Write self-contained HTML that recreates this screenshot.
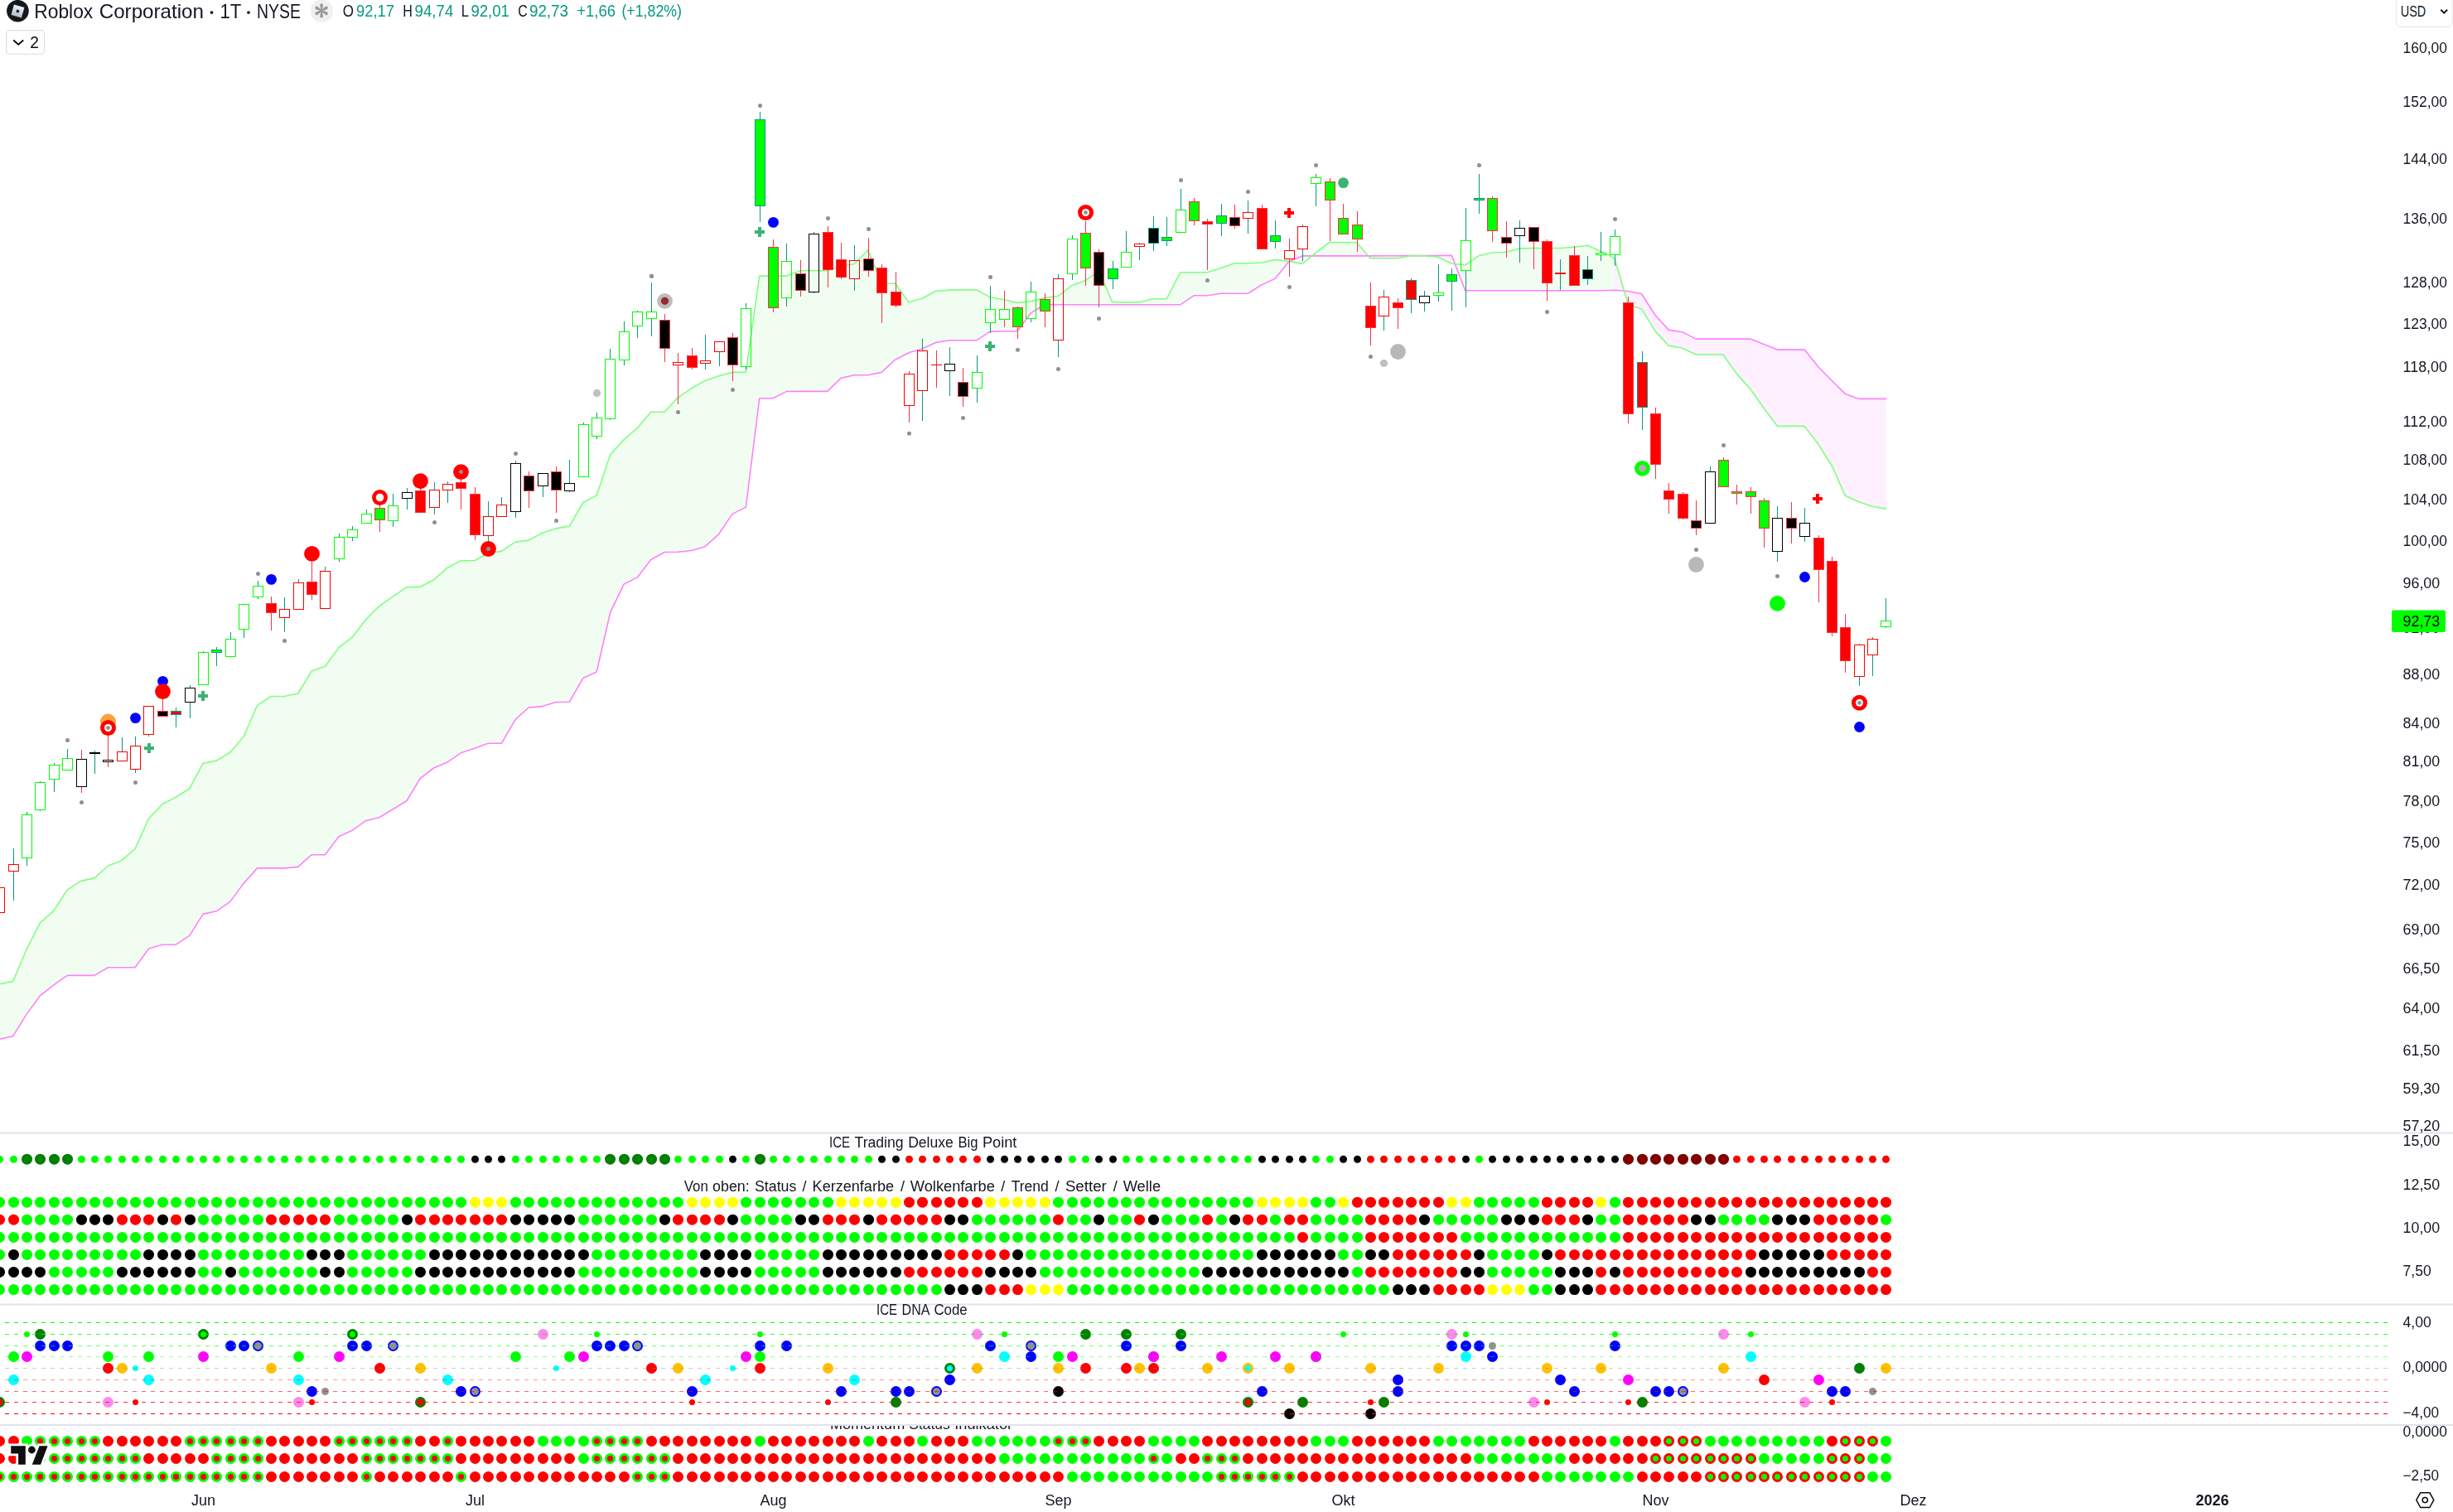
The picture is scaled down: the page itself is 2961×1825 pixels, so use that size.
<!DOCTYPE html>
<html><head><meta charset="utf-8"><title>Roblox Corporation</title>
<style>html,body{margin:0;padding:0;background:#fff;overflow:hidden}svg{display:block}text{font-family:"Liberation Sans",sans-serif}</style></head>
<body>
<svg width="2961" height="1825" viewBox="0 0 2961 1825" font-family="Liberation Sans, sans-serif">
<path d="M-17.1 1188.4 L-0.7 1187.8 L-0.7 1254.3 L-17.1 1255.0Z M-0.7 1187.8 L15.7 1184.4 L15.7 1250.7 L-0.7 1254.3Z M15.7 1184.4 L32.1 1145.8 L32.1 1224.1 L15.7 1250.7Z M32.1 1145.8 L48.4 1113.8 L48.4 1201.8 L32.1 1224.1Z M48.4 1113.8 L64.8 1099.3 L64.8 1188.8 L48.4 1201.8Z M64.8 1099.3 L81.2 1074.1 L81.2 1177.4 L64.8 1188.8Z M81.2 1074.1 L97.6 1063.4 L97.6 1177.4 L81.2 1177.4Z M97.6 1063.4 L114.0 1059.9 L114.0 1177.4 L97.6 1177.4Z M114.0 1059.9 L130.4 1045.0 L130.4 1167.8 L114.0 1177.4Z M130.4 1045.0 L146.7 1038.7 L146.7 1167.8 L130.4 1167.8Z M146.7 1038.7 L163.1 1024.5 L163.1 1167.8 L146.7 1167.8Z M163.1 1024.5 L179.5 988.2 L179.5 1145.0 L163.1 1167.8Z M179.5 988.2 L195.9 970.7 L195.9 1140.2 L179.5 1145.0Z M195.9 970.7 L212.3 962.1 L212.3 1140.2 L195.9 1140.2Z M212.3 962.1 L228.7 952.0 L228.7 1129.4 L212.3 1140.2Z M228.7 952.0 L245.0 921.4 L245.0 1103.4 L228.7 1129.4Z M245.0 921.4 L261.4 918.1 L261.4 1099.7 L245.0 1103.4Z M261.4 918.1 L277.8 908.2 L277.8 1088.4 L261.4 1099.7Z M277.8 908.2 L294.2 888.8 L294.2 1066.1 L277.8 1088.4Z M294.2 888.8 L310.6 851.3 L310.6 1047.9 L294.2 1066.1Z M310.6 851.3 L327.0 840.5 L327.0 1047.9 L310.6 1047.9Z M327.0 840.5 L343.3 840.5 L343.3 1047.9 L327.0 1047.9Z M343.3 840.5 L359.7 837.0 L359.7 1046.4 L343.3 1047.9Z M359.7 837.0 L376.1 810.1 L376.1 1031.7 L359.7 1046.4Z M376.1 810.1 L392.5 804.3 L392.5 1031.7 L376.1 1031.7Z M392.5 804.3 L408.9 781.7 L408.9 1009.7 L392.5 1031.7Z M408.9 781.7 L425.3 769.1 L425.3 1002.2 L408.9 1009.7Z M425.3 769.1 L441.6 747.7 L441.6 990.7 L425.3 1002.2Z M441.6 747.7 L458.0 731.4 L458.0 986.5 L441.6 990.7Z M458.0 731.4 L474.4 719.8 L474.4 976.7 L458.0 986.5Z M474.4 719.8 L490.8 708.8 L490.8 966.8 L474.4 976.7Z M490.8 708.8 L507.2 708.4 L507.2 939.5 L490.8 966.8Z M507.2 708.4 L523.6 699.8 L523.6 927.0 L507.2 939.5Z M523.6 699.8 L539.9 685.4 L539.9 920.1 L523.6 927.0Z M539.9 685.4 L556.3 676.8 L556.3 908.8 L539.9 920.1Z M556.3 676.8 L572.7 676.8 L572.7 903.2 L556.3 908.8Z M572.7 676.8 L589.1 667.8 L589.1 897.2 L572.7 903.2Z M589.1 667.8 L605.5 665.4 L605.5 897.2 L589.1 897.2Z M605.5 665.4 L621.9 654.1 L621.9 868.6 L605.5 897.2Z M621.9 654.1 L638.2 652.1 L638.2 854.0 L621.9 868.6Z M638.2 652.1 L654.6 643.3 L654.6 852.6 L638.2 854.0Z M654.6 643.3 L671.0 637.9 L671.0 847.5 L654.6 852.6Z M671.0 637.9 L687.4 635.1 L687.4 847.2 L671.0 847.5Z M687.4 635.1 L703.8 606.5 L703.8 818.5 L687.4 847.2Z M703.8 606.5 L720.2 597.9 L720.2 811.0 L703.8 818.5Z M720.2 597.9 L736.5 549.0 L736.5 739.7 L720.2 811.0Z M736.5 549.0 L752.9 530.9 L752.9 705.3 L736.5 739.7Z M752.9 530.9 L769.3 516.7 L769.3 696.9 L752.9 705.3Z M769.3 516.7 L785.7 497.3 L785.7 675.5 L769.3 696.9Z M785.7 497.3 L802.1 497.3 L802.1 666.5 L785.7 675.5Z M802.1 497.3 L818.4 479.8 L818.4 666.2 L802.1 666.5Z M818.4 479.8 L834.8 468.8 L834.8 664.5 L818.4 666.2Z M834.8 468.8 L851.2 459.4 L851.2 659.7 L834.8 664.5Z M851.2 459.4 L867.6 453.8 L867.6 644.8 L851.2 659.7Z M867.6 453.8 L884.0 449.4 L884.0 620.4 L867.6 644.8Z M884.0 449.4 L900.4 449.4 L900.4 612.1 L884.0 620.4Z M900.4 449.4 L916.7 333.1 L916.7 480.8 L900.4 612.1Z M916.7 333.1 L933.1 333.1 L933.1 480.8 L916.7 480.8Z M933.1 333.1 L949.5 333.1 L949.5 472.4 L933.1 480.8Z M949.5 333.1 L965.9 326.7 L965.9 472.4 L949.5 472.4Z M965.9 326.7 L982.3 326.7 L982.3 472.4 L965.9 472.4Z M982.3 326.7 L998.7 326.7 L998.7 472.4 L982.3 472.4Z M998.7 326.7 L1015.0 321.3 L1015.0 456.4 L998.7 472.4Z M1015.0 321.3 L1031.4 318.5 L1031.4 452.8 L1015.0 456.4Z M1031.4 318.5 L1047.8 301.8 L1047.8 452.8 L1031.4 452.8Z M1047.8 301.8 L1064.2 342.3 L1064.2 449.4 L1047.8 452.8Z M1064.2 342.3 L1080.6 342.3 L1080.6 434.2 L1064.2 449.4Z M1080.6 342.3 L1097.0 364.7 L1097.0 425.8 L1080.6 434.2Z M1097.0 364.7 L1113.3 360.3 L1113.3 420.8 L1097.0 425.8Z M1113.3 360.3 L1129.7 351.3 L1129.7 413.4 L1113.3 420.8Z M1129.7 351.3 L1146.1 350.1 L1146.1 410.7 L1129.7 413.4Z M1146.1 350.1 L1162.5 349.9 L1162.5 410.7 L1146.1 410.7Z M1162.5 349.9 L1178.9 349.9 L1178.9 410.7 L1162.5 410.7Z M1178.9 349.9 L1195.3 358.8 L1195.3 400.1 L1178.9 410.7Z M1195.3 358.8 L1211.6 361.8 L1211.6 399.7 L1195.3 400.1Z M1211.6 361.8 L1228.0 365.4 L1228.0 399.7 L1211.6 399.7Z M1228.0 365.4 L1244.4 363.8 L1244.4 377.8 L1228.0 399.7Z M1244.4 363.8 L1260.8 359.4 L1260.8 367.8 L1244.4 377.8Z M1260.8 359.4 L1277.2 357.4 L1277.2 367.8 L1260.8 367.8Z M1277.2 357.4 L1293.6 344.8 L1293.6 367.8 L1277.2 367.8Z M1293.6 344.8 L1309.9 338.8 L1309.9 367.8 L1293.6 367.8Z M1309.9 338.8 L1326.3 326.8 L1326.3 367.8 L1309.9 367.8Z M1326.3 326.8 L1342.7 364.8 L1342.7 367.8 L1326.3 367.8Z M1342.7 364.8 L1359.1 364.8 L1359.1 367.8 L1342.7 367.8Z M1359.1 364.8 L1375.5 364.8 L1375.5 367.8 L1359.1 367.8Z M1375.5 364.8 L1391.9 360.8 L1391.9 367.8 L1375.5 367.8Z M1391.9 360.8 L1408.2 360.8 L1408.2 367.8 L1391.9 367.8Z M1408.2 360.8 L1424.6 328.8 L1424.6 367.8 L1408.2 367.8Z M1424.6 328.8 L1441.0 328.8 L1441.0 356.8 L1424.6 367.8Z M1441.0 328.8 L1457.4 328.8 L1457.4 356.8 L1441.0 356.8Z M1457.4 328.8 L1473.8 323.4 L1473.8 354.2 L1457.4 356.8Z M1473.8 323.4 L1490.2 317.8 L1490.2 354.2 L1473.8 354.2Z M1490.2 317.8 L1506.5 317.8 L1506.5 354.2 L1490.2 354.2Z M1506.5 317.8 L1522.9 317.0 L1522.9 343.8 L1506.5 354.2Z M1522.9 317.0 L1539.3 313.4 L1539.3 336.2 L1522.9 343.8Z M1539.3 313.4 L1555.7 315.4 L1555.7 315.8 L1539.3 336.2Z M1572.1 318.4 L1583.6 308.9 L1572.1 308.9Z M1583.6 308.9 L1588.5 304.9 L1588.5 308.9Z M1588.5 304.9 L1604.8 292.5 L1604.8 308.9 L1588.5 308.9Z M1604.8 292.5 L1621.2 292.5 L1621.2 308.9 L1604.8 308.9Z M1621.2 292.5 L1637.6 292.7 L1637.6 308.9 L1621.2 308.9Z M1752.3 318.2 L1756.2 318.6 L1752.3 308.4Z M1756.2 318.6 L1768.7 319.8 L1768.7 350.8Z M1768.7 319.8 L1785.0 308.8 L1785.0 350.8 L1768.7 350.8Z M1785.0 308.8 L1801.4 304.8 L1801.4 350.8 L1785.0 350.8Z M1801.4 304.8 L1817.8 304.2 L1817.8 350.8 L1801.4 350.8Z M1817.8 304.2 L1834.2 299.9 L1834.2 350.8 L1817.8 350.8Z M1834.2 299.9 L1850.6 299.5 L1850.6 350.8 L1834.2 350.8Z M1850.6 299.5 L1867.0 299.5 L1867.0 350.8 L1850.6 350.8Z M1867.0 299.5 L1883.3 299.5 L1883.3 350.8 L1867.0 350.8Z M1883.3 299.5 L1899.7 298.3 L1899.7 350.8 L1883.3 350.8Z M1899.7 298.3 L1916.1 296.3 L1916.1 350.8 L1899.7 350.8Z M1916.1 296.3 L1932.5 303.2 L1932.5 350.8 L1916.1 350.8Z M1932.5 303.2 L1948.9 311.8 L1948.9 350.2 L1932.5 350.8Z" fill="#f2fdf2" stroke="#f2fdf2" stroke-width="0.6"/>
<path d="M1555.7 315.4 L1556.3 315.6 L1555.7 315.8Z M1556.3 315.6 L1572.1 318.4 L1572.1 308.9Z M1637.6 292.7 L1651.4 308.9 L1637.6 308.9Z M1651.4 308.9 L1654.0 311.8 L1654.0 308.9Z M1654.0 311.8 L1670.4 311.8 L1670.4 308.8 L1654.0 308.9Z M1670.4 311.8 L1686.7 311.8 L1686.7 308.7 L1670.4 308.8Z M1686.7 311.8 L1703.1 308.8 L1703.1 308.6 L1686.7 308.7Z M1703.1 308.8 L1719.5 308.8 L1719.5 308.6 L1703.1 308.6Z M1719.5 308.8 L1735.9 310.2 L1735.9 308.5 L1719.5 308.6Z M1735.9 310.2 L1752.3 318.2 L1752.3 308.4 L1735.9 308.5Z M1948.9 311.8 L1960.5 351.1 L1948.9 350.2Z M1960.5 351.1 L1965.3 367.4 L1965.3 351.5Z M1965.3 367.4 L1981.6 372.9 L1981.6 354.7 L1965.3 351.5Z M1981.6 372.9 L1998.0 399.6 L1998.0 380.5 L1981.6 354.7Z M1998.0 399.6 L2014.4 417.4 L2014.4 398.4 L1998.0 380.5Z M2014.4 417.4 L2030.8 420.3 L2030.8 400.8 L2014.4 398.4Z M2030.8 420.3 L2047.2 428.0 L2047.2 409.1 L2030.8 400.8Z M2047.2 428.0 L2063.6 428.0 L2063.6 409.1 L2047.2 409.1Z M2063.6 428.0 L2079.9 428.0 L2079.9 409.1 L2063.6 409.1Z M2079.9 428.0 L2096.3 451.1 L2096.3 409.1 L2079.9 409.1Z M2096.3 451.1 L2112.7 469.4 L2112.7 409.1 L2096.3 409.1Z M2112.7 469.4 L2129.1 492.8 L2129.1 415.5 L2112.7 409.1Z M2129.1 492.8 L2145.5 514.4 L2145.5 422.1 L2129.1 415.5Z M2145.5 514.4 L2161.9 514.4 L2161.9 422.1 L2145.5 422.1Z M2161.9 514.4 L2178.2 514.4 L2178.2 422.1 L2161.9 422.1Z M2178.2 514.4 L2194.6 535.8 L2194.6 442.5 L2178.2 422.1Z M2194.6 535.8 L2211.0 561.7 L2211.0 459.3 L2194.6 442.5Z M2211.0 561.7 L2227.4 598.3 L2227.4 475.4 L2211.0 459.3Z M2227.4 598.3 L2243.8 605.7 L2243.8 481.4 L2227.4 475.4Z M2243.8 605.7 L2260.2 611.3 L2260.2 481.4 L2243.8 481.4Z M2260.2 611.3 L2276.5 614.1 L2276.5 481.4 L2260.2 481.4Z" fill="#fef0fe" stroke="#fef0fe" stroke-width="0.6"/>
<polyline points="-17.1,1255.0 -0.7,1254.3 15.7,1250.7 32.1,1224.1 48.4,1201.8 64.8,1188.8 81.2,1177.4 97.6,1177.4 114.0,1177.4 130.4,1167.8 146.7,1167.8 163.1,1167.8 179.5,1145.0 195.9,1140.2 212.3,1140.2 228.7,1129.4 245.0,1103.4 261.4,1099.7 277.8,1088.4 294.2,1066.1 310.6,1047.9 327.0,1047.9 343.3,1047.9 359.7,1046.4 376.1,1031.7 392.5,1031.7 408.9,1009.7 425.3,1002.2 441.6,990.7 458.0,986.5 474.4,976.7 490.8,966.8 507.2,939.5 523.6,927.0 539.9,920.1 556.3,908.8 572.7,903.2 589.1,897.2 605.5,897.2 621.9,868.6 638.2,854.0 654.6,852.6 671.0,847.5 687.4,847.2 703.8,818.5 720.2,811.0 736.5,739.7 752.9,705.3 769.3,696.9 785.7,675.5 802.1,666.5 818.4,666.2 834.8,664.5 851.2,659.7 867.6,644.8 884.0,620.4 900.4,612.1 916.7,480.8 933.1,480.8 949.5,472.4 965.9,472.4 982.3,472.4 998.7,472.4 1015.0,456.4 1031.4,452.8 1047.8,452.8 1064.2,449.4 1080.6,434.2 1097.0,425.8 1113.3,420.8 1129.7,413.4 1146.1,410.7 1162.5,410.7 1178.9,410.7 1195.3,400.1 1211.6,399.7 1228.0,399.7 1244.4,377.8 1260.8,367.8 1277.2,367.8 1293.6,367.8 1309.9,367.8 1326.3,367.8 1342.7,367.8 1359.1,367.8 1375.5,367.8 1391.9,367.8 1408.2,367.8 1424.6,367.8 1441.0,356.8 1457.4,356.8 1473.8,354.2 1490.2,354.2 1506.5,354.2 1522.9,343.8 1539.3,336.2 1555.7,315.8 1572.1,308.9 1588.5,308.9 1604.8,308.9 1621.2,308.9 1637.6,308.9 1654.0,308.9 1670.4,308.8 1686.7,308.7 1703.1,308.6 1719.5,308.6 1735.9,308.5 1752.3,308.4 1768.7,350.8 1785.0,350.8 1801.4,350.8 1817.8,350.8 1834.2,350.8 1850.6,350.8 1867.0,350.8 1883.3,350.8 1899.7,350.8 1916.1,350.8 1932.5,350.8 1948.9,350.2 1965.3,351.5 1981.6,354.7 1998.0,380.5 2014.4,398.4 2030.8,400.8 2047.2,409.1 2063.6,409.1 2079.9,409.1 2096.3,409.1 2112.7,409.1 2129.1,415.5 2145.5,422.1 2161.9,422.1 2178.2,422.1 2194.6,442.5 2211.0,459.3 2227.4,475.4 2243.8,481.4 2260.2,481.4 2276.5,481.4" fill="none" stroke="#ff80ff" stroke-width="1.6" stroke-linejoin="round" stroke-linecap="round"/>
<polyline points="-17.1,1188.4 -0.7,1187.8 15.7,1184.4 32.1,1145.8 48.4,1113.8 64.8,1099.3 81.2,1074.1 97.6,1063.4 114.0,1059.9 130.4,1045.0 146.7,1038.7 163.1,1024.5 179.5,988.2 195.9,970.7 212.3,962.1 228.7,952.0 245.0,921.4 261.4,918.1 277.8,908.2 294.2,888.8 310.6,851.3 327.0,840.5 343.3,840.5 359.7,837.0 376.1,810.1 392.5,804.3 408.9,781.7 425.3,769.1 441.6,747.7 458.0,731.4 474.4,719.8 490.8,708.8 507.2,708.4 523.6,699.8 539.9,685.4 556.3,676.8 572.7,676.8 589.1,667.8 605.5,665.4 621.9,654.1 638.2,652.1 654.6,643.3 671.0,637.9 687.4,635.1 703.8,606.5 720.2,597.9 736.5,549.0 752.9,530.9 769.3,516.7 785.7,497.3 802.1,497.3 818.4,479.8 834.8,468.8 851.2,459.4 867.6,453.8 884.0,449.4 900.4,449.4 916.7,333.1 933.1,333.1 949.5,333.1 965.9,326.7 982.3,326.7 998.7,326.7 1015.0,321.3 1031.4,318.5 1047.8,301.8 1064.2,342.3 1080.6,342.3 1097.0,364.7 1113.3,360.3 1129.7,351.3 1146.1,350.1 1162.5,349.9 1178.9,349.9 1195.3,358.8 1211.6,361.8 1228.0,365.4 1244.4,363.8 1260.8,359.4 1277.2,357.4 1293.6,344.8 1309.9,338.8 1326.3,326.8 1342.7,364.8 1359.1,364.8 1375.5,364.8 1391.9,360.8 1408.2,360.8 1424.6,328.8 1441.0,328.8 1457.4,328.8 1473.8,323.4 1490.2,317.8 1506.5,317.8 1522.9,317.0 1539.3,313.4 1555.7,315.4 1572.1,318.4 1588.5,304.9 1604.8,292.5 1621.2,292.5 1637.6,292.7 1654.0,311.8 1670.4,311.8 1686.7,311.8 1703.1,308.8 1719.5,308.8 1735.9,310.2 1752.3,318.2 1768.7,319.8 1785.0,308.8 1801.4,304.8 1817.8,304.2 1834.2,299.9 1850.6,299.5 1867.0,299.5 1883.3,299.5 1899.7,298.3 1916.1,296.3 1932.5,303.2 1948.9,311.8 1965.3,367.4 1981.6,372.9 1998.0,399.6 2014.4,417.4 2030.8,420.3 2047.2,428.0 2063.6,428.0 2079.9,428.0 2096.3,451.1 2112.7,469.4 2129.1,492.8 2145.5,514.4 2161.9,514.4 2178.2,514.4 2194.6,535.8 2211.0,561.7 2227.4,598.3 2243.8,605.7 2260.2,611.3 2276.5,614.1" fill="none" stroke="#80ff80" stroke-width="1.6" stroke-linejoin="round" stroke-linecap="round"/>
<g shape-rendering="crispEdges">
<path d="M-7 1071h13v31h-13z M-6 1072v29h11v-29z" fill="#ff0000" fill-rule="evenodd"/>
<rect x="16" y="1024" width="1" height="19" fill="#089981"/>
<rect x="16" y="1052" width="1" height="35" fill="#089981"/>
<path d="M10 1043h13v9h-13z M11 1044v7h11v-7z" fill="#ff0000" fill-rule="evenodd"/>
<rect x="32" y="980" width="1" height="3" fill="#089981"/>
<rect x="32" y="1036" width="1" height="9" fill="#089981"/>
<path d="M26 983h13v53h-13z M27 984v51h11v-51z" fill="#00ff00" fill-rule="evenodd"/>
<rect x="48" y="943" width="1" height="1" fill="#089981"/>
<rect x="48" y="978" width="1" height="1" fill="#089981"/>
<path d="M42 944h13v34h-13z M43 945v32h11v-32z" fill="#00ff00" fill-rule="evenodd"/>
<rect x="65" y="921" width="1" height="2" fill="#089981"/>
<rect x="65" y="941" width="1" height="15" fill="#089981"/>
<path d="M59 923h13v18h-13z M60 924v16h11v-16z" fill="#00ff00" fill-rule="evenodd"/>
<rect x="81" y="904" width="1" height="11" fill="#089981"/>
<path d="M75 915h13v15h-13z M76 916v13h11v-13z" fill="#00ff00" fill-rule="evenodd"/>
<rect x="98" y="905" width="1" height="11" fill="#f23645"/>
<rect x="98" y="950" width="1" height="7" fill="#f23645"/>
<path d="M92 916h13v34h-13z M93 917v32h11v-32z" fill="#000000" fill-rule="evenodd"/>
<rect x="114" y="906" width="1" height="2" fill="#089981"/>
<rect x="114" y="910" width="1" height="24" fill="#089981"/>
<rect x="108" y="908" width="13" height="2" fill="#000000"/>
<rect x="130" y="888" width="1" height="29" fill="#f23645"/>
<rect x="130" y="920" width="1" height="6" fill="#f23645"/>
<rect x="124" y="917" width="13" height="3" fill="#000000"/>
<rect x="125" y="918" width="11" height="1" fill="#fff"/>
<rect x="147" y="890" width="1" height="17" fill="#089981"/>
<path d="M141 907h13v12h-13z M142 908v10h11v-10z" fill="#ff0000" fill-rule="evenodd"/>
<rect x="163" y="889" width="1" height="11" fill="#089981"/>
<rect x="163" y="929" width="1" height="4" fill="#089981"/>
<path d="M157 900h13v29h-13z M158 901v27h11v-27z" fill="#ff0000" fill-rule="evenodd"/>
<rect x="179" y="887" width="1" height="2" fill="#089981"/>
<path d="M173 852h13v35h-13z M174 853v33h11v-33z" fill="#ff0000" fill-rule="evenodd"/>
<rect x="196" y="843" width="1" height="15" fill="#f23645"/>
<rect x="190" y="858" width="13" height="7" fill="#f23645"/>
<rect x="191" y="859" width="11" height="5" fill="#000000"/>
<rect x="212" y="854" width="1" height="4" fill="#089981"/>
<rect x="212" y="863" width="1" height="15" fill="#089981"/>
<rect x="206" y="858" width="13" height="5" fill="#089981"/>
<rect x="207" y="859" width="11" height="3" fill="#ff0000"/>
<rect x="229" y="827" width="1" height="3" fill="#089981"/>
<rect x="229" y="848" width="1" height="19" fill="#089981"/>
<path d="M223 830h13v18h-13z M224 831v16h11v-16z" fill="#000000" fill-rule="evenodd"/>
<rect x="245" y="786" width="1" height="1" fill="#089981"/>
<path d="M239 787h13v40h-13z M240 788v38h11v-38z" fill="#00ff00" fill-rule="evenodd"/>
<rect x="261" y="781" width="1" height="3" fill="#089981"/>
<rect x="261" y="788" width="1" height="16" fill="#089981"/>
<rect x="255" y="784" width="13" height="4" fill="#089981"/>
<rect x="256" y="785" width="11" height="2" fill="#00ff00"/>
<rect x="278" y="763" width="1" height="8" fill="#089981"/>
<path d="M272 771h13v22h-13z M273 772v20h11v-20z" fill="#00ff00" fill-rule="evenodd"/>
<rect x="294" y="760" width="1" height="10" fill="#089981"/>
<path d="M288 729h13v31h-13z M289 730v29h11v-29z" fill="#00ff00" fill-rule="evenodd"/>
<rect x="311" y="701" width="1" height="6" fill="#089981"/>
<rect x="311" y="721" width="1" height="2" fill="#089981"/>
<path d="M305 707h13v14h-13z M306 708v12h11v-12z" fill="#00ff00" fill-rule="evenodd"/>
<rect x="327" y="720" width="1" height="8" fill="#f23645"/>
<rect x="327" y="740" width="1" height="21" fill="#f23645"/>
<rect x="321" y="728" width="13" height="12" fill="#f23645"/>
<rect x="322" y="729" width="11" height="10" fill="#ff0000"/>
<rect x="343" y="721" width="1" height="14" fill="#089981"/>
<rect x="343" y="746" width="1" height="17" fill="#089981"/>
<path d="M337 735h13v11h-13z M338 736v9h11v-9z" fill="#ff0000" fill-rule="evenodd"/>
<rect x="360" y="699" width="1" height="4" fill="#089981"/>
<path d="M354 703h13v33h-13z M355 704v31h11v-31z" fill="#ff0000" fill-rule="evenodd"/>
<rect x="376" y="678" width="1" height="24" fill="#f23645"/>
<rect x="376" y="718" width="1" height="6" fill="#f23645"/>
<rect x="370" y="702" width="13" height="16" fill="#f23645"/>
<rect x="371" y="703" width="11" height="14" fill="#ff0000"/>
<rect x="392" y="684" width="1" height="5" fill="#089981"/>
<path d="M386 689h13v46h-13z M387 690v44h11v-44z" fill="#ff0000" fill-rule="evenodd"/>
<rect x="409" y="644" width="1" height="4" fill="#089981"/>
<rect x="409" y="675" width="1" height="3" fill="#089981"/>
<path d="M403 648h13v27h-13z M404 649v25h11v-25z" fill="#00ff00" fill-rule="evenodd"/>
<rect x="425" y="635" width="1" height="4" fill="#089981"/>
<rect x="425" y="649" width="1" height="4" fill="#089981"/>
<path d="M419 639h13v10h-13z M420 640v8h11v-8z" fill="#00ff00" fill-rule="evenodd"/>
<rect x="442" y="615" width="1" height="5" fill="#089981"/>
<path d="M436 620h13v12h-13z M437 621v10h11v-10z" fill="#00ff00" fill-rule="evenodd"/>
<rect x="458" y="610" width="1" height="3" fill="#f23645"/>
<rect x="458" y="628" width="1" height="14" fill="#f23645"/>
<rect x="452" y="613" width="13" height="15" fill="#f23645"/>
<rect x="453" y="614" width="11" height="13" fill="#00ff00"/>
<rect x="474" y="596" width="1" height="14" fill="#089981"/>
<rect x="474" y="629" width="1" height="7" fill="#089981"/>
<path d="M468 610h13v19h-13z M469 611v17h11v-17z" fill="#00ff00" fill-rule="evenodd"/>
<rect x="491" y="589" width="1" height="5" fill="#089981"/>
<rect x="491" y="602" width="1" height="13" fill="#089981"/>
<path d="M485 594h13v8h-13z M486 595v6h11v-6z" fill="#000000" fill-rule="evenodd"/>
<rect x="507" y="589" width="1" height="3" fill="#f23645"/>
<rect x="501" y="592" width="13" height="27" fill="#f23645"/>
<rect x="502" y="593" width="11" height="25" fill="#ff0000"/>
<rect x="524" y="582" width="1" height="9" fill="#089981"/>
<rect x="524" y="613" width="1" height="8" fill="#089981"/>
<path d="M518 591h13v22h-13z M519 592v20h11v-20z" fill="#ff0000" fill-rule="evenodd"/>
<rect x="540" y="581" width="1" height="3" fill="#089981"/>
<rect x="540" y="592" width="1" height="15" fill="#089981"/>
<path d="M534 584h13v8h-13z M535 585v6h11v-6z" fill="#ff0000" fill-rule="evenodd"/>
<rect x="556" y="578" width="1" height="4" fill="#f23645"/>
<rect x="556" y="590" width="1" height="25" fill="#f23645"/>
<rect x="550" y="582" width="13" height="8" fill="#f23645"/>
<rect x="551" y="583" width="11" height="6" fill="#ff0000"/>
<rect x="573" y="588" width="1" height="8" fill="#f23645"/>
<rect x="573" y="646" width="1" height="6" fill="#f23645"/>
<rect x="567" y="596" width="13" height="50" fill="#f23645"/>
<rect x="568" y="597" width="11" height="48" fill="#ff0000"/>
<rect x="589" y="605" width="1" height="18" fill="#089981"/>
<rect x="589" y="647" width="1" height="6" fill="#089981"/>
<path d="M583 623h13v24h-13z M584 624v22h11v-22z" fill="#ff0000" fill-rule="evenodd"/>
<rect x="605" y="600" width="1" height="9" fill="#089981"/>
<path d="M599 609h13v15h-13z M600 610v13h11v-13z" fill="#ff0000" fill-rule="evenodd"/>
<rect x="622" y="556" width="1" height="3" fill="#089981"/>
<rect x="622" y="618" width="1" height="7" fill="#089981"/>
<path d="M616 559h13v59h-13z M617 560v57h11v-57z" fill="#000000" fill-rule="evenodd"/>
<rect x="638" y="569" width="1" height="5" fill="#f23645"/>
<rect x="638" y="593" width="1" height="20" fill="#f23645"/>
<rect x="632" y="574" width="13" height="19" fill="#f23645"/>
<rect x="633" y="575" width="11" height="17" fill="#000000"/>
<rect x="655" y="587" width="1" height="13" fill="#089981"/>
<path d="M649 571h13v16h-13z M650 572v14h11v-14z" fill="#000000" fill-rule="evenodd"/>
<rect x="671" y="563" width="1" height="6" fill="#f23645"/>
<rect x="671" y="592" width="1" height="27" fill="#f23645"/>
<rect x="665" y="569" width="13" height="23" fill="#f23645"/>
<rect x="666" y="570" width="11" height="21" fill="#000000"/>
<rect x="687" y="555" width="1" height="28" fill="#089981"/>
<rect x="687" y="593" width="1" height="1" fill="#089981"/>
<path d="M681 583h13v10h-13z M682 584v8h11v-8z" fill="#000000" fill-rule="evenodd"/>
<rect x="704" y="510" width="1" height="2" fill="#089981"/>
<path d="M698 512h13v64h-13z M699 513v62h11v-62z" fill="#00ff00" fill-rule="evenodd"/>
<rect x="720" y="498" width="1" height="6" fill="#089981"/>
<rect x="720" y="527" width="1" height="3" fill="#089981"/>
<path d="M714 504h13v23h-13z M715 505v21h11v-21z" fill="#00ff00" fill-rule="evenodd"/>
<rect x="736" y="421" width="1" height="12" fill="#089981"/>
<rect x="736" y="506" width="1" height="1" fill="#089981"/>
<path d="M730 433h13v73h-13z M731 434v71h11v-71z" fill="#00ff00" fill-rule="evenodd"/>
<rect x="753" y="388" width="1" height="12" fill="#089981"/>
<rect x="753" y="435" width="1" height="6" fill="#089981"/>
<path d="M747 400h13v35h-13z M748 401v33h11v-33z" fill="#00ff00" fill-rule="evenodd"/>
<rect x="769" y="375" width="1" height="1" fill="#089981"/>
<rect x="769" y="394" width="1" height="14" fill="#089981"/>
<path d="M763 376h13v18h-13z M764 377v16h11v-16z" fill="#00ff00" fill-rule="evenodd"/>
<rect x="786" y="341" width="1" height="35" fill="#089981"/>
<rect x="786" y="385" width="1" height="21" fill="#089981"/>
<path d="M780 376h13v9h-13z M781 377v7h11v-7z" fill="#00ff00" fill-rule="evenodd"/>
<rect x="802" y="379" width="1" height="7" fill="#f23645"/>
<rect x="802" y="421" width="1" height="16" fill="#f23645"/>
<rect x="796" y="386" width="13" height="35" fill="#f23645"/>
<rect x="797" y="387" width="11" height="33" fill="#000000"/>
<rect x="818" y="426" width="1" height="11" fill="#f23645"/>
<rect x="818" y="441" width="1" height="47" fill="#f23645"/>
<path d="M812 437h13v4h-13z M813 438v2h11v-2z" fill="#ff0000" fill-rule="evenodd"/>
<rect x="835" y="420" width="1" height="9" fill="#f23645"/>
<rect x="835" y="444" width="1" height="2" fill="#f23645"/>
<rect x="829" y="429" width="13" height="15" fill="#f23645"/>
<rect x="830" y="430" width="11" height="13" fill="#ff0000"/>
<rect x="851" y="404" width="1" height="31" fill="#089981"/>
<rect x="851" y="439" width="1" height="7" fill="#089981"/>
<path d="M845 435h13v4h-13z M846 436v2h11v-2z" fill="#ff0000" fill-rule="evenodd"/>
<rect x="868" y="425" width="1" height="17" fill="#089981"/>
<path d="M862 412h13v13h-13z M863 413v11h11v-11z" fill="#ff0000" fill-rule="evenodd"/>
<rect x="884" y="402" width="1" height="5" fill="#f23645"/>
<rect x="884" y="441" width="1" height="19" fill="#f23645"/>
<rect x="878" y="407" width="13" height="34" fill="#f23645"/>
<rect x="879" y="408" width="11" height="32" fill="#000000"/>
<rect x="900" y="366" width="1" height="6" fill="#089981"/>
<rect x="900" y="443" width="1" height="3" fill="#089981"/>
<path d="M894 372h13v71h-13z M895 373v69h11v-69z" fill="#00ff00" fill-rule="evenodd"/>
<rect x="917" y="135" width="1" height="9" fill="#089981"/>
<rect x="917" y="249" width="1" height="19" fill="#089981"/>
<rect x="911" y="144" width="13" height="105" fill="#089981"/>
<rect x="912" y="145" width="11" height="103" fill="#00ff00"/>
<rect x="933" y="289" width="1" height="9" fill="#f23645"/>
<rect x="933" y="372" width="1" height="5" fill="#f23645"/>
<rect x="927" y="298" width="13" height="74" fill="#f23645"/>
<rect x="928" y="299" width="11" height="72" fill="#00ff00"/>
<rect x="949" y="294" width="1" height="21" fill="#089981"/>
<rect x="949" y="360" width="1" height="10" fill="#089981"/>
<path d="M943 315h13v45h-13z M944 316v43h11v-43z" fill="#00ff00" fill-rule="evenodd"/>
<rect x="966" y="314" width="1" height="16" fill="#f23645"/>
<rect x="966" y="351" width="1" height="7" fill="#f23645"/>
<rect x="960" y="330" width="13" height="21" fill="#f23645"/>
<rect x="961" y="331" width="11" height="19" fill="#000000"/>
<rect x="982" y="280" width="1" height="2" fill="#089981"/>
<rect x="982" y="353" width="1" height="1" fill="#089981"/>
<path d="M976 282h13v71h-13z M977 283v69h11v-69z" fill="#000000" fill-rule="evenodd"/>
<rect x="999" y="273" width="1" height="7" fill="#f23645"/>
<rect x="999" y="326" width="1" height="21" fill="#f23645"/>
<rect x="993" y="280" width="13" height="46" fill="#f23645"/>
<rect x="994" y="281" width="11" height="44" fill="#ff0000"/>
<rect x="1015" y="293" width="1" height="20" fill="#f23645"/>
<rect x="1015" y="335" width="1" height="2" fill="#f23645"/>
<rect x="1009" y="313" width="13" height="22" fill="#f23645"/>
<rect x="1010" y="314" width="11" height="20" fill="#ff0000"/>
<rect x="1031" y="296" width="1" height="18" fill="#089981"/>
<rect x="1031" y="337" width="1" height="14" fill="#089981"/>
<path d="M1025 314h13v23h-13z M1026 315v21h11v-21z" fill="#ff0000" fill-rule="evenodd"/>
<rect x="1048" y="287" width="1" height="25" fill="#f23645"/>
<rect x="1048" y="327" width="1" height="7" fill="#f23645"/>
<rect x="1042" y="312" width="13" height="15" fill="#f23645"/>
<rect x="1043" y="313" width="11" height="13" fill="#000000"/>
<rect x="1064" y="319" width="1" height="4" fill="#f23645"/>
<rect x="1064" y="354" width="1" height="36" fill="#f23645"/>
<rect x="1058" y="323" width="13" height="31" fill="#f23645"/>
<rect x="1059" y="324" width="11" height="29" fill="#ff0000"/>
<rect x="1081" y="328" width="1" height="24" fill="#f23645"/>
<rect x="1081" y="369" width="1" height="2" fill="#f23645"/>
<rect x="1075" y="352" width="13" height="17" fill="#f23645"/>
<rect x="1076" y="353" width="11" height="15" fill="#ff0000"/>
<rect x="1097" y="448" width="1" height="3" fill="#f23645"/>
<rect x="1097" y="490" width="1" height="20" fill="#f23645"/>
<path d="M1091 451h13v39h-13z M1092 452v37h11v-37z" fill="#ff0000" fill-rule="evenodd"/>
<rect x="1113" y="409" width="1" height="14" fill="#089981"/>
<rect x="1113" y="472" width="1" height="36" fill="#089981"/>
<path d="M1107 423h13v49h-13z M1108 424v47h11v-47z" fill="#ff0000" fill-rule="evenodd"/>
<rect x="1130" y="423" width="1" height="17" fill="#f23645"/>
<rect x="1130" y="441" width="1" height="27" fill="#f23645"/>
<rect x="1124" y="440" width="13" height="1" fill="#ff0000"/>
<rect x="1146" y="419" width="1" height="20" fill="#089981"/>
<rect x="1146" y="448" width="1" height="30" fill="#089981"/>
<path d="M1140 439h13v9h-13z M1141 440v7h11v-7z" fill="#000000" fill-rule="evenodd"/>
<rect x="1162" y="444" width="1" height="17" fill="#f23645"/>
<rect x="1162" y="479" width="1" height="12" fill="#f23645"/>
<rect x="1156" y="461" width="13" height="18" fill="#f23645"/>
<rect x="1157" y="462" width="11" height="16" fill="#000000"/>
<rect x="1179" y="429" width="1" height="20" fill="#089981"/>
<rect x="1179" y="469" width="1" height="17" fill="#089981"/>
<path d="M1173 449h13v20h-13z M1174 450v18h11v-18z" fill="#00ff00" fill-rule="evenodd"/>
<rect x="1195" y="345" width="1" height="28" fill="#089981"/>
<rect x="1195" y="390" width="1" height="12" fill="#089981"/>
<path d="M1189 373h13v17h-13z M1190 374v15h11v-15z" fill="#00ff00" fill-rule="evenodd"/>
<rect x="1212" y="351" width="1" height="22" fill="#f23645"/>
<rect x="1212" y="386" width="1" height="9" fill="#f23645"/>
<path d="M1206 373h13v13h-13z M1207 374v11h11v-11z" fill="#00ff00" fill-rule="evenodd"/>
<rect x="1228" y="370" width="1" height="1" fill="#f23645"/>
<rect x="1228" y="395" width="1" height="14" fill="#f23645"/>
<rect x="1222" y="371" width="13" height="24" fill="#f23645"/>
<rect x="1223" y="372" width="11" height="22" fill="#00ff00"/>
<rect x="1244" y="340" width="1" height="12" fill="#089981"/>
<rect x="1244" y="385" width="1" height="4" fill="#089981"/>
<path d="M1238 352h13v33h-13z M1239 353v31h11v-31z" fill="#00ff00" fill-rule="evenodd"/>
<rect x="1261" y="354" width="1" height="7" fill="#f23645"/>
<rect x="1261" y="376" width="1" height="19" fill="#f23645"/>
<rect x="1255" y="361" width="13" height="15" fill="#f23645"/>
<rect x="1256" y="362" width="11" height="13" fill="#00ff00"/>
<rect x="1277" y="331" width="1" height="5" fill="#089981"/>
<rect x="1277" y="411" width="1" height="20" fill="#089981"/>
<path d="M1271 336h13v75h-13z M1272 337v73h11v-73z" fill="#ff0000" fill-rule="evenodd"/>
<rect x="1294" y="284" width="1" height="4" fill="#089981"/>
<rect x="1294" y="331" width="1" height="7" fill="#089981"/>
<path d="M1288 288h13v43h-13z M1289 289v41h11v-41z" fill="#00ff00" fill-rule="evenodd"/>
<rect x="1310" y="267" width="1" height="14" fill="#f23645"/>
<rect x="1310" y="324" width="1" height="21" fill="#f23645"/>
<rect x="1304" y="281" width="13" height="43" fill="#f23645"/>
<rect x="1305" y="282" width="11" height="41" fill="#00ff00"/>
<rect x="1326" y="301" width="1" height="3" fill="#f23645"/>
<rect x="1326" y="345" width="1" height="26" fill="#f23645"/>
<rect x="1320" y="304" width="13" height="41" fill="#f23645"/>
<rect x="1321" y="305" width="11" height="39" fill="#000000"/>
<rect x="1343" y="315" width="1" height="9" fill="#089981"/>
<rect x="1343" y="337" width="1" height="12" fill="#089981"/>
<rect x="1337" y="324" width="13" height="13" fill="#089981"/>
<rect x="1338" y="325" width="11" height="11" fill="#00ff00"/>
<rect x="1359" y="279" width="1" height="25" fill="#089981"/>
<path d="M1353 304h13v19h-13z M1354 305v17h11v-17z" fill="#00ff00" fill-rule="evenodd"/>
<rect x="1375" y="293" width="1" height="1" fill="#089981"/>
<rect x="1375" y="298" width="1" height="16" fill="#089981"/>
<path d="M1369 294h13v4h-13z M1370 295v2h11v-2z" fill="#ff0000" fill-rule="evenodd"/>
<rect x="1392" y="261" width="1" height="14" fill="#089981"/>
<rect x="1392" y="294" width="1" height="9" fill="#089981"/>
<rect x="1386" y="275" width="13" height="19" fill="#089981"/>
<rect x="1387" y="276" width="11" height="17" fill="#000000"/>
<rect x="1408" y="262" width="1" height="24" fill="#089981"/>
<rect x="1408" y="291" width="1" height="6" fill="#089981"/>
<rect x="1402" y="286" width="13" height="5" fill="#089981"/>
<rect x="1403" y="287" width="11" height="3" fill="#00ff00"/>
<rect x="1425" y="228" width="1" height="25" fill="#089981"/>
<path d="M1419 253h13v28h-13z M1420 254v26h11v-26z" fill="#00ff00" fill-rule="evenodd"/>
<rect x="1441" y="239" width="1" height="4" fill="#f23645"/>
<rect x="1441" y="267" width="1" height="5" fill="#f23645"/>
<rect x="1435" y="243" width="13" height="24" fill="#f23645"/>
<rect x="1436" y="244" width="11" height="22" fill="#00ff00"/>
<rect x="1457" y="264" width="1" height="3" fill="#f23645"/>
<rect x="1457" y="271" width="1" height="55" fill="#f23645"/>
<rect x="1451" y="267" width="13" height="4" fill="#f23645"/>
<rect x="1452" y="268" width="11" height="2" fill="#ff0000"/>
<rect x="1474" y="246" width="1" height="14" fill="#089981"/>
<rect x="1474" y="270" width="1" height="15" fill="#089981"/>
<rect x="1468" y="260" width="13" height="10" fill="#089981"/>
<rect x="1469" y="261" width="11" height="8" fill="#00ff00"/>
<rect x="1490" y="247" width="1" height="15" fill="#f23645"/>
<rect x="1490" y="273" width="1" height="3" fill="#f23645"/>
<rect x="1484" y="262" width="13" height="11" fill="#f23645"/>
<rect x="1485" y="263" width="11" height="9" fill="#000000"/>
<rect x="1506" y="242" width="1" height="14" fill="#089981"/>
<rect x="1506" y="264" width="1" height="18" fill="#089981"/>
<path d="M1500 256h13v8h-13z M1501 257v6h11v-6z" fill="#ff0000" fill-rule="evenodd"/>
<rect x="1523" y="247" width="1" height="4" fill="#f23645"/>
<rect x="1517" y="251" width="13" height="50" fill="#f23645"/>
<rect x="1518" y="252" width="11" height="48" fill="#ff0000"/>
<rect x="1539" y="266" width="1" height="18" fill="#089981"/>
<rect x="1539" y="292" width="1" height="8" fill="#089981"/>
<rect x="1533" y="284" width="13" height="8" fill="#089981"/>
<rect x="1534" y="285" width="11" height="6" fill="#00ff00"/>
<rect x="1556" y="288" width="1" height="14" fill="#f23645"/>
<rect x="1556" y="313" width="1" height="21" fill="#f23645"/>
<path d="M1550 302h13v11h-13z M1551 303v9h11v-9z" fill="#ff0000" fill-rule="evenodd"/>
<rect x="1572" y="271" width="1" height="2" fill="#089981"/>
<rect x="1572" y="301" width="1" height="14" fill="#089981"/>
<path d="M1566 273h13v28h-13z M1567 274v26h11v-26z" fill="#ff0000" fill-rule="evenodd"/>
<rect x="1588" y="210" width="1" height="4" fill="#089981"/>
<rect x="1588" y="222" width="1" height="27" fill="#089981"/>
<path d="M1582 214h13v8h-13z M1583 215v6h11v-6z" fill="#00ff00" fill-rule="evenodd"/>
<rect x="1605" y="215" width="1" height="4" fill="#f23645"/>
<rect x="1605" y="242" width="1" height="49" fill="#f23645"/>
<rect x="1599" y="219" width="13" height="23" fill="#f23645"/>
<rect x="1600" y="220" width="11" height="21" fill="#00ff00"/>
<rect x="1621" y="246" width="1" height="17" fill="#f23645"/>
<rect x="1615" y="263" width="13" height="20" fill="#f23645"/>
<rect x="1616" y="264" width="11" height="18" fill="#00ff00"/>
<rect x="1638" y="255" width="1" height="16" fill="#f23645"/>
<rect x="1638" y="289" width="1" height="15" fill="#f23645"/>
<rect x="1632" y="271" width="13" height="18" fill="#f23645"/>
<rect x="1633" y="272" width="11" height="16" fill="#00ff00"/>
<rect x="1654" y="341" width="1" height="28" fill="#f23645"/>
<rect x="1654" y="396" width="1" height="21" fill="#f23645"/>
<rect x="1648" y="369" width="13" height="27" fill="#f23645"/>
<rect x="1649" y="370" width="11" height="25" fill="#ff0000"/>
<rect x="1670" y="350" width="1" height="8" fill="#089981"/>
<rect x="1670" y="382" width="1" height="17" fill="#089981"/>
<path d="M1664 358h13v24h-13z M1665 359v22h11v-22z" fill="#ff0000" fill-rule="evenodd"/>
<rect x="1687" y="360" width="1" height="5" fill="#f23645"/>
<rect x="1687" y="372" width="1" height="25" fill="#f23645"/>
<rect x="1681" y="365" width="13" height="7" fill="#f23645"/>
<rect x="1682" y="366" width="11" height="5" fill="#ff0000"/>
<rect x="1703" y="336" width="1" height="2" fill="#089981"/>
<rect x="1703" y="362" width="1" height="16" fill="#089981"/>
<rect x="1697" y="338" width="13" height="24" fill="#089981"/>
<rect x="1698" y="339" width="11" height="22" fill="#ff0000"/>
<rect x="1719" y="351" width="1" height="6" fill="#089981"/>
<rect x="1719" y="366" width="1" height="10" fill="#089981"/>
<path d="M1713 357h13v9h-13z M1714 358v7h11v-7z" fill="#000000" fill-rule="evenodd"/>
<rect x="1736" y="319" width="1" height="34" fill="#089981"/>
<rect x="1736" y="357" width="1" height="7" fill="#089981"/>
<path d="M1730 353h13v4h-13z M1731 354v2h11v-2z" fill="#00ff00" fill-rule="evenodd"/>
<rect x="1752" y="324" width="1" height="7" fill="#089981"/>
<rect x="1752" y="340" width="1" height="35" fill="#089981"/>
<rect x="1746" y="331" width="13" height="9" fill="#089981"/>
<rect x="1747" y="332" width="11" height="7" fill="#00ff00"/>
<rect x="1769" y="251" width="1" height="39" fill="#089981"/>
<rect x="1769" y="327" width="1" height="44" fill="#089981"/>
<path d="M1763 290h13v37h-13z M1764 291v35h11v-35z" fill="#00ff00" fill-rule="evenodd"/>
<rect x="1785" y="210" width="1" height="29" fill="#089981"/>
<rect x="1785" y="242" width="1" height="16" fill="#089981"/>
<rect x="1779" y="239" width="13" height="3" fill="#089981"/>
<rect x="1780" y="240" width="11" height="1" fill="#00ff00"/>
<rect x="1801" y="237" width="1" height="2" fill="#f23645"/>
<rect x="1801" y="279" width="1" height="13" fill="#f23645"/>
<rect x="1795" y="239" width="13" height="40" fill="#f23645"/>
<rect x="1796" y="240" width="11" height="38" fill="#00ff00"/>
<rect x="1818" y="267" width="1" height="19" fill="#f23645"/>
<rect x="1818" y="294" width="1" height="17" fill="#f23645"/>
<rect x="1812" y="286" width="13" height="8" fill="#f23645"/>
<rect x="1813" y="287" width="11" height="6" fill="#000000"/>
<rect x="1834" y="266" width="1" height="9" fill="#089981"/>
<rect x="1834" y="285" width="1" height="32" fill="#089981"/>
<path d="M1828 275h13v10h-13z M1829 276v8h11v-8z" fill="#000000" fill-rule="evenodd"/>
<rect x="1851" y="292" width="1" height="33" fill="#f23645"/>
<rect x="1845" y="274" width="13" height="18" fill="#f23645"/>
<rect x="1846" y="275" width="11" height="16" fill="#000000"/>
<rect x="1867" y="289" width="1" height="2" fill="#f23645"/>
<rect x="1867" y="342" width="1" height="21" fill="#f23645"/>
<rect x="1861" y="291" width="13" height="51" fill="#f23645"/>
<rect x="1862" y="292" width="11" height="49" fill="#ff0000"/>
<rect x="1883" y="313" width="1" height="16" fill="#089981"/>
<rect x="1883" y="331" width="1" height="19" fill="#089981"/>
<rect x="1877" y="329" width="13" height="2" fill="#ff0000"/>
<rect x="1900" y="297" width="1" height="11" fill="#f23645"/>
<rect x="1894" y="308" width="13" height="37" fill="#f23645"/>
<rect x="1895" y="309" width="11" height="35" fill="#ff0000"/>
<rect x="1916" y="309" width="1" height="16" fill="#089981"/>
<rect x="1916" y="337" width="1" height="7" fill="#089981"/>
<rect x="1910" y="325" width="13" height="12" fill="#089981"/>
<rect x="1911" y="326" width="11" height="10" fill="#000000"/>
<rect x="1932" y="280" width="1" height="25" fill="#089981"/>
<rect x="1932" y="308" width="1" height="7" fill="#089981"/>
<rect x="1926" y="305" width="13" height="3" fill="#00ff00"/>
<rect x="1927" y="306" width="11" height="1" fill="#fff"/>
<rect x="1949" y="277" width="1" height="8" fill="#089981"/>
<rect x="1949" y="308" width="1" height="13" fill="#089981"/>
<path d="M1943 285h13v23h-13z M1944 286v21h11v-21z" fill="#00ff00" fill-rule="evenodd"/>
<rect x="1965" y="358" width="1" height="7" fill="#f23645"/>
<rect x="1965" y="500" width="1" height="11" fill="#f23645"/>
<rect x="1959" y="365" width="13" height="135" fill="#f23645"/>
<rect x="1960" y="366" width="11" height="133" fill="#ff0000"/>
<rect x="1982" y="424" width="1" height="13" fill="#089981"/>
<rect x="1982" y="492" width="1" height="27" fill="#089981"/>
<rect x="1976" y="437" width="13" height="55" fill="#089981"/>
<rect x="1977" y="438" width="11" height="53" fill="#ff0000"/>
<rect x="1998" y="492" width="1" height="7" fill="#f23645"/>
<rect x="1998" y="561" width="1" height="17" fill="#f23645"/>
<rect x="1992" y="499" width="13" height="62" fill="#f23645"/>
<rect x="1993" y="500" width="11" height="60" fill="#ff0000"/>
<rect x="2014" y="583" width="1" height="9" fill="#f23645"/>
<rect x="2014" y="603" width="1" height="17" fill="#f23645"/>
<rect x="2008" y="592" width="13" height="11" fill="#f23645"/>
<rect x="2009" y="593" width="11" height="9" fill="#ff0000"/>
<rect x="2031" y="594" width="1" height="2" fill="#f23645"/>
<rect x="2031" y="626" width="1" height="1" fill="#f23645"/>
<rect x="2025" y="596" width="13" height="30" fill="#f23645"/>
<rect x="2026" y="597" width="11" height="28" fill="#ff0000"/>
<rect x="2047" y="604" width="1" height="24" fill="#f23645"/>
<rect x="2047" y="638" width="1" height="8" fill="#f23645"/>
<rect x="2041" y="628" width="13" height="10" fill="#f23645"/>
<rect x="2042" y="629" width="11" height="8" fill="#000000"/>
<rect x="2064" y="563" width="1" height="6" fill="#089981"/>
<path d="M2058 569h13v63h-13z M2059 570v61h11v-61z" fill="#000000" fill-rule="evenodd"/>
<rect x="2080" y="552" width="1" height="3" fill="#f23645"/>
<rect x="2074" y="555" width="13" height="33" fill="#f23645"/>
<rect x="2075" y="556" width="11" height="31" fill="#00ff00"/>
<rect x="2096" y="585" width="1" height="8" fill="#f23645"/>
<rect x="2096" y="596" width="1" height="13" fill="#f23645"/>
<rect x="2090" y="593" width="13" height="3" fill="#f23645"/>
<rect x="2091" y="594" width="11" height="1" fill="#00ff00"/>
<rect x="2113" y="588" width="1" height="5" fill="#f23645"/>
<rect x="2113" y="600" width="1" height="20" fill="#f23645"/>
<rect x="2107" y="593" width="13" height="7" fill="#f23645"/>
<rect x="2108" y="594" width="11" height="5" fill="#00ff00"/>
<rect x="2129" y="601" width="1" height="3" fill="#f23645"/>
<rect x="2129" y="638" width="1" height="23" fill="#f23645"/>
<rect x="2123" y="604" width="13" height="34" fill="#f23645"/>
<rect x="2124" y="605" width="11" height="32" fill="#00ff00"/>
<rect x="2145" y="611" width="1" height="14" fill="#089981"/>
<rect x="2145" y="666" width="1" height="12" fill="#089981"/>
<path d="M2139 625h13v41h-13z M2140 626v39h11v-39z" fill="#000000" fill-rule="evenodd"/>
<rect x="2162" y="606" width="1" height="19" fill="#f23645"/>
<rect x="2162" y="638" width="1" height="18" fill="#f23645"/>
<rect x="2156" y="625" width="13" height="13" fill="#f23645"/>
<rect x="2157" y="626" width="11" height="11" fill="#000000"/>
<rect x="2178" y="613" width="1" height="18" fill="#089981"/>
<rect x="2178" y="648" width="1" height="6" fill="#089981"/>
<path d="M2172 631h13v17h-13z M2173 632v15h11v-15z" fill="#000000" fill-rule="evenodd"/>
<rect x="2195" y="646" width="1" height="3" fill="#f23645"/>
<rect x="2195" y="688" width="1" height="39" fill="#f23645"/>
<rect x="2189" y="649" width="13" height="39" fill="#f23645"/>
<rect x="2190" y="650" width="11" height="37" fill="#ff0000"/>
<rect x="2211" y="672" width="1" height="5" fill="#f23645"/>
<rect x="2211" y="764" width="1" height="4" fill="#f23645"/>
<rect x="2205" y="677" width="13" height="87" fill="#f23645"/>
<rect x="2206" y="678" width="11" height="85" fill="#ff0000"/>
<rect x="2227" y="741" width="1" height="16" fill="#f23645"/>
<rect x="2227" y="798" width="1" height="14" fill="#f23645"/>
<rect x="2221" y="757" width="13" height="41" fill="#f23645"/>
<rect x="2222" y="758" width="11" height="39" fill="#ff0000"/>
<rect x="2244" y="777" width="1" height="1" fill="#089981"/>
<rect x="2244" y="817" width="1" height="11" fill="#089981"/>
<path d="M2238 778h13v39h-13z M2239 779v37h11v-37z" fill="#ff0000" fill-rule="evenodd"/>
<rect x="2260" y="769" width="1" height="2" fill="#089981"/>
<rect x="2260" y="791" width="1" height="25" fill="#089981"/>
<path d="M2254 771h13v20h-13z M2255 772v18h11v-18z" fill="#ff0000" fill-rule="evenodd"/>
<rect x="2276" y="722" width="1" height="27" fill="#089981"/>
<rect x="2276" y="757" width="1" height="1" fill="#089981"/>
<path d="M2270 749h13v8h-13z M2271 750v6h11v-6z" fill="#00ff00" fill-rule="evenodd"/>
</g>
<circle cx="130.5" cy="871.1" r="9.5" fill="#ffa040"/>
<circle cx="81.5" cy="893.5" r="2.5" fill="#909090"/>
<circle cx="98.5" cy="968.4" r="2.5" fill="#909090"/>
<circle cx="163.5" cy="944.6" r="2.5" fill="#909090"/>
<circle cx="130.5" cy="878.5" r="9.5" fill="#ff0000"/>
<circle cx="130.5" cy="878.5" r="4.5" fill="#fff"/>
<circle cx="130.5" cy="878.5" r="2.4" fill="#909090"/>
<circle cx="163.5" cy="866.6" r="6.4" fill="#0000ff"/>
<circle cx="196.5" cy="822.3" r="6.4" fill="#0000ff"/>
<circle cx="196.5" cy="834.6" r="9.4" fill="#ff0000"/>
<path shape-rendering="crispEdges" d="M174 901h12v4h-12z M178 897h4v12h-4z" fill="#3cb371"/>
<path shape-rendering="crispEdges" d="M239 838h12v4h-12z M243 834h4v12h-4z" fill="#3cb371"/>
<circle cx="311.5" cy="692.6" r="2.5" fill="#909090"/>
<circle cx="343.5" cy="773.5" r="2.5" fill="#909090"/>
<circle cx="524.5" cy="630.5" r="2.5" fill="#909090"/>
<circle cx="622.5" cy="547.4" r="2.5" fill="#909090"/>
<circle cx="671.5" cy="628.5" r="2.5" fill="#909090"/>
<circle cx="327.5" cy="699.4" r="6.4" fill="#0000ff"/>
<circle cx="376.5" cy="668.4" r="9.4" fill="#ff0000"/>
<circle cx="458.5" cy="600.5" r="9.4" fill="#ff0000"/>
<circle cx="458.5" cy="600.5" r="4.8" fill="#fff"/>
<circle cx="507.5" cy="580.6" r="9.4" fill="#ff0000"/>
<circle cx="556.5" cy="569.6" r="9.4" fill="#ff0000"/>
<circle cx="556.5" cy="569.6" r="2.5" fill="#909090"/>
<circle cx="589.5" cy="662.5" r="9.4" fill="#ff0000"/>
<circle cx="589.5" cy="662.5" r="2.5" fill="#909090"/>
<circle cx="786.5" cy="333.3" r="2.5" fill="#909090"/>
<circle cx="802.5" cy="363.3" r="9.4" fill="#bcbcbc"/>
<circle cx="802.5" cy="363.3" r="4.6" fill="#922b2b"/>
<circle cx="917.5" cy="127.4" r="2.5" fill="#909090"/>
<path shape-rendering="crispEdges" d="M911 278h12v4h-12z M915 274h4v12h-4z" fill="#3cb371"/>
<circle cx="933.5" cy="268.4" r="6.4" fill="#0000ff"/>
<circle cx="999.5" cy="263.6" r="2.5" fill="#909090"/>
<circle cx="1048.5" cy="276.6" r="2.5" fill="#909090"/>
<circle cx="786.5" cy="333.3" r="2.5" fill="#909090"/>
<circle cx="818.5" cy="497.5" r="2.5" fill="#909090"/>
<circle cx="884.5" cy="470.6" r="2.5" fill="#909090"/>
<circle cx="1097.5" cy="523.3" r="2.5" fill="#909090"/>
<circle cx="1162.5" cy="504.5" r="2.5" fill="#909090"/>
<circle cx="720.5" cy="474.4" r="4.6" fill="#c0c0c0"/>
<circle cx="1195.5" cy="334.4" r="2.5" fill="#909090"/>
<path shape-rendering="crispEdges" d="M1189 416h12v4h-12z M1193 412h4v12h-4z" fill="#3cb371"/>
<circle cx="1228.5" cy="422.3" r="2.5" fill="#909090"/>
<circle cx="1277.5" cy="445.5" r="2.5" fill="#909090"/>
<circle cx="1310.5" cy="256.5" r="9.5" fill="#ff0000"/>
<circle cx="1310.5" cy="256.5" r="4.5" fill="#fff"/>
<circle cx="1310.5" cy="256.5" r="2.4" fill="#909090"/>
<circle cx="1326.5" cy="384.4" r="2.5" fill="#909090"/>
<circle cx="1425.5" cy="217.4" r="2.5" fill="#909090"/>
<circle cx="1457.5" cy="338.4" r="2.5" fill="#909090"/>
<circle cx="1506.5" cy="231.5" r="2.5" fill="#909090"/>
<circle cx="1556.5" cy="346.6" r="2.5" fill="#909090"/>
<path shape-rendering="crispEdges" d="M1550 255h12v4h-12z M1554 251h4v12h-4z" fill="#ff0000"/>
<circle cx="1588.5" cy="199.4" r="2.5" fill="#909090"/>
<circle cx="1621.5" cy="220.6" r="6.4" fill="#3cb371"/>
<circle cx="1654.5" cy="430.5" r="2.5" fill="#909090"/>
<circle cx="1670.5" cy="438.5" r="4.6" fill="#c0c0c0"/>
<circle cx="1687.5" cy="424.5" r="9.4" fill="#b8b8b8"/>
<circle cx="1785.5" cy="199.4" r="2.5" fill="#909090"/>
<circle cx="1867.5" cy="376.6" r="2.5" fill="#909090"/>
<circle cx="1949.5" cy="264.5" r="2.5" fill="#909090"/>
<circle cx="2080.5" cy="537.4" r="2.5" fill="#909090"/>
<path shape-rendering="crispEdges" d="M2188 600h12v4h-12z M2192 596h4v12h-4z" fill="#ff0000"/>
<circle cx="1982.5" cy="565.3" r="9.4" fill="#00ff00"/>
<circle cx="1982.5" cy="565.3" r="4.5" fill="#b0b0b0"/>
<circle cx="2047.5" cy="663.5" r="2.5" fill="#909090"/>
<circle cx="2047.5" cy="681.5" r="9.4" fill="#b8b8b8"/>
<circle cx="2145.5" cy="695.5" r="2.5" fill="#909090"/>
<circle cx="2145.5" cy="728.4" r="9.4" fill="#00ff00"/>
<circle cx="2178.5" cy="696.5" r="6.4" fill="#0000ff"/>
<circle cx="2244.5" cy="848.3" r="9.5" fill="#ff0000"/>
<circle cx="2244.5" cy="848.3" r="4.5" fill="#fff"/>
<circle cx="2244.5" cy="848.3" r="2.4" fill="#909090"/>
<circle cx="2244.5" cy="877.5" r="6.4" fill="#0000ff"/>
<rect x="0" y="1366.5" width="2961" height="2" fill="#e0e3eb"/>
<rect x="0" y="1573.5" width="2961" height="2" fill="#e0e3eb"/>
<rect x="0" y="1719.0" width="2961" height="2" fill="#e0e3eb"/>
<circle cx="-0.5" cy="1399.2" r="4.5" fill="#00ff00"/>
<circle cx="16.5" cy="1399.2" r="4.5" fill="#00ff00"/>
<circle cx="32.5" cy="1399.2" r="6.5" fill="#008000"/>
<circle cx="48.5" cy="1399.2" r="6.5" fill="#008000"/>
<circle cx="65.5" cy="1399.2" r="6.5" fill="#008000"/>
<circle cx="81.5" cy="1399.2" r="6.5" fill="#008000"/>
<circle cx="98.5" cy="1399.2" r="4.5" fill="#00ff00"/>
<circle cx="114.5" cy="1399.2" r="4.5" fill="#00ff00"/>
<circle cx="130.5" cy="1399.2" r="4.5" fill="#00ff00"/>
<circle cx="147.5" cy="1399.2" r="4.5" fill="#00ff00"/>
<circle cx="163.5" cy="1399.2" r="4.5" fill="#00ff00"/>
<circle cx="179.5" cy="1399.2" r="4.5" fill="#00ff00"/>
<circle cx="196.5" cy="1399.2" r="4.5" fill="#00ff00"/>
<circle cx="212.5" cy="1399.2" r="4.5" fill="#00ff00"/>
<circle cx="229.5" cy="1399.2" r="4.5" fill="#00ff00"/>
<circle cx="245.5" cy="1399.2" r="4.5" fill="#00ff00"/>
<circle cx="261.5" cy="1399.2" r="4.5" fill="#00ff00"/>
<circle cx="278.5" cy="1399.2" r="4.5" fill="#00ff00"/>
<circle cx="294.5" cy="1399.2" r="4.5" fill="#00ff00"/>
<circle cx="311.5" cy="1399.2" r="4.5" fill="#00ff00"/>
<circle cx="327.5" cy="1399.2" r="4.5" fill="#00ff00"/>
<circle cx="343.5" cy="1399.2" r="4.5" fill="#00ff00"/>
<circle cx="360.5" cy="1399.2" r="4.5" fill="#00ff00"/>
<circle cx="376.5" cy="1399.2" r="4.5" fill="#00ff00"/>
<circle cx="392.5" cy="1399.2" r="4.5" fill="#00ff00"/>
<circle cx="409.5" cy="1399.2" r="4.5" fill="#00ff00"/>
<circle cx="425.5" cy="1399.2" r="4.5" fill="#00ff00"/>
<circle cx="442.5" cy="1399.2" r="4.5" fill="#00ff00"/>
<circle cx="458.5" cy="1399.2" r="4.5" fill="#00ff00"/>
<circle cx="474.5" cy="1399.2" r="4.5" fill="#00ff00"/>
<circle cx="491.5" cy="1399.2" r="4.5" fill="#00ff00"/>
<circle cx="507.5" cy="1399.2" r="4.5" fill="#00ff00"/>
<circle cx="524.5" cy="1399.2" r="4.5" fill="#00ff00"/>
<circle cx="540.5" cy="1399.2" r="4.5" fill="#00ff00"/>
<circle cx="556.5" cy="1399.2" r="4.5" fill="#00ff00"/>
<circle cx="573.5" cy="1399.2" r="4.5" fill="#000000"/>
<circle cx="589.5" cy="1399.2" r="4.5" fill="#000000"/>
<circle cx="605.5" cy="1399.2" r="4.5" fill="#000000"/>
<circle cx="622.5" cy="1399.2" r="4.5" fill="#00ff00"/>
<circle cx="638.5" cy="1399.2" r="4.5" fill="#00ff00"/>
<circle cx="655.5" cy="1399.2" r="4.5" fill="#00ff00"/>
<circle cx="671.5" cy="1399.2" r="4.5" fill="#00ff00"/>
<circle cx="687.5" cy="1399.2" r="4.5" fill="#00ff00"/>
<circle cx="704.5" cy="1399.2" r="4.5" fill="#00ff00"/>
<circle cx="720.5" cy="1399.2" r="4.5" fill="#00ff00"/>
<circle cx="736.5" cy="1399.2" r="6.5" fill="#008000"/>
<circle cx="753.5" cy="1399.2" r="6.5" fill="#008000"/>
<circle cx="769.5" cy="1399.2" r="6.5" fill="#008000"/>
<circle cx="786.5" cy="1399.2" r="6.5" fill="#008000"/>
<circle cx="802.5" cy="1399.2" r="6.5" fill="#008000"/>
<circle cx="818.5" cy="1399.2" r="4.5" fill="#00ff00"/>
<circle cx="835.5" cy="1399.2" r="4.5" fill="#00ff00"/>
<circle cx="851.5" cy="1399.2" r="4.5" fill="#00ff00"/>
<circle cx="868.5" cy="1399.2" r="4.5" fill="#00ff00"/>
<circle cx="884.5" cy="1399.2" r="4.5" fill="#000000"/>
<circle cx="900.5" cy="1399.2" r="4.5" fill="#00ff00"/>
<circle cx="917.5" cy="1399.2" r="6.5" fill="#008000"/>
<circle cx="933.5" cy="1399.2" r="4.5" fill="#00ff00"/>
<circle cx="949.5" cy="1399.2" r="4.5" fill="#00ff00"/>
<circle cx="966.5" cy="1399.2" r="4.5" fill="#00ff00"/>
<circle cx="982.5" cy="1399.2" r="4.5" fill="#00ff00"/>
<circle cx="999.5" cy="1399.2" r="4.5" fill="#00ff00"/>
<circle cx="1015.5" cy="1399.2" r="4.5" fill="#00ff00"/>
<circle cx="1031.5" cy="1399.2" r="4.5" fill="#00ff00"/>
<circle cx="1048.5" cy="1399.2" r="4.5" fill="#00ff00"/>
<circle cx="1064.5" cy="1399.2" r="4.5" fill="#000000"/>
<circle cx="1081.5" cy="1399.2" r="4.5" fill="#000000"/>
<circle cx="1097.5" cy="1399.2" r="4.5" fill="#ff0000"/>
<circle cx="1113.5" cy="1399.2" r="4.5" fill="#ff0000"/>
<circle cx="1130.5" cy="1399.2" r="4.5" fill="#ff0000"/>
<circle cx="1146.5" cy="1399.2" r="4.5" fill="#ff0000"/>
<circle cx="1162.5" cy="1399.2" r="4.5" fill="#ff0000"/>
<circle cx="1179.5" cy="1399.2" r="4.5" fill="#ff0000"/>
<circle cx="1195.5" cy="1399.2" r="4.5" fill="#000000"/>
<circle cx="1212.5" cy="1399.2" r="4.5" fill="#000000"/>
<circle cx="1228.5" cy="1399.2" r="4.5" fill="#000000"/>
<circle cx="1244.5" cy="1399.2" r="4.5" fill="#000000"/>
<circle cx="1261.5" cy="1399.2" r="4.5" fill="#000000"/>
<circle cx="1277.5" cy="1399.2" r="4.5" fill="#000000"/>
<circle cx="1294.5" cy="1399.2" r="4.5" fill="#00ff00"/>
<circle cx="1310.5" cy="1399.2" r="4.5" fill="#00ff00"/>
<circle cx="1326.5" cy="1399.2" r="4.5" fill="#000000"/>
<circle cx="1343.5" cy="1399.2" r="4.5" fill="#000000"/>
<circle cx="1359.5" cy="1399.2" r="4.5" fill="#00ff00"/>
<circle cx="1375.5" cy="1399.2" r="4.5" fill="#00ff00"/>
<circle cx="1392.5" cy="1399.2" r="4.5" fill="#00ff00"/>
<circle cx="1408.5" cy="1399.2" r="4.5" fill="#00ff00"/>
<circle cx="1425.5" cy="1399.2" r="4.5" fill="#00ff00"/>
<circle cx="1441.5" cy="1399.2" r="4.5" fill="#00ff00"/>
<circle cx="1457.5" cy="1399.2" r="4.5" fill="#00ff00"/>
<circle cx="1474.5" cy="1399.2" r="4.5" fill="#00ff00"/>
<circle cx="1490.5" cy="1399.2" r="4.5" fill="#00ff00"/>
<circle cx="1506.5" cy="1399.2" r="4.5" fill="#00ff00"/>
<circle cx="1523.5" cy="1399.2" r="4.5" fill="#000000"/>
<circle cx="1539.5" cy="1399.2" r="4.5" fill="#000000"/>
<circle cx="1556.5" cy="1399.2" r="4.5" fill="#000000"/>
<circle cx="1572.5" cy="1399.2" r="4.5" fill="#000000"/>
<circle cx="1588.5" cy="1399.2" r="4.5" fill="#00ff00"/>
<circle cx="1605.5" cy="1399.2" r="4.5" fill="#00ff00"/>
<circle cx="1621.5" cy="1399.2" r="4.5" fill="#000000"/>
<circle cx="1638.5" cy="1399.2" r="4.5" fill="#000000"/>
<circle cx="1654.5" cy="1399.2" r="4.5" fill="#ff0000"/>
<circle cx="1670.5" cy="1399.2" r="4.5" fill="#ff0000"/>
<circle cx="1687.5" cy="1399.2" r="4.5" fill="#ff0000"/>
<circle cx="1703.5" cy="1399.2" r="4.5" fill="#ff0000"/>
<circle cx="1719.5" cy="1399.2" r="4.5" fill="#ff0000"/>
<circle cx="1736.5" cy="1399.2" r="4.5" fill="#ff0000"/>
<circle cx="1752.5" cy="1399.2" r="4.5" fill="#ff0000"/>
<circle cx="1769.5" cy="1399.2" r="4.5" fill="#000000"/>
<circle cx="1785.5" cy="1399.2" r="4.5" fill="#00ff00"/>
<circle cx="1801.5" cy="1399.2" r="4.5" fill="#000000"/>
<circle cx="1818.5" cy="1399.2" r="4.5" fill="#000000"/>
<circle cx="1834.5" cy="1399.2" r="4.5" fill="#000000"/>
<circle cx="1851.5" cy="1399.2" r="4.5" fill="#000000"/>
<circle cx="1867.5" cy="1399.2" r="4.5" fill="#000000"/>
<circle cx="1883.5" cy="1399.2" r="4.5" fill="#000000"/>
<circle cx="1900.5" cy="1399.2" r="4.5" fill="#000000"/>
<circle cx="1916.5" cy="1399.2" r="4.5" fill="#000000"/>
<circle cx="1932.5" cy="1399.2" r="4.5" fill="#000000"/>
<circle cx="1949.5" cy="1399.2" r="4.5" fill="#000000"/>
<circle cx="1965.5" cy="1399.2" r="6.5" fill="#800000"/>
<circle cx="1982.5" cy="1399.2" r="6.5" fill="#800000"/>
<circle cx="1998.5" cy="1399.2" r="6.5" fill="#800000"/>
<circle cx="2014.5" cy="1399.2" r="6.5" fill="#800000"/>
<circle cx="2031.5" cy="1399.2" r="6.5" fill="#800000"/>
<circle cx="2047.5" cy="1399.2" r="6.5" fill="#800000"/>
<circle cx="2064.5" cy="1399.2" r="6.5" fill="#800000"/>
<circle cx="2080.5" cy="1399.2" r="6.5" fill="#800000"/>
<circle cx="2096.5" cy="1399.2" r="4.5" fill="#ff0000"/>
<circle cx="2113.5" cy="1399.2" r="4.5" fill="#ff0000"/>
<circle cx="2129.5" cy="1399.2" r="4.5" fill="#ff0000"/>
<circle cx="2145.5" cy="1399.2" r="4.5" fill="#ff0000"/>
<circle cx="2162.5" cy="1399.2" r="4.5" fill="#ff0000"/>
<circle cx="2178.5" cy="1399.2" r="4.5" fill="#ff0000"/>
<circle cx="2195.5" cy="1399.2" r="4.5" fill="#ff0000"/>
<circle cx="2211.5" cy="1399.2" r="4.5" fill="#ff0000"/>
<circle cx="2227.5" cy="1399.2" r="4.5" fill="#ff0000"/>
<circle cx="2244.5" cy="1399.2" r="4.5" fill="#ff0000"/>
<circle cx="2260.5" cy="1399.2" r="4.5" fill="#ff0000"/>
<circle cx="2276.5" cy="1399.2" r="4.5" fill="#ff0000"/>
<circle cx="-0.5" cy="1451.2" r="6.5" fill="#00ff00"/>
<circle cx="16.5" cy="1451.2" r="6.5" fill="#00ff00"/>
<circle cx="32.5" cy="1451.2" r="6.5" fill="#00ff00"/>
<circle cx="48.5" cy="1451.2" r="6.5" fill="#00ff00"/>
<circle cx="65.5" cy="1451.2" r="6.5" fill="#00ff00"/>
<circle cx="81.5" cy="1451.2" r="6.5" fill="#00ff00"/>
<circle cx="98.5" cy="1451.2" r="6.5" fill="#00ff00"/>
<circle cx="114.5" cy="1451.2" r="6.5" fill="#00ff00"/>
<circle cx="130.5" cy="1451.2" r="6.5" fill="#00ff00"/>
<circle cx="147.5" cy="1451.2" r="6.5" fill="#00ff00"/>
<circle cx="163.5" cy="1451.2" r="6.5" fill="#00ff00"/>
<circle cx="179.5" cy="1451.2" r="6.5" fill="#00ff00"/>
<circle cx="196.5" cy="1451.2" r="6.5" fill="#00ff00"/>
<circle cx="212.5" cy="1451.2" r="6.5" fill="#00ff00"/>
<circle cx="229.5" cy="1451.2" r="6.5" fill="#00ff00"/>
<circle cx="245.5" cy="1451.2" r="6.5" fill="#00ff00"/>
<circle cx="261.5" cy="1451.2" r="6.5" fill="#00ff00"/>
<circle cx="278.5" cy="1451.2" r="6.5" fill="#00ff00"/>
<circle cx="294.5" cy="1451.2" r="6.5" fill="#00ff00"/>
<circle cx="311.5" cy="1451.2" r="6.5" fill="#00ff00"/>
<circle cx="327.5" cy="1451.2" r="6.5" fill="#00ff00"/>
<circle cx="343.5" cy="1451.2" r="6.5" fill="#00ff00"/>
<circle cx="360.5" cy="1451.2" r="6.5" fill="#00ff00"/>
<circle cx="376.5" cy="1451.2" r="6.5" fill="#00ff00"/>
<circle cx="392.5" cy="1451.2" r="6.5" fill="#00ff00"/>
<circle cx="409.5" cy="1451.2" r="6.5" fill="#00ff00"/>
<circle cx="425.5" cy="1451.2" r="6.5" fill="#00ff00"/>
<circle cx="442.5" cy="1451.2" r="6.5" fill="#00ff00"/>
<circle cx="458.5" cy="1451.2" r="6.5" fill="#00ff00"/>
<circle cx="474.5" cy="1451.2" r="6.5" fill="#00ff00"/>
<circle cx="491.5" cy="1451.2" r="6.5" fill="#00ff00"/>
<circle cx="507.5" cy="1451.2" r="6.5" fill="#00ff00"/>
<circle cx="524.5" cy="1451.2" r="6.5" fill="#00ff00"/>
<circle cx="540.5" cy="1451.2" r="6.5" fill="#00ff00"/>
<circle cx="556.5" cy="1451.2" r="6.5" fill="#00ff00"/>
<circle cx="573.5" cy="1451.2" r="6.5" fill="#ffff00"/>
<circle cx="589.5" cy="1451.2" r="6.5" fill="#ffff00"/>
<circle cx="605.5" cy="1451.2" r="6.5" fill="#ffff00"/>
<circle cx="622.5" cy="1451.2" r="6.5" fill="#00ff00"/>
<circle cx="638.5" cy="1451.2" r="6.5" fill="#00ff00"/>
<circle cx="655.5" cy="1451.2" r="6.5" fill="#00ff00"/>
<circle cx="671.5" cy="1451.2" r="6.5" fill="#00ff00"/>
<circle cx="687.5" cy="1451.2" r="6.5" fill="#00ff00"/>
<circle cx="704.5" cy="1451.2" r="6.5" fill="#00ff00"/>
<circle cx="720.5" cy="1451.2" r="6.5" fill="#00ff00"/>
<circle cx="736.5" cy="1451.2" r="6.5" fill="#00ff00"/>
<circle cx="753.5" cy="1451.2" r="6.5" fill="#00ff00"/>
<circle cx="769.5" cy="1451.2" r="6.5" fill="#00ff00"/>
<circle cx="786.5" cy="1451.2" r="6.5" fill="#00ff00"/>
<circle cx="802.5" cy="1451.2" r="6.5" fill="#00ff00"/>
<circle cx="818.5" cy="1451.2" r="6.5" fill="#00ff00"/>
<circle cx="835.5" cy="1451.2" r="6.5" fill="#ffff00"/>
<circle cx="851.5" cy="1451.2" r="6.5" fill="#ffff00"/>
<circle cx="868.5" cy="1451.2" r="6.5" fill="#ffff00"/>
<circle cx="884.5" cy="1451.2" r="6.5" fill="#ffff00"/>
<circle cx="900.5" cy="1451.2" r="6.5" fill="#00ff00"/>
<circle cx="917.5" cy="1451.2" r="6.5" fill="#00ff00"/>
<circle cx="933.5" cy="1451.2" r="6.5" fill="#00ff00"/>
<circle cx="949.5" cy="1451.2" r="6.5" fill="#00ff00"/>
<circle cx="966.5" cy="1451.2" r="6.5" fill="#00ff00"/>
<circle cx="982.5" cy="1451.2" r="6.5" fill="#00ff00"/>
<circle cx="999.5" cy="1451.2" r="6.5" fill="#00ff00"/>
<circle cx="1015.5" cy="1451.2" r="6.5" fill="#ffff00"/>
<circle cx="1031.5" cy="1451.2" r="6.5" fill="#ffff00"/>
<circle cx="1048.5" cy="1451.2" r="6.5" fill="#ffff00"/>
<circle cx="1064.5" cy="1451.2" r="6.5" fill="#ffff00"/>
<circle cx="1081.5" cy="1451.2" r="6.5" fill="#ffff00"/>
<circle cx="1097.5" cy="1451.2" r="6.5" fill="#ff0000"/>
<circle cx="1113.5" cy="1451.2" r="6.5" fill="#ff0000"/>
<circle cx="1130.5" cy="1451.2" r="6.5" fill="#ff0000"/>
<circle cx="1146.5" cy="1451.2" r="6.5" fill="#ff0000"/>
<circle cx="1162.5" cy="1451.2" r="6.5" fill="#ff0000"/>
<circle cx="1179.5" cy="1451.2" r="6.5" fill="#ff0000"/>
<circle cx="1195.5" cy="1451.2" r="6.5" fill="#ffff00"/>
<circle cx="1212.5" cy="1451.2" r="6.5" fill="#ffff00"/>
<circle cx="1228.5" cy="1451.2" r="6.5" fill="#ffff00"/>
<circle cx="1244.5" cy="1451.2" r="6.5" fill="#ffff00"/>
<circle cx="1261.5" cy="1451.2" r="6.5" fill="#ffff00"/>
<circle cx="1277.5" cy="1451.2" r="6.5" fill="#00ff00"/>
<circle cx="1294.5" cy="1451.2" r="6.5" fill="#00ff00"/>
<circle cx="1310.5" cy="1451.2" r="6.5" fill="#00ff00"/>
<circle cx="1326.5" cy="1451.2" r="6.5" fill="#00ff00"/>
<circle cx="1343.5" cy="1451.2" r="6.5" fill="#00ff00"/>
<circle cx="1359.5" cy="1451.2" r="6.5" fill="#00ff00"/>
<circle cx="1375.5" cy="1451.2" r="6.5" fill="#00ff00"/>
<circle cx="1392.5" cy="1451.2" r="6.5" fill="#00ff00"/>
<circle cx="1408.5" cy="1451.2" r="6.5" fill="#00ff00"/>
<circle cx="1425.5" cy="1451.2" r="6.5" fill="#00ff00"/>
<circle cx="1441.5" cy="1451.2" r="6.5" fill="#00ff00"/>
<circle cx="1457.5" cy="1451.2" r="6.5" fill="#00ff00"/>
<circle cx="1474.5" cy="1451.2" r="6.5" fill="#00ff00"/>
<circle cx="1490.5" cy="1451.2" r="6.5" fill="#00ff00"/>
<circle cx="1506.5" cy="1451.2" r="6.5" fill="#00ff00"/>
<circle cx="1523.5" cy="1451.2" r="6.5" fill="#ffff00"/>
<circle cx="1539.5" cy="1451.2" r="6.5" fill="#ffff00"/>
<circle cx="1556.5" cy="1451.2" r="6.5" fill="#ffff00"/>
<circle cx="1572.5" cy="1451.2" r="6.5" fill="#ffff00"/>
<circle cx="1588.5" cy="1451.2" r="6.5" fill="#00ff00"/>
<circle cx="1605.5" cy="1451.2" r="6.5" fill="#00ff00"/>
<circle cx="1621.5" cy="1451.2" r="6.5" fill="#ffff00"/>
<circle cx="1638.5" cy="1451.2" r="6.5" fill="#ff0000"/>
<circle cx="1654.5" cy="1451.2" r="6.5" fill="#ff0000"/>
<circle cx="1670.5" cy="1451.2" r="6.5" fill="#ff0000"/>
<circle cx="1687.5" cy="1451.2" r="6.5" fill="#ff0000"/>
<circle cx="1703.5" cy="1451.2" r="6.5" fill="#ff0000"/>
<circle cx="1719.5" cy="1451.2" r="6.5" fill="#ff0000"/>
<circle cx="1736.5" cy="1451.2" r="6.5" fill="#ff0000"/>
<circle cx="1752.5" cy="1451.2" r="6.5" fill="#ffff00"/>
<circle cx="1769.5" cy="1451.2" r="6.5" fill="#ffff00"/>
<circle cx="1785.5" cy="1451.2" r="6.5" fill="#00ff00"/>
<circle cx="1801.5" cy="1451.2" r="6.5" fill="#00ff00"/>
<circle cx="1818.5" cy="1451.2" r="6.5" fill="#00ff00"/>
<circle cx="1834.5" cy="1451.2" r="6.5" fill="#00ff00"/>
<circle cx="1851.5" cy="1451.2" r="6.5" fill="#00ff00"/>
<circle cx="1867.5" cy="1451.2" r="6.5" fill="#ff0000"/>
<circle cx="1883.5" cy="1451.2" r="6.5" fill="#ff0000"/>
<circle cx="1900.5" cy="1451.2" r="6.5" fill="#ff0000"/>
<circle cx="1916.5" cy="1451.2" r="6.5" fill="#ff0000"/>
<circle cx="1932.5" cy="1451.2" r="6.5" fill="#ffff00"/>
<circle cx="1949.5" cy="1451.2" r="6.5" fill="#00ff00"/>
<circle cx="1965.5" cy="1451.2" r="6.5" fill="#ff0000"/>
<circle cx="1982.5" cy="1451.2" r="6.5" fill="#ff0000"/>
<circle cx="1998.5" cy="1451.2" r="6.5" fill="#ff0000"/>
<circle cx="2014.5" cy="1451.2" r="6.5" fill="#ff0000"/>
<circle cx="2031.5" cy="1451.2" r="6.5" fill="#ff0000"/>
<circle cx="2047.5" cy="1451.2" r="6.5" fill="#ff0000"/>
<circle cx="2064.5" cy="1451.2" r="6.5" fill="#ff0000"/>
<circle cx="2080.5" cy="1451.2" r="6.5" fill="#ff0000"/>
<circle cx="2096.5" cy="1451.2" r="6.5" fill="#ff0000"/>
<circle cx="2113.5" cy="1451.2" r="6.5" fill="#ff0000"/>
<circle cx="2129.5" cy="1451.2" r="6.5" fill="#ff0000"/>
<circle cx="2145.5" cy="1451.2" r="6.5" fill="#ff0000"/>
<circle cx="2162.5" cy="1451.2" r="6.5" fill="#ff0000"/>
<circle cx="2178.5" cy="1451.2" r="6.5" fill="#ff0000"/>
<circle cx="2195.5" cy="1451.2" r="6.5" fill="#ff0000"/>
<circle cx="2211.5" cy="1451.2" r="6.5" fill="#ff0000"/>
<circle cx="2227.5" cy="1451.2" r="6.5" fill="#ff0000"/>
<circle cx="2244.5" cy="1451.2" r="6.5" fill="#ff0000"/>
<circle cx="2260.5" cy="1451.2" r="6.5" fill="#ff0000"/>
<circle cx="2276.5" cy="1451.2" r="6.5" fill="#ff0000"/>
<circle cx="-0.5" cy="1472.2" r="6.5" fill="#ff0000"/>
<circle cx="16.5" cy="1472.2" r="6.5" fill="#ff0000"/>
<circle cx="32.5" cy="1472.2" r="6.5" fill="#00ff00"/>
<circle cx="48.5" cy="1472.2" r="6.5" fill="#00ff00"/>
<circle cx="65.5" cy="1472.2" r="6.5" fill="#00ff00"/>
<circle cx="81.5" cy="1472.2" r="6.5" fill="#00ff00"/>
<circle cx="98.5" cy="1472.2" r="6.5" fill="#000000"/>
<circle cx="114.5" cy="1472.2" r="6.5" fill="#000000"/>
<circle cx="130.5" cy="1472.2" r="6.5" fill="#000000"/>
<circle cx="147.5" cy="1472.2" r="6.5" fill="#ff0000"/>
<circle cx="163.5" cy="1472.2" r="6.5" fill="#ff0000"/>
<circle cx="179.5" cy="1472.2" r="6.5" fill="#ff0000"/>
<circle cx="196.5" cy="1472.2" r="6.5" fill="#000000"/>
<circle cx="212.5" cy="1472.2" r="6.5" fill="#ff0000"/>
<circle cx="229.5" cy="1472.2" r="6.5" fill="#000000"/>
<circle cx="245.5" cy="1472.2" r="6.5" fill="#00ff00"/>
<circle cx="261.5" cy="1472.2" r="6.5" fill="#00ff00"/>
<circle cx="278.5" cy="1472.2" r="6.5" fill="#00ff00"/>
<circle cx="294.5" cy="1472.2" r="6.5" fill="#00ff00"/>
<circle cx="311.5" cy="1472.2" r="6.5" fill="#00ff00"/>
<circle cx="327.5" cy="1472.2" r="6.5" fill="#ff0000"/>
<circle cx="343.5" cy="1472.2" r="6.5" fill="#ff0000"/>
<circle cx="360.5" cy="1472.2" r="6.5" fill="#ff0000"/>
<circle cx="376.5" cy="1472.2" r="6.5" fill="#ff0000"/>
<circle cx="392.5" cy="1472.2" r="6.5" fill="#ff0000"/>
<circle cx="409.5" cy="1472.2" r="6.5" fill="#00ff00"/>
<circle cx="425.5" cy="1472.2" r="6.5" fill="#00ff00"/>
<circle cx="442.5" cy="1472.2" r="6.5" fill="#00ff00"/>
<circle cx="458.5" cy="1472.2" r="6.5" fill="#00ff00"/>
<circle cx="474.5" cy="1472.2" r="6.5" fill="#00ff00"/>
<circle cx="491.5" cy="1472.2" r="6.5" fill="#000000"/>
<circle cx="507.5" cy="1472.2" r="6.5" fill="#ff0000"/>
<circle cx="524.5" cy="1472.2" r="6.5" fill="#ff0000"/>
<circle cx="540.5" cy="1472.2" r="6.5" fill="#ff0000"/>
<circle cx="556.5" cy="1472.2" r="6.5" fill="#ff0000"/>
<circle cx="573.5" cy="1472.2" r="6.5" fill="#ff0000"/>
<circle cx="589.5" cy="1472.2" r="6.5" fill="#ff0000"/>
<circle cx="605.5" cy="1472.2" r="6.5" fill="#ff0000"/>
<circle cx="622.5" cy="1472.2" r="6.5" fill="#000000"/>
<circle cx="638.5" cy="1472.2" r="6.5" fill="#000000"/>
<circle cx="655.5" cy="1472.2" r="6.5" fill="#000000"/>
<circle cx="671.5" cy="1472.2" r="6.5" fill="#000000"/>
<circle cx="687.5" cy="1472.2" r="6.5" fill="#000000"/>
<circle cx="704.5" cy="1472.2" r="6.5" fill="#00ff00"/>
<circle cx="720.5" cy="1472.2" r="6.5" fill="#00ff00"/>
<circle cx="736.5" cy="1472.2" r="6.5" fill="#00ff00"/>
<circle cx="753.5" cy="1472.2" r="6.5" fill="#00ff00"/>
<circle cx="769.5" cy="1472.2" r="6.5" fill="#00ff00"/>
<circle cx="786.5" cy="1472.2" r="6.5" fill="#00ff00"/>
<circle cx="802.5" cy="1472.2" r="6.5" fill="#000000"/>
<circle cx="818.5" cy="1472.2" r="6.5" fill="#ff0000"/>
<circle cx="835.5" cy="1472.2" r="6.5" fill="#ff0000"/>
<circle cx="851.5" cy="1472.2" r="6.5" fill="#ff0000"/>
<circle cx="868.5" cy="1472.2" r="6.5" fill="#ff0000"/>
<circle cx="884.5" cy="1472.2" r="6.5" fill="#000000"/>
<circle cx="900.5" cy="1472.2" r="6.5" fill="#00ff00"/>
<circle cx="917.5" cy="1472.2" r="6.5" fill="#00ff00"/>
<circle cx="933.5" cy="1472.2" r="6.5" fill="#00ff00"/>
<circle cx="949.5" cy="1472.2" r="6.5" fill="#00ff00"/>
<circle cx="966.5" cy="1472.2" r="6.5" fill="#000000"/>
<circle cx="982.5" cy="1472.2" r="6.5" fill="#000000"/>
<circle cx="999.5" cy="1472.2" r="6.5" fill="#ff0000"/>
<circle cx="1015.5" cy="1472.2" r="6.5" fill="#ff0000"/>
<circle cx="1031.5" cy="1472.2" r="6.5" fill="#ff0000"/>
<circle cx="1048.5" cy="1472.2" r="6.5" fill="#000000"/>
<circle cx="1064.5" cy="1472.2" r="6.5" fill="#ff0000"/>
<circle cx="1081.5" cy="1472.2" r="6.5" fill="#ff0000"/>
<circle cx="1097.5" cy="1472.2" r="6.5" fill="#ff0000"/>
<circle cx="1113.5" cy="1472.2" r="6.5" fill="#ff0000"/>
<circle cx="1130.5" cy="1472.2" r="6.5" fill="#ff0000"/>
<circle cx="1146.5" cy="1472.2" r="6.5" fill="#000000"/>
<circle cx="1162.5" cy="1472.2" r="6.5" fill="#000000"/>
<circle cx="1179.5" cy="1472.2" r="6.5" fill="#00ff00"/>
<circle cx="1195.5" cy="1472.2" r="6.5" fill="#00ff00"/>
<circle cx="1212.5" cy="1472.2" r="6.5" fill="#00ff00"/>
<circle cx="1228.5" cy="1472.2" r="6.5" fill="#00ff00"/>
<circle cx="1244.5" cy="1472.2" r="6.5" fill="#00ff00"/>
<circle cx="1261.5" cy="1472.2" r="6.5" fill="#00ff00"/>
<circle cx="1277.5" cy="1472.2" r="6.5" fill="#ff0000"/>
<circle cx="1294.5" cy="1472.2" r="6.5" fill="#00ff00"/>
<circle cx="1310.5" cy="1472.2" r="6.5" fill="#00ff00"/>
<circle cx="1326.5" cy="1472.2" r="6.5" fill="#000000"/>
<circle cx="1343.5" cy="1472.2" r="6.5" fill="#00ff00"/>
<circle cx="1359.5" cy="1472.2" r="6.5" fill="#00ff00"/>
<circle cx="1375.5" cy="1472.2" r="6.5" fill="#ff0000"/>
<circle cx="1392.5" cy="1472.2" r="6.5" fill="#000000"/>
<circle cx="1408.5" cy="1472.2" r="6.5" fill="#00ff00"/>
<circle cx="1425.5" cy="1472.2" r="6.5" fill="#00ff00"/>
<circle cx="1441.5" cy="1472.2" r="6.5" fill="#00ff00"/>
<circle cx="1457.5" cy="1472.2" r="6.5" fill="#ff0000"/>
<circle cx="1474.5" cy="1472.2" r="6.5" fill="#00ff00"/>
<circle cx="1490.5" cy="1472.2" r="6.5" fill="#000000"/>
<circle cx="1506.5" cy="1472.2" r="6.5" fill="#ff0000"/>
<circle cx="1523.5" cy="1472.2" r="6.5" fill="#ff0000"/>
<circle cx="1539.5" cy="1472.2" r="6.5" fill="#00ff00"/>
<circle cx="1556.5" cy="1472.2" r="6.5" fill="#ff0000"/>
<circle cx="1572.5" cy="1472.2" r="6.5" fill="#ff0000"/>
<circle cx="1588.5" cy="1472.2" r="6.5" fill="#00ff00"/>
<circle cx="1605.5" cy="1472.2" r="6.5" fill="#00ff00"/>
<circle cx="1621.5" cy="1472.2" r="6.5" fill="#00ff00"/>
<circle cx="1638.5" cy="1472.2" r="6.5" fill="#00ff00"/>
<circle cx="1654.5" cy="1472.2" r="6.5" fill="#ff0000"/>
<circle cx="1670.5" cy="1472.2" r="6.5" fill="#ff0000"/>
<circle cx="1687.5" cy="1472.2" r="6.5" fill="#ff0000"/>
<circle cx="1703.5" cy="1472.2" r="6.5" fill="#ff0000"/>
<circle cx="1719.5" cy="1472.2" r="6.5" fill="#000000"/>
<circle cx="1736.5" cy="1472.2" r="6.5" fill="#00ff00"/>
<circle cx="1752.5" cy="1472.2" r="6.5" fill="#00ff00"/>
<circle cx="1769.5" cy="1472.2" r="6.5" fill="#00ff00"/>
<circle cx="1785.5" cy="1472.2" r="6.5" fill="#00ff00"/>
<circle cx="1801.5" cy="1472.2" r="6.5" fill="#00ff00"/>
<circle cx="1818.5" cy="1472.2" r="6.5" fill="#000000"/>
<circle cx="1834.5" cy="1472.2" r="6.5" fill="#000000"/>
<circle cx="1851.5" cy="1472.2" r="6.5" fill="#000000"/>
<circle cx="1867.5" cy="1472.2" r="6.5" fill="#ff0000"/>
<circle cx="1883.5" cy="1472.2" r="6.5" fill="#ff0000"/>
<circle cx="1900.5" cy="1472.2" r="6.5" fill="#ff0000"/>
<circle cx="1916.5" cy="1472.2" r="6.5" fill="#000000"/>
<circle cx="1932.5" cy="1472.2" r="6.5" fill="#00ff00"/>
<circle cx="1949.5" cy="1472.2" r="6.5" fill="#00ff00"/>
<circle cx="1965.5" cy="1472.2" r="6.5" fill="#ff0000"/>
<circle cx="1982.5" cy="1472.2" r="6.5" fill="#ff0000"/>
<circle cx="1998.5" cy="1472.2" r="6.5" fill="#ff0000"/>
<circle cx="2014.5" cy="1472.2" r="6.5" fill="#ff0000"/>
<circle cx="2031.5" cy="1472.2" r="6.5" fill="#ff0000"/>
<circle cx="2047.5" cy="1472.2" r="6.5" fill="#000000"/>
<circle cx="2064.5" cy="1472.2" r="6.5" fill="#000000"/>
<circle cx="2080.5" cy="1472.2" r="6.5" fill="#00ff00"/>
<circle cx="2096.5" cy="1472.2" r="6.5" fill="#00ff00"/>
<circle cx="2113.5" cy="1472.2" r="6.5" fill="#00ff00"/>
<circle cx="2129.5" cy="1472.2" r="6.5" fill="#00ff00"/>
<circle cx="2145.5" cy="1472.2" r="6.5" fill="#000000"/>
<circle cx="2162.5" cy="1472.2" r="6.5" fill="#000000"/>
<circle cx="2178.5" cy="1472.2" r="6.5" fill="#000000"/>
<circle cx="2195.5" cy="1472.2" r="6.5" fill="#ff0000"/>
<circle cx="2211.5" cy="1472.2" r="6.5" fill="#ff0000"/>
<circle cx="2227.5" cy="1472.2" r="6.5" fill="#ff0000"/>
<circle cx="2244.5" cy="1472.2" r="6.5" fill="#ff0000"/>
<circle cx="2260.5" cy="1472.2" r="6.5" fill="#ff0000"/>
<circle cx="2276.5" cy="1472.2" r="6.5" fill="#00ff00"/>
<circle cx="-0.5" cy="1493.4" r="6.5" fill="#00ff00"/>
<circle cx="16.5" cy="1493.4" r="6.5" fill="#00ff00"/>
<circle cx="32.5" cy="1493.4" r="6.5" fill="#00ff00"/>
<circle cx="48.5" cy="1493.4" r="6.5" fill="#00ff00"/>
<circle cx="65.5" cy="1493.4" r="6.5" fill="#00ff00"/>
<circle cx="81.5" cy="1493.4" r="6.5" fill="#00ff00"/>
<circle cx="98.5" cy="1493.4" r="6.5" fill="#00ff00"/>
<circle cx="114.5" cy="1493.4" r="6.5" fill="#00ff00"/>
<circle cx="130.5" cy="1493.4" r="6.5" fill="#00ff00"/>
<circle cx="147.5" cy="1493.4" r="6.5" fill="#00ff00"/>
<circle cx="163.5" cy="1493.4" r="6.5" fill="#00ff00"/>
<circle cx="179.5" cy="1493.4" r="6.5" fill="#00ff00"/>
<circle cx="196.5" cy="1493.4" r="6.5" fill="#00ff00"/>
<circle cx="212.5" cy="1493.4" r="6.5" fill="#00ff00"/>
<circle cx="229.5" cy="1493.4" r="6.5" fill="#00ff00"/>
<circle cx="245.5" cy="1493.4" r="6.5" fill="#00ff00"/>
<circle cx="261.5" cy="1493.4" r="6.5" fill="#00ff00"/>
<circle cx="278.5" cy="1493.4" r="6.5" fill="#00ff00"/>
<circle cx="294.5" cy="1493.4" r="6.5" fill="#00ff00"/>
<circle cx="311.5" cy="1493.4" r="6.5" fill="#00ff00"/>
<circle cx="327.5" cy="1493.4" r="6.5" fill="#00ff00"/>
<circle cx="343.5" cy="1493.4" r="6.5" fill="#00ff00"/>
<circle cx="360.5" cy="1493.4" r="6.5" fill="#00ff00"/>
<circle cx="376.5" cy="1493.4" r="6.5" fill="#00ff00"/>
<circle cx="392.5" cy="1493.4" r="6.5" fill="#00ff00"/>
<circle cx="409.5" cy="1493.4" r="6.5" fill="#00ff00"/>
<circle cx="425.5" cy="1493.4" r="6.5" fill="#00ff00"/>
<circle cx="442.5" cy="1493.4" r="6.5" fill="#00ff00"/>
<circle cx="458.5" cy="1493.4" r="6.5" fill="#00ff00"/>
<circle cx="474.5" cy="1493.4" r="6.5" fill="#00ff00"/>
<circle cx="491.5" cy="1493.4" r="6.5" fill="#00ff00"/>
<circle cx="507.5" cy="1493.4" r="6.5" fill="#00ff00"/>
<circle cx="524.5" cy="1493.4" r="6.5" fill="#00ff00"/>
<circle cx="540.5" cy="1493.4" r="6.5" fill="#00ff00"/>
<circle cx="556.5" cy="1493.4" r="6.5" fill="#00ff00"/>
<circle cx="573.5" cy="1493.4" r="6.5" fill="#00ff00"/>
<circle cx="589.5" cy="1493.4" r="6.5" fill="#00ff00"/>
<circle cx="605.5" cy="1493.4" r="6.5" fill="#00ff00"/>
<circle cx="622.5" cy="1493.4" r="6.5" fill="#00ff00"/>
<circle cx="638.5" cy="1493.4" r="6.5" fill="#00ff00"/>
<circle cx="655.5" cy="1493.4" r="6.5" fill="#00ff00"/>
<circle cx="671.5" cy="1493.4" r="6.5" fill="#00ff00"/>
<circle cx="687.5" cy="1493.4" r="6.5" fill="#00ff00"/>
<circle cx="704.5" cy="1493.4" r="6.5" fill="#00ff00"/>
<circle cx="720.5" cy="1493.4" r="6.5" fill="#00ff00"/>
<circle cx="736.5" cy="1493.4" r="6.5" fill="#00ff00"/>
<circle cx="753.5" cy="1493.4" r="6.5" fill="#00ff00"/>
<circle cx="769.5" cy="1493.4" r="6.5" fill="#00ff00"/>
<circle cx="786.5" cy="1493.4" r="6.5" fill="#00ff00"/>
<circle cx="802.5" cy="1493.4" r="6.5" fill="#00ff00"/>
<circle cx="818.5" cy="1493.4" r="6.5" fill="#00ff00"/>
<circle cx="835.5" cy="1493.4" r="6.5" fill="#00ff00"/>
<circle cx="851.5" cy="1493.4" r="6.5" fill="#00ff00"/>
<circle cx="868.5" cy="1493.4" r="6.5" fill="#00ff00"/>
<circle cx="884.5" cy="1493.4" r="6.5" fill="#00ff00"/>
<circle cx="900.5" cy="1493.4" r="6.5" fill="#00ff00"/>
<circle cx="917.5" cy="1493.4" r="6.5" fill="#00ff00"/>
<circle cx="933.5" cy="1493.4" r="6.5" fill="#00ff00"/>
<circle cx="949.5" cy="1493.4" r="6.5" fill="#00ff00"/>
<circle cx="966.5" cy="1493.4" r="6.5" fill="#00ff00"/>
<circle cx="982.5" cy="1493.4" r="6.5" fill="#00ff00"/>
<circle cx="999.5" cy="1493.4" r="6.5" fill="#00ff00"/>
<circle cx="1015.5" cy="1493.4" r="6.5" fill="#00ff00"/>
<circle cx="1031.5" cy="1493.4" r="6.5" fill="#00ff00"/>
<circle cx="1048.5" cy="1493.4" r="6.5" fill="#00ff00"/>
<circle cx="1064.5" cy="1493.4" r="6.5" fill="#00ff00"/>
<circle cx="1081.5" cy="1493.4" r="6.5" fill="#00ff00"/>
<circle cx="1097.5" cy="1493.4" r="6.5" fill="#00ff00"/>
<circle cx="1113.5" cy="1493.4" r="6.5" fill="#00ff00"/>
<circle cx="1130.5" cy="1493.4" r="6.5" fill="#00ff00"/>
<circle cx="1146.5" cy="1493.4" r="6.5" fill="#00ff00"/>
<circle cx="1162.5" cy="1493.4" r="6.5" fill="#00ff00"/>
<circle cx="1179.5" cy="1493.4" r="6.5" fill="#00ff00"/>
<circle cx="1195.5" cy="1493.4" r="6.5" fill="#00ff00"/>
<circle cx="1212.5" cy="1493.4" r="6.5" fill="#00ff00"/>
<circle cx="1228.5" cy="1493.4" r="6.5" fill="#00ff00"/>
<circle cx="1244.5" cy="1493.4" r="6.5" fill="#00ff00"/>
<circle cx="1261.5" cy="1493.4" r="6.5" fill="#00ff00"/>
<circle cx="1277.5" cy="1493.4" r="6.5" fill="#00ff00"/>
<circle cx="1294.5" cy="1493.4" r="6.5" fill="#00ff00"/>
<circle cx="1310.5" cy="1493.4" r="6.5" fill="#00ff00"/>
<circle cx="1326.5" cy="1493.4" r="6.5" fill="#00ff00"/>
<circle cx="1343.5" cy="1493.4" r="6.5" fill="#00ff00"/>
<circle cx="1359.5" cy="1493.4" r="6.5" fill="#00ff00"/>
<circle cx="1375.5" cy="1493.4" r="6.5" fill="#00ff00"/>
<circle cx="1392.5" cy="1493.4" r="6.5" fill="#00ff00"/>
<circle cx="1408.5" cy="1493.4" r="6.5" fill="#00ff00"/>
<circle cx="1425.5" cy="1493.4" r="6.5" fill="#00ff00"/>
<circle cx="1441.5" cy="1493.4" r="6.5" fill="#00ff00"/>
<circle cx="1457.5" cy="1493.4" r="6.5" fill="#00ff00"/>
<circle cx="1474.5" cy="1493.4" r="6.5" fill="#00ff00"/>
<circle cx="1490.5" cy="1493.4" r="6.5" fill="#00ff00"/>
<circle cx="1506.5" cy="1493.4" r="6.5" fill="#00ff00"/>
<circle cx="1523.5" cy="1493.4" r="6.5" fill="#00ff00"/>
<circle cx="1539.5" cy="1493.4" r="6.5" fill="#00ff00"/>
<circle cx="1556.5" cy="1493.4" r="6.5" fill="#00ff00"/>
<circle cx="1572.5" cy="1493.4" r="6.5" fill="#ff0000"/>
<circle cx="1588.5" cy="1493.4" r="6.5" fill="#00ff00"/>
<circle cx="1605.5" cy="1493.4" r="6.5" fill="#00ff00"/>
<circle cx="1621.5" cy="1493.4" r="6.5" fill="#00ff00"/>
<circle cx="1638.5" cy="1493.4" r="6.5" fill="#00ff00"/>
<circle cx="1654.5" cy="1493.4" r="6.5" fill="#ff0000"/>
<circle cx="1670.5" cy="1493.4" r="6.5" fill="#ff0000"/>
<circle cx="1687.5" cy="1493.4" r="6.5" fill="#ff0000"/>
<circle cx="1703.5" cy="1493.4" r="6.5" fill="#ff0000"/>
<circle cx="1719.5" cy="1493.4" r="6.5" fill="#ff0000"/>
<circle cx="1736.5" cy="1493.4" r="6.5" fill="#ff0000"/>
<circle cx="1752.5" cy="1493.4" r="6.5" fill="#ff0000"/>
<circle cx="1769.5" cy="1493.4" r="6.5" fill="#00ff00"/>
<circle cx="1785.5" cy="1493.4" r="6.5" fill="#00ff00"/>
<circle cx="1801.5" cy="1493.4" r="6.5" fill="#00ff00"/>
<circle cx="1818.5" cy="1493.4" r="6.5" fill="#00ff00"/>
<circle cx="1834.5" cy="1493.4" r="6.5" fill="#00ff00"/>
<circle cx="1851.5" cy="1493.4" r="6.5" fill="#00ff00"/>
<circle cx="1867.5" cy="1493.4" r="6.5" fill="#00ff00"/>
<circle cx="1883.5" cy="1493.4" r="6.5" fill="#00ff00"/>
<circle cx="1900.5" cy="1493.4" r="6.5" fill="#00ff00"/>
<circle cx="1916.5" cy="1493.4" r="6.5" fill="#00ff00"/>
<circle cx="1932.5" cy="1493.4" r="6.5" fill="#00ff00"/>
<circle cx="1949.5" cy="1493.4" r="6.5" fill="#00ff00"/>
<circle cx="1965.5" cy="1493.4" r="6.5" fill="#ff0000"/>
<circle cx="1982.5" cy="1493.4" r="6.5" fill="#ff0000"/>
<circle cx="1998.5" cy="1493.4" r="6.5" fill="#ff0000"/>
<circle cx="2014.5" cy="1493.4" r="6.5" fill="#ff0000"/>
<circle cx="2031.5" cy="1493.4" r="6.5" fill="#ff0000"/>
<circle cx="2047.5" cy="1493.4" r="6.5" fill="#ff0000"/>
<circle cx="2064.5" cy="1493.4" r="6.5" fill="#ff0000"/>
<circle cx="2080.5" cy="1493.4" r="6.5" fill="#ff0000"/>
<circle cx="2096.5" cy="1493.4" r="6.5" fill="#ff0000"/>
<circle cx="2113.5" cy="1493.4" r="6.5" fill="#ff0000"/>
<circle cx="2129.5" cy="1493.4" r="6.5" fill="#ff0000"/>
<circle cx="2145.5" cy="1493.4" r="6.5" fill="#ff0000"/>
<circle cx="2162.5" cy="1493.4" r="6.5" fill="#ff0000"/>
<circle cx="2178.5" cy="1493.4" r="6.5" fill="#ff0000"/>
<circle cx="2195.5" cy="1493.4" r="6.5" fill="#ff0000"/>
<circle cx="2211.5" cy="1493.4" r="6.5" fill="#ff0000"/>
<circle cx="2227.5" cy="1493.4" r="6.5" fill="#ff0000"/>
<circle cx="2244.5" cy="1493.4" r="6.5" fill="#ff0000"/>
<circle cx="2260.5" cy="1493.4" r="6.5" fill="#ff0000"/>
<circle cx="2276.5" cy="1493.4" r="6.5" fill="#ff0000"/>
<circle cx="-0.5" cy="1514.4" r="6.5" fill="#00ff00"/>
<circle cx="16.5" cy="1514.4" r="6.5" fill="#000000"/>
<circle cx="32.5" cy="1514.4" r="6.5" fill="#00ff00"/>
<circle cx="48.5" cy="1514.4" r="6.5" fill="#00ff00"/>
<circle cx="65.5" cy="1514.4" r="6.5" fill="#00ff00"/>
<circle cx="81.5" cy="1514.4" r="6.5" fill="#00ff00"/>
<circle cx="98.5" cy="1514.4" r="6.5" fill="#00ff00"/>
<circle cx="114.5" cy="1514.4" r="6.5" fill="#00ff00"/>
<circle cx="130.5" cy="1514.4" r="6.5" fill="#00ff00"/>
<circle cx="147.5" cy="1514.4" r="6.5" fill="#00ff00"/>
<circle cx="163.5" cy="1514.4" r="6.5" fill="#00ff00"/>
<circle cx="179.5" cy="1514.4" r="6.5" fill="#000000"/>
<circle cx="196.5" cy="1514.4" r="6.5" fill="#000000"/>
<circle cx="212.5" cy="1514.4" r="6.5" fill="#000000"/>
<circle cx="229.5" cy="1514.4" r="6.5" fill="#000000"/>
<circle cx="245.5" cy="1514.4" r="6.5" fill="#00ff00"/>
<circle cx="261.5" cy="1514.4" r="6.5" fill="#00ff00"/>
<circle cx="278.5" cy="1514.4" r="6.5" fill="#00ff00"/>
<circle cx="294.5" cy="1514.4" r="6.5" fill="#00ff00"/>
<circle cx="311.5" cy="1514.4" r="6.5" fill="#00ff00"/>
<circle cx="327.5" cy="1514.4" r="6.5" fill="#00ff00"/>
<circle cx="343.5" cy="1514.4" r="6.5" fill="#00ff00"/>
<circle cx="360.5" cy="1514.4" r="6.5" fill="#00ff00"/>
<circle cx="376.5" cy="1514.4" r="6.5" fill="#000000"/>
<circle cx="392.5" cy="1514.4" r="6.5" fill="#000000"/>
<circle cx="409.5" cy="1514.4" r="6.5" fill="#000000"/>
<circle cx="425.5" cy="1514.4" r="6.5" fill="#00ff00"/>
<circle cx="442.5" cy="1514.4" r="6.5" fill="#00ff00"/>
<circle cx="458.5" cy="1514.4" r="6.5" fill="#00ff00"/>
<circle cx="474.5" cy="1514.4" r="6.5" fill="#00ff00"/>
<circle cx="491.5" cy="1514.4" r="6.5" fill="#00ff00"/>
<circle cx="507.5" cy="1514.4" r="6.5" fill="#00ff00"/>
<circle cx="524.5" cy="1514.4" r="6.5" fill="#000000"/>
<circle cx="540.5" cy="1514.4" r="6.5" fill="#000000"/>
<circle cx="556.5" cy="1514.4" r="6.5" fill="#000000"/>
<circle cx="573.5" cy="1514.4" r="6.5" fill="#000000"/>
<circle cx="589.5" cy="1514.4" r="6.5" fill="#000000"/>
<circle cx="605.5" cy="1514.4" r="6.5" fill="#000000"/>
<circle cx="622.5" cy="1514.4" r="6.5" fill="#000000"/>
<circle cx="638.5" cy="1514.4" r="6.5" fill="#000000"/>
<circle cx="655.5" cy="1514.4" r="6.5" fill="#000000"/>
<circle cx="671.5" cy="1514.4" r="6.5" fill="#000000"/>
<circle cx="687.5" cy="1514.4" r="6.5" fill="#000000"/>
<circle cx="704.5" cy="1514.4" r="6.5" fill="#000000"/>
<circle cx="720.5" cy="1514.4" r="6.5" fill="#00ff00"/>
<circle cx="736.5" cy="1514.4" r="6.5" fill="#00ff00"/>
<circle cx="753.5" cy="1514.4" r="6.5" fill="#00ff00"/>
<circle cx="769.5" cy="1514.4" r="6.5" fill="#00ff00"/>
<circle cx="786.5" cy="1514.4" r="6.5" fill="#00ff00"/>
<circle cx="802.5" cy="1514.4" r="6.5" fill="#00ff00"/>
<circle cx="818.5" cy="1514.4" r="6.5" fill="#00ff00"/>
<circle cx="835.5" cy="1514.4" r="6.5" fill="#00ff00"/>
<circle cx="851.5" cy="1514.4" r="6.5" fill="#000000"/>
<circle cx="868.5" cy="1514.4" r="6.5" fill="#000000"/>
<circle cx="884.5" cy="1514.4" r="6.5" fill="#000000"/>
<circle cx="900.5" cy="1514.4" r="6.5" fill="#000000"/>
<circle cx="917.5" cy="1514.4" r="6.5" fill="#00ff00"/>
<circle cx="933.5" cy="1514.4" r="6.5" fill="#00ff00"/>
<circle cx="949.5" cy="1514.4" r="6.5" fill="#00ff00"/>
<circle cx="966.5" cy="1514.4" r="6.5" fill="#00ff00"/>
<circle cx="982.5" cy="1514.4" r="6.5" fill="#00ff00"/>
<circle cx="999.5" cy="1514.4" r="6.5" fill="#000000"/>
<circle cx="1015.5" cy="1514.4" r="6.5" fill="#000000"/>
<circle cx="1031.5" cy="1514.4" r="6.5" fill="#000000"/>
<circle cx="1048.5" cy="1514.4" r="6.5" fill="#000000"/>
<circle cx="1064.5" cy="1514.4" r="6.5" fill="#000000"/>
<circle cx="1081.5" cy="1514.4" r="6.5" fill="#000000"/>
<circle cx="1097.5" cy="1514.4" r="6.5" fill="#000000"/>
<circle cx="1113.5" cy="1514.4" r="6.5" fill="#000000"/>
<circle cx="1130.5" cy="1514.4" r="6.5" fill="#000000"/>
<circle cx="1146.5" cy="1514.4" r="6.5" fill="#ff0000"/>
<circle cx="1162.5" cy="1514.4" r="6.5" fill="#ff0000"/>
<circle cx="1179.5" cy="1514.4" r="6.5" fill="#ff0000"/>
<circle cx="1195.5" cy="1514.4" r="6.5" fill="#ff0000"/>
<circle cx="1212.5" cy="1514.4" r="6.5" fill="#ff0000"/>
<circle cx="1228.5" cy="1514.4" r="6.5" fill="#000000"/>
<circle cx="1244.5" cy="1514.4" r="6.5" fill="#00ff00"/>
<circle cx="1261.5" cy="1514.4" r="6.5" fill="#00ff00"/>
<circle cx="1277.5" cy="1514.4" r="6.5" fill="#00ff00"/>
<circle cx="1294.5" cy="1514.4" r="6.5" fill="#00ff00"/>
<circle cx="1310.5" cy="1514.4" r="6.5" fill="#00ff00"/>
<circle cx="1326.5" cy="1514.4" r="6.5" fill="#00ff00"/>
<circle cx="1343.5" cy="1514.4" r="6.5" fill="#00ff00"/>
<circle cx="1359.5" cy="1514.4" r="6.5" fill="#00ff00"/>
<circle cx="1375.5" cy="1514.4" r="6.5" fill="#00ff00"/>
<circle cx="1392.5" cy="1514.4" r="6.5" fill="#00ff00"/>
<circle cx="1408.5" cy="1514.4" r="6.5" fill="#00ff00"/>
<circle cx="1425.5" cy="1514.4" r="6.5" fill="#00ff00"/>
<circle cx="1441.5" cy="1514.4" r="6.5" fill="#00ff00"/>
<circle cx="1457.5" cy="1514.4" r="6.5" fill="#00ff00"/>
<circle cx="1474.5" cy="1514.4" r="6.5" fill="#00ff00"/>
<circle cx="1490.5" cy="1514.4" r="6.5" fill="#00ff00"/>
<circle cx="1506.5" cy="1514.4" r="6.5" fill="#00ff00"/>
<circle cx="1523.5" cy="1514.4" r="6.5" fill="#000000"/>
<circle cx="1539.5" cy="1514.4" r="6.5" fill="#000000"/>
<circle cx="1556.5" cy="1514.4" r="6.5" fill="#000000"/>
<circle cx="1572.5" cy="1514.4" r="6.5" fill="#000000"/>
<circle cx="1588.5" cy="1514.4" r="6.5" fill="#000000"/>
<circle cx="1605.5" cy="1514.4" r="6.5" fill="#000000"/>
<circle cx="1621.5" cy="1514.4" r="6.5" fill="#00ff00"/>
<circle cx="1638.5" cy="1514.4" r="6.5" fill="#00ff00"/>
<circle cx="1654.5" cy="1514.4" r="6.5" fill="#000000"/>
<circle cx="1670.5" cy="1514.4" r="6.5" fill="#000000"/>
<circle cx="1687.5" cy="1514.4" r="6.5" fill="#ff0000"/>
<circle cx="1703.5" cy="1514.4" r="6.5" fill="#ff0000"/>
<circle cx="1719.5" cy="1514.4" r="6.5" fill="#ff0000"/>
<circle cx="1736.5" cy="1514.4" r="6.5" fill="#ff0000"/>
<circle cx="1752.5" cy="1514.4" r="6.5" fill="#ff0000"/>
<circle cx="1769.5" cy="1514.4" r="6.5" fill="#ff0000"/>
<circle cx="1785.5" cy="1514.4" r="6.5" fill="#000000"/>
<circle cx="1801.5" cy="1514.4" r="6.5" fill="#00ff00"/>
<circle cx="1818.5" cy="1514.4" r="6.5" fill="#00ff00"/>
<circle cx="1834.5" cy="1514.4" r="6.5" fill="#00ff00"/>
<circle cx="1851.5" cy="1514.4" r="6.5" fill="#00ff00"/>
<circle cx="1867.5" cy="1514.4" r="6.5" fill="#000000"/>
<circle cx="1883.5" cy="1514.4" r="6.5" fill="#ff0000"/>
<circle cx="1900.5" cy="1514.4" r="6.5" fill="#ff0000"/>
<circle cx="1916.5" cy="1514.4" r="6.5" fill="#ff0000"/>
<circle cx="1932.5" cy="1514.4" r="6.5" fill="#ff0000"/>
<circle cx="1949.5" cy="1514.4" r="6.5" fill="#ff0000"/>
<circle cx="1965.5" cy="1514.4" r="6.5" fill="#ff0000"/>
<circle cx="1982.5" cy="1514.4" r="6.5" fill="#ff0000"/>
<circle cx="1998.5" cy="1514.4" r="6.5" fill="#ff0000"/>
<circle cx="2014.5" cy="1514.4" r="6.5" fill="#ff0000"/>
<circle cx="2031.5" cy="1514.4" r="6.5" fill="#ff0000"/>
<circle cx="2047.5" cy="1514.4" r="6.5" fill="#ff0000"/>
<circle cx="2064.5" cy="1514.4" r="6.5" fill="#ff0000"/>
<circle cx="2080.5" cy="1514.4" r="6.5" fill="#ff0000"/>
<circle cx="2096.5" cy="1514.4" r="6.5" fill="#ff0000"/>
<circle cx="2113.5" cy="1514.4" r="6.5" fill="#ff0000"/>
<circle cx="2129.5" cy="1514.4" r="6.5" fill="#000000"/>
<circle cx="2145.5" cy="1514.4" r="6.5" fill="#000000"/>
<circle cx="2162.5" cy="1514.4" r="6.5" fill="#000000"/>
<circle cx="2178.5" cy="1514.4" r="6.5" fill="#000000"/>
<circle cx="2195.5" cy="1514.4" r="6.5" fill="#000000"/>
<circle cx="2211.5" cy="1514.4" r="6.5" fill="#ff0000"/>
<circle cx="2227.5" cy="1514.4" r="6.5" fill="#ff0000"/>
<circle cx="2244.5" cy="1514.4" r="6.5" fill="#ff0000"/>
<circle cx="2260.5" cy="1514.4" r="6.5" fill="#ff0000"/>
<circle cx="2276.5" cy="1514.4" r="6.5" fill="#ff0000"/>
<circle cx="-0.5" cy="1535.4" r="6.5" fill="#000000"/>
<circle cx="16.5" cy="1535.4" r="6.5" fill="#000000"/>
<circle cx="32.5" cy="1535.4" r="6.5" fill="#000000"/>
<circle cx="48.5" cy="1535.4" r="6.5" fill="#000000"/>
<circle cx="65.5" cy="1535.4" r="6.5" fill="#00ff00"/>
<circle cx="81.5" cy="1535.4" r="6.5" fill="#00ff00"/>
<circle cx="98.5" cy="1535.4" r="6.5" fill="#00ff00"/>
<circle cx="114.5" cy="1535.4" r="6.5" fill="#00ff00"/>
<circle cx="130.5" cy="1535.4" r="6.5" fill="#00ff00"/>
<circle cx="147.5" cy="1535.4" r="6.5" fill="#000000"/>
<circle cx="163.5" cy="1535.4" r="6.5" fill="#000000"/>
<circle cx="179.5" cy="1535.4" r="6.5" fill="#000000"/>
<circle cx="196.5" cy="1535.4" r="6.5" fill="#000000"/>
<circle cx="212.5" cy="1535.4" r="6.5" fill="#000000"/>
<circle cx="229.5" cy="1535.4" r="6.5" fill="#000000"/>
<circle cx="245.5" cy="1535.4" r="6.5" fill="#00ff00"/>
<circle cx="261.5" cy="1535.4" r="6.5" fill="#00ff00"/>
<circle cx="278.5" cy="1535.4" r="6.5" fill="#000000"/>
<circle cx="294.5" cy="1535.4" r="6.5" fill="#00ff00"/>
<circle cx="311.5" cy="1535.4" r="6.5" fill="#00ff00"/>
<circle cx="327.5" cy="1535.4" r="6.5" fill="#00ff00"/>
<circle cx="343.5" cy="1535.4" r="6.5" fill="#00ff00"/>
<circle cx="360.5" cy="1535.4" r="6.5" fill="#00ff00"/>
<circle cx="376.5" cy="1535.4" r="6.5" fill="#00ff00"/>
<circle cx="392.5" cy="1535.4" r="6.5" fill="#000000"/>
<circle cx="409.5" cy="1535.4" r="6.5" fill="#000000"/>
<circle cx="425.5" cy="1535.4" r="6.5" fill="#00ff00"/>
<circle cx="442.5" cy="1535.4" r="6.5" fill="#00ff00"/>
<circle cx="458.5" cy="1535.4" r="6.5" fill="#00ff00"/>
<circle cx="474.5" cy="1535.4" r="6.5" fill="#00ff00"/>
<circle cx="491.5" cy="1535.4" r="6.5" fill="#00ff00"/>
<circle cx="507.5" cy="1535.4" r="6.5" fill="#000000"/>
<circle cx="524.5" cy="1535.4" r="6.5" fill="#000000"/>
<circle cx="540.5" cy="1535.4" r="6.5" fill="#000000"/>
<circle cx="556.5" cy="1535.4" r="6.5" fill="#000000"/>
<circle cx="573.5" cy="1535.4" r="6.5" fill="#000000"/>
<circle cx="589.5" cy="1535.4" r="6.5" fill="#000000"/>
<circle cx="605.5" cy="1535.4" r="6.5" fill="#000000"/>
<circle cx="622.5" cy="1535.4" r="6.5" fill="#000000"/>
<circle cx="638.5" cy="1535.4" r="6.5" fill="#000000"/>
<circle cx="655.5" cy="1535.4" r="6.5" fill="#000000"/>
<circle cx="671.5" cy="1535.4" r="6.5" fill="#000000"/>
<circle cx="687.5" cy="1535.4" r="6.5" fill="#000000"/>
<circle cx="704.5" cy="1535.4" r="6.5" fill="#00ff00"/>
<circle cx="720.5" cy="1535.4" r="6.5" fill="#00ff00"/>
<circle cx="736.5" cy="1535.4" r="6.5" fill="#00ff00"/>
<circle cx="753.5" cy="1535.4" r="6.5" fill="#00ff00"/>
<circle cx="769.5" cy="1535.4" r="6.5" fill="#00ff00"/>
<circle cx="786.5" cy="1535.4" r="6.5" fill="#00ff00"/>
<circle cx="802.5" cy="1535.4" r="6.5" fill="#00ff00"/>
<circle cx="818.5" cy="1535.4" r="6.5" fill="#00ff00"/>
<circle cx="835.5" cy="1535.4" r="6.5" fill="#00ff00"/>
<circle cx="851.5" cy="1535.4" r="6.5" fill="#000000"/>
<circle cx="868.5" cy="1535.4" r="6.5" fill="#000000"/>
<circle cx="884.5" cy="1535.4" r="6.5" fill="#000000"/>
<circle cx="900.5" cy="1535.4" r="6.5" fill="#000000"/>
<circle cx="917.5" cy="1535.4" r="6.5" fill="#00ff00"/>
<circle cx="933.5" cy="1535.4" r="6.5" fill="#00ff00"/>
<circle cx="949.5" cy="1535.4" r="6.5" fill="#00ff00"/>
<circle cx="966.5" cy="1535.4" r="6.5" fill="#00ff00"/>
<circle cx="982.5" cy="1535.4" r="6.5" fill="#00ff00"/>
<circle cx="999.5" cy="1535.4" r="6.5" fill="#000000"/>
<circle cx="1015.5" cy="1535.4" r="6.5" fill="#000000"/>
<circle cx="1031.5" cy="1535.4" r="6.5" fill="#000000"/>
<circle cx="1048.5" cy="1535.4" r="6.5" fill="#000000"/>
<circle cx="1064.5" cy="1535.4" r="6.5" fill="#000000"/>
<circle cx="1081.5" cy="1535.4" r="6.5" fill="#000000"/>
<circle cx="1097.5" cy="1535.4" r="6.5" fill="#ff0000"/>
<circle cx="1113.5" cy="1535.4" r="6.5" fill="#ff0000"/>
<circle cx="1130.5" cy="1535.4" r="6.5" fill="#ff0000"/>
<circle cx="1146.5" cy="1535.4" r="6.5" fill="#ff0000"/>
<circle cx="1162.5" cy="1535.4" r="6.5" fill="#ff0000"/>
<circle cx="1179.5" cy="1535.4" r="6.5" fill="#ff0000"/>
<circle cx="1195.5" cy="1535.4" r="6.5" fill="#000000"/>
<circle cx="1212.5" cy="1535.4" r="6.5" fill="#000000"/>
<circle cx="1228.5" cy="1535.4" r="6.5" fill="#000000"/>
<circle cx="1244.5" cy="1535.4" r="6.5" fill="#000000"/>
<circle cx="1261.5" cy="1535.4" r="6.5" fill="#00ff00"/>
<circle cx="1277.5" cy="1535.4" r="6.5" fill="#00ff00"/>
<circle cx="1294.5" cy="1535.4" r="6.5" fill="#00ff00"/>
<circle cx="1310.5" cy="1535.4" r="6.5" fill="#00ff00"/>
<circle cx="1326.5" cy="1535.4" r="6.5" fill="#00ff00"/>
<circle cx="1343.5" cy="1535.4" r="6.5" fill="#00ff00"/>
<circle cx="1359.5" cy="1535.4" r="6.5" fill="#00ff00"/>
<circle cx="1375.5" cy="1535.4" r="6.5" fill="#00ff00"/>
<circle cx="1392.5" cy="1535.4" r="6.5" fill="#00ff00"/>
<circle cx="1408.5" cy="1535.4" r="6.5" fill="#00ff00"/>
<circle cx="1425.5" cy="1535.4" r="6.5" fill="#00ff00"/>
<circle cx="1441.5" cy="1535.4" r="6.5" fill="#00ff00"/>
<circle cx="1457.5" cy="1535.4" r="6.5" fill="#000000"/>
<circle cx="1474.5" cy="1535.4" r="6.5" fill="#000000"/>
<circle cx="1490.5" cy="1535.4" r="6.5" fill="#000000"/>
<circle cx="1506.5" cy="1535.4" r="6.5" fill="#000000"/>
<circle cx="1523.5" cy="1535.4" r="6.5" fill="#000000"/>
<circle cx="1539.5" cy="1535.4" r="6.5" fill="#000000"/>
<circle cx="1556.5" cy="1535.4" r="6.5" fill="#000000"/>
<circle cx="1572.5" cy="1535.4" r="6.5" fill="#000000"/>
<circle cx="1588.5" cy="1535.4" r="6.5" fill="#000000"/>
<circle cx="1605.5" cy="1535.4" r="6.5" fill="#000000"/>
<circle cx="1621.5" cy="1535.4" r="6.5" fill="#000000"/>
<circle cx="1638.5" cy="1535.4" r="6.5" fill="#00ff00"/>
<circle cx="1654.5" cy="1535.4" r="6.5" fill="#ff0000"/>
<circle cx="1670.5" cy="1535.4" r="6.5" fill="#ff0000"/>
<circle cx="1687.5" cy="1535.4" r="6.5" fill="#ff0000"/>
<circle cx="1703.5" cy="1535.4" r="6.5" fill="#ff0000"/>
<circle cx="1719.5" cy="1535.4" r="6.5" fill="#ff0000"/>
<circle cx="1736.5" cy="1535.4" r="6.5" fill="#ff0000"/>
<circle cx="1752.5" cy="1535.4" r="6.5" fill="#ff0000"/>
<circle cx="1769.5" cy="1535.4" r="6.5" fill="#000000"/>
<circle cx="1785.5" cy="1535.4" r="6.5" fill="#000000"/>
<circle cx="1801.5" cy="1535.4" r="6.5" fill="#00ff00"/>
<circle cx="1818.5" cy="1535.4" r="6.5" fill="#00ff00"/>
<circle cx="1834.5" cy="1535.4" r="6.5" fill="#00ff00"/>
<circle cx="1851.5" cy="1535.4" r="6.5" fill="#00ff00"/>
<circle cx="1867.5" cy="1535.4" r="6.5" fill="#00ff00"/>
<circle cx="1883.5" cy="1535.4" r="6.5" fill="#000000"/>
<circle cx="1900.5" cy="1535.4" r="6.5" fill="#000000"/>
<circle cx="1916.5" cy="1535.4" r="6.5" fill="#000000"/>
<circle cx="1932.5" cy="1535.4" r="6.5" fill="#ff0000"/>
<circle cx="1949.5" cy="1535.4" r="6.5" fill="#000000"/>
<circle cx="1965.5" cy="1535.4" r="6.5" fill="#ff0000"/>
<circle cx="1982.5" cy="1535.4" r="6.5" fill="#ff0000"/>
<circle cx="1998.5" cy="1535.4" r="6.5" fill="#ff0000"/>
<circle cx="2014.5" cy="1535.4" r="6.5" fill="#ff0000"/>
<circle cx="2031.5" cy="1535.4" r="6.5" fill="#ff0000"/>
<circle cx="2047.5" cy="1535.4" r="6.5" fill="#ff0000"/>
<circle cx="2064.5" cy="1535.4" r="6.5" fill="#ff0000"/>
<circle cx="2080.5" cy="1535.4" r="6.5" fill="#ff0000"/>
<circle cx="2096.5" cy="1535.4" r="6.5" fill="#ff0000"/>
<circle cx="2113.5" cy="1535.4" r="6.5" fill="#000000"/>
<circle cx="2129.5" cy="1535.4" r="6.5" fill="#000000"/>
<circle cx="2145.5" cy="1535.4" r="6.5" fill="#000000"/>
<circle cx="2162.5" cy="1535.4" r="6.5" fill="#000000"/>
<circle cx="2178.5" cy="1535.4" r="6.5" fill="#000000"/>
<circle cx="2195.5" cy="1535.4" r="6.5" fill="#000000"/>
<circle cx="2211.5" cy="1535.4" r="6.5" fill="#000000"/>
<circle cx="2227.5" cy="1535.4" r="6.5" fill="#000000"/>
<circle cx="2244.5" cy="1535.4" r="6.5" fill="#000000"/>
<circle cx="2260.5" cy="1535.4" r="6.5" fill="#ff0000"/>
<circle cx="2276.5" cy="1535.4" r="6.5" fill="#ff0000"/>
<circle cx="-0.5" cy="1556.6" r="6.5" fill="#00ff00"/>
<circle cx="16.5" cy="1556.6" r="6.5" fill="#00ff00"/>
<circle cx="32.5" cy="1556.6" r="6.5" fill="#00ff00"/>
<circle cx="48.5" cy="1556.6" r="6.5" fill="#00ff00"/>
<circle cx="65.5" cy="1556.6" r="6.5" fill="#00ff00"/>
<circle cx="81.5" cy="1556.6" r="6.5" fill="#00ff00"/>
<circle cx="98.5" cy="1556.6" r="6.5" fill="#00ff00"/>
<circle cx="114.5" cy="1556.6" r="6.5" fill="#00ff00"/>
<circle cx="130.5" cy="1556.6" r="6.5" fill="#00ff00"/>
<circle cx="147.5" cy="1556.6" r="6.5" fill="#00ff00"/>
<circle cx="163.5" cy="1556.6" r="6.5" fill="#00ff00"/>
<circle cx="179.5" cy="1556.6" r="6.5" fill="#00ff00"/>
<circle cx="196.5" cy="1556.6" r="6.5" fill="#00ff00"/>
<circle cx="212.5" cy="1556.6" r="6.5" fill="#00ff00"/>
<circle cx="229.5" cy="1556.6" r="6.5" fill="#00ff00"/>
<circle cx="245.5" cy="1556.6" r="6.5" fill="#00ff00"/>
<circle cx="261.5" cy="1556.6" r="6.5" fill="#00ff00"/>
<circle cx="278.5" cy="1556.6" r="6.5" fill="#00ff00"/>
<circle cx="294.5" cy="1556.6" r="6.5" fill="#00ff00"/>
<circle cx="311.5" cy="1556.6" r="6.5" fill="#00ff00"/>
<circle cx="327.5" cy="1556.6" r="6.5" fill="#00ff00"/>
<circle cx="343.5" cy="1556.6" r="6.5" fill="#00ff00"/>
<circle cx="360.5" cy="1556.6" r="6.5" fill="#00ff00"/>
<circle cx="376.5" cy="1556.6" r="6.5" fill="#00ff00"/>
<circle cx="392.5" cy="1556.6" r="6.5" fill="#00ff00"/>
<circle cx="409.5" cy="1556.6" r="6.5" fill="#00ff00"/>
<circle cx="425.5" cy="1556.6" r="6.5" fill="#00ff00"/>
<circle cx="442.5" cy="1556.6" r="6.5" fill="#00ff00"/>
<circle cx="458.5" cy="1556.6" r="6.5" fill="#00ff00"/>
<circle cx="474.5" cy="1556.6" r="6.5" fill="#00ff00"/>
<circle cx="491.5" cy="1556.6" r="6.5" fill="#00ff00"/>
<circle cx="507.5" cy="1556.6" r="6.5" fill="#00ff00"/>
<circle cx="524.5" cy="1556.6" r="6.5" fill="#00ff00"/>
<circle cx="540.5" cy="1556.6" r="6.5" fill="#00ff00"/>
<circle cx="556.5" cy="1556.6" r="6.5" fill="#00ff00"/>
<circle cx="573.5" cy="1556.6" r="6.5" fill="#00ff00"/>
<circle cx="589.5" cy="1556.6" r="6.5" fill="#00ff00"/>
<circle cx="605.5" cy="1556.6" r="6.5" fill="#00ff00"/>
<circle cx="622.5" cy="1556.6" r="6.5" fill="#00ff00"/>
<circle cx="638.5" cy="1556.6" r="6.5" fill="#00ff00"/>
<circle cx="655.5" cy="1556.6" r="6.5" fill="#00ff00"/>
<circle cx="671.5" cy="1556.6" r="6.5" fill="#00ff00"/>
<circle cx="687.5" cy="1556.6" r="6.5" fill="#00ff00"/>
<circle cx="704.5" cy="1556.6" r="6.5" fill="#00ff00"/>
<circle cx="720.5" cy="1556.6" r="6.5" fill="#00ff00"/>
<circle cx="736.5" cy="1556.6" r="6.5" fill="#00ff00"/>
<circle cx="753.5" cy="1556.6" r="6.5" fill="#00ff00"/>
<circle cx="769.5" cy="1556.6" r="6.5" fill="#00ff00"/>
<circle cx="786.5" cy="1556.6" r="6.5" fill="#00ff00"/>
<circle cx="802.5" cy="1556.6" r="6.5" fill="#00ff00"/>
<circle cx="818.5" cy="1556.6" r="6.5" fill="#00ff00"/>
<circle cx="835.5" cy="1556.6" r="6.5" fill="#00ff00"/>
<circle cx="851.5" cy="1556.6" r="6.5" fill="#00ff00"/>
<circle cx="868.5" cy="1556.6" r="6.5" fill="#00ff00"/>
<circle cx="884.5" cy="1556.6" r="6.5" fill="#00ff00"/>
<circle cx="900.5" cy="1556.6" r="6.5" fill="#00ff00"/>
<circle cx="917.5" cy="1556.6" r="6.5" fill="#00ff00"/>
<circle cx="933.5" cy="1556.6" r="6.5" fill="#00ff00"/>
<circle cx="949.5" cy="1556.6" r="6.5" fill="#00ff00"/>
<circle cx="966.5" cy="1556.6" r="6.5" fill="#00ff00"/>
<circle cx="982.5" cy="1556.6" r="6.5" fill="#00ff00"/>
<circle cx="999.5" cy="1556.6" r="6.5" fill="#00ff00"/>
<circle cx="1015.5" cy="1556.6" r="6.5" fill="#00ff00"/>
<circle cx="1031.5" cy="1556.6" r="6.5" fill="#00ff00"/>
<circle cx="1048.5" cy="1556.6" r="6.5" fill="#00ff00"/>
<circle cx="1064.5" cy="1556.6" r="6.5" fill="#00ff00"/>
<circle cx="1081.5" cy="1556.6" r="6.5" fill="#00ff00"/>
<circle cx="1097.5" cy="1556.6" r="6.5" fill="#00ff00"/>
<circle cx="1113.5" cy="1556.6" r="6.5" fill="#00ff00"/>
<circle cx="1130.5" cy="1556.6" r="6.5" fill="#00ff00"/>
<circle cx="1146.5" cy="1556.6" r="6.5" fill="#000000"/>
<circle cx="1162.5" cy="1556.6" r="6.5" fill="#000000"/>
<circle cx="1179.5" cy="1556.6" r="6.5" fill="#000000"/>
<circle cx="1195.5" cy="1556.6" r="6.5" fill="#ff0000"/>
<circle cx="1212.5" cy="1556.6" r="6.5" fill="#ff0000"/>
<circle cx="1228.5" cy="1556.6" r="6.5" fill="#ff0000"/>
<circle cx="1244.5" cy="1556.6" r="6.5" fill="#ffff00"/>
<circle cx="1261.5" cy="1556.6" r="6.5" fill="#ffff00"/>
<circle cx="1277.5" cy="1556.6" r="6.5" fill="#ffff00"/>
<circle cx="1294.5" cy="1556.6" r="6.5" fill="#00ff00"/>
<circle cx="1310.5" cy="1556.6" r="6.5" fill="#00ff00"/>
<circle cx="1326.5" cy="1556.6" r="6.5" fill="#00ff00"/>
<circle cx="1343.5" cy="1556.6" r="6.5" fill="#00ff00"/>
<circle cx="1359.5" cy="1556.6" r="6.5" fill="#00ff00"/>
<circle cx="1375.5" cy="1556.6" r="6.5" fill="#00ff00"/>
<circle cx="1392.5" cy="1556.6" r="6.5" fill="#00ff00"/>
<circle cx="1408.5" cy="1556.6" r="6.5" fill="#00ff00"/>
<circle cx="1425.5" cy="1556.6" r="6.5" fill="#00ff00"/>
<circle cx="1441.5" cy="1556.6" r="6.5" fill="#00ff00"/>
<circle cx="1457.5" cy="1556.6" r="6.5" fill="#00ff00"/>
<circle cx="1474.5" cy="1556.6" r="6.5" fill="#00ff00"/>
<circle cx="1490.5" cy="1556.6" r="6.5" fill="#00ff00"/>
<circle cx="1506.5" cy="1556.6" r="6.5" fill="#00ff00"/>
<circle cx="1523.5" cy="1556.6" r="6.5" fill="#00ff00"/>
<circle cx="1539.5" cy="1556.6" r="6.5" fill="#00ff00"/>
<circle cx="1556.5" cy="1556.6" r="6.5" fill="#00ff00"/>
<circle cx="1572.5" cy="1556.6" r="6.5" fill="#00ff00"/>
<circle cx="1588.5" cy="1556.6" r="6.5" fill="#00ff00"/>
<circle cx="1605.5" cy="1556.6" r="6.5" fill="#00ff00"/>
<circle cx="1621.5" cy="1556.6" r="6.5" fill="#00ff00"/>
<circle cx="1638.5" cy="1556.6" r="6.5" fill="#00ff00"/>
<circle cx="1654.5" cy="1556.6" r="6.5" fill="#00ff00"/>
<circle cx="1670.5" cy="1556.6" r="6.5" fill="#00ff00"/>
<circle cx="1687.5" cy="1556.6" r="6.5" fill="#000000"/>
<circle cx="1703.5" cy="1556.6" r="6.5" fill="#000000"/>
<circle cx="1719.5" cy="1556.6" r="6.5" fill="#000000"/>
<circle cx="1736.5" cy="1556.6" r="6.5" fill="#ff0000"/>
<circle cx="1752.5" cy="1556.6" r="6.5" fill="#ff0000"/>
<circle cx="1769.5" cy="1556.6" r="6.5" fill="#ff0000"/>
<circle cx="1785.5" cy="1556.6" r="6.5" fill="#ff0000"/>
<circle cx="1801.5" cy="1556.6" r="6.5" fill="#ffff00"/>
<circle cx="1818.5" cy="1556.6" r="6.5" fill="#ffff00"/>
<circle cx="1834.5" cy="1556.6" r="6.5" fill="#ffff00"/>
<circle cx="1851.5" cy="1556.6" r="6.5" fill="#00ff00"/>
<circle cx="1867.5" cy="1556.6" r="6.5" fill="#00ff00"/>
<circle cx="1883.5" cy="1556.6" r="6.5" fill="#000000"/>
<circle cx="1900.5" cy="1556.6" r="6.5" fill="#000000"/>
<circle cx="1916.5" cy="1556.6" r="6.5" fill="#000000"/>
<circle cx="1932.5" cy="1556.6" r="6.5" fill="#ff0000"/>
<circle cx="1949.5" cy="1556.6" r="6.5" fill="#ff0000"/>
<circle cx="1965.5" cy="1556.6" r="6.5" fill="#ff0000"/>
<circle cx="1982.5" cy="1556.6" r="6.5" fill="#ff0000"/>
<circle cx="1998.5" cy="1556.6" r="6.5" fill="#ff0000"/>
<circle cx="2014.5" cy="1556.6" r="6.5" fill="#ff0000"/>
<circle cx="2031.5" cy="1556.6" r="6.5" fill="#ff0000"/>
<circle cx="2047.5" cy="1556.6" r="6.5" fill="#ff0000"/>
<circle cx="2064.5" cy="1556.6" r="6.5" fill="#ff0000"/>
<circle cx="2080.5" cy="1556.6" r="6.5" fill="#ff0000"/>
<circle cx="2096.5" cy="1556.6" r="6.5" fill="#ff0000"/>
<circle cx="2113.5" cy="1556.6" r="6.5" fill="#ff0000"/>
<circle cx="2129.5" cy="1556.6" r="6.5" fill="#ff0000"/>
<circle cx="2145.5" cy="1556.6" r="6.5" fill="#ff0000"/>
<circle cx="2162.5" cy="1556.6" r="6.5" fill="#ff0000"/>
<circle cx="2178.5" cy="1556.6" r="6.5" fill="#ff0000"/>
<circle cx="2195.5" cy="1556.6" r="6.5" fill="#ff0000"/>
<circle cx="2211.5" cy="1556.6" r="6.5" fill="#ff0000"/>
<circle cx="2227.5" cy="1556.6" r="6.5" fill="#ff0000"/>
<circle cx="2244.5" cy="1556.6" r="6.5" fill="#ff0000"/>
<circle cx="2260.5" cy="1556.6" r="6.5" fill="#ff0000"/>
<circle cx="2276.5" cy="1556.6" r="6.5" fill="#ff0000"/>
<circle cx="-0.5" cy="1692.5" r="6.5" fill="#008000"/>
<circle cx="-0.5" cy="1692.5" r="3.8" fill="#ff0000"/>
<circle cx="16.5" cy="1637.5" r="6.5" fill="#00ff00"/>
<circle cx="16.5" cy="1665.5" r="6.5" fill="#00ffff"/>
<circle cx="32.5" cy="1610.5" r="3.5" fill="#00ff00"/>
<circle cx="32.5" cy="1637.5" r="6.5" fill="#ff00ff"/>
<circle cx="48.5" cy="1610.5" r="6.5" fill="#008000"/>
<circle cx="48.5" cy="1624.5" r="6.5" fill="#0000ff"/>
<circle cx="65.5" cy="1624.5" r="6.5" fill="#0000ff"/>
<circle cx="81.5" cy="1624.5" r="6.5" fill="#0000ff"/>
<circle cx="130.5" cy="1637.5" r="6.5" fill="#00ff00"/>
<circle cx="130.5" cy="1651.5" r="6.5" fill="#ff0000"/>
<circle cx="130.5" cy="1692.5" r="6.5" fill="#ff88ee"/>
<circle cx="147.5" cy="1651.5" r="6.5" fill="#ffc000"/>
<circle cx="163.5" cy="1651.5" r="3.5" fill="#00ffff"/>
<circle cx="163.5" cy="1692.5" r="3.5" fill="#ff0000"/>
<circle cx="179.5" cy="1637.5" r="6.5" fill="#00ff00"/>
<circle cx="179.5" cy="1665.5" r="6.5" fill="#00ffff"/>
<circle cx="245.5" cy="1610.5" r="6.5" fill="#008000"/>
<circle cx="245.5" cy="1610.5" r="3.5" fill="#00ff00"/>
<circle cx="245.5" cy="1637.5" r="6.5" fill="#ff00ff"/>
<circle cx="278.5" cy="1624.5" r="6.5" fill="#0000ff"/>
<circle cx="294.5" cy="1624.5" r="6.5" fill="#0000ff"/>
<circle cx="311.5" cy="1624.5" r="6.5" fill="#0000ff"/>
<circle cx="311.5" cy="1624.5" r="4.5" fill="#909090"/>
<circle cx="327.5" cy="1651.5" r="6.5" fill="#ffc000"/>
<circle cx="360.5" cy="1637.5" r="6.5" fill="#00ff00"/>
<circle cx="360.5" cy="1665.5" r="6.5" fill="#00ffff"/>
<circle cx="360.5" cy="1692.5" r="6.5" fill="#ff88ee"/>
<circle cx="376.5" cy="1679.5" r="6.5" fill="#0000ff"/>
<circle cx="376.5" cy="1692.5" r="3.5" fill="#ff0000"/>
<circle cx="392.5" cy="1679.5" r="4.5" fill="#909090"/>
<circle cx="409.5" cy="1637.5" r="6.5" fill="#ff00ff"/>
<circle cx="425.5" cy="1610.5" r="6.5" fill="#008000"/>
<circle cx="425.5" cy="1610.5" r="3.5" fill="#00ff00"/>
<circle cx="425.5" cy="1624.5" r="6.5" fill="#0000ff"/>
<circle cx="442.5" cy="1624.5" r="6.5" fill="#0000ff"/>
<circle cx="458.5" cy="1651.5" r="6.5" fill="#ff0000"/>
<circle cx="474.5" cy="1624.5" r="6.5" fill="#0000ff"/>
<circle cx="474.5" cy="1624.5" r="4.5" fill="#909090"/>
<circle cx="507.5" cy="1651.5" r="6.5" fill="#ffc000"/>
<circle cx="507.5" cy="1692.5" r="6.5" fill="#008000"/>
<circle cx="507.5" cy="1692.5" r="3.8" fill="#ff0000"/>
<circle cx="540.5" cy="1665.5" r="6.5" fill="#00ffff"/>
<circle cx="556.5" cy="1679.5" r="6.5" fill="#0000ff"/>
<circle cx="573.5" cy="1679.5" r="6.5" fill="#0000ff"/>
<circle cx="573.5" cy="1679.5" r="4.5" fill="#909090"/>
<circle cx="622.5" cy="1637.5" r="6.5" fill="#00ff00"/>
<circle cx="655.5" cy="1610.5" r="6.5" fill="#ff88ee"/>
<circle cx="671.5" cy="1651.5" r="3.5" fill="#00ffff"/>
<circle cx="687.5" cy="1637.5" r="6.5" fill="#00ff00"/>
<circle cx="704.5" cy="1637.5" r="6.5" fill="#ff00ff"/>
<circle cx="720.5" cy="1610.5" r="3.5" fill="#00ff00"/>
<circle cx="720.5" cy="1624.5" r="6.5" fill="#0000ff"/>
<circle cx="736.5" cy="1624.5" r="6.5" fill="#0000ff"/>
<circle cx="753.5" cy="1624.5" r="6.5" fill="#0000ff"/>
<circle cx="769.5" cy="1624.5" r="6.5" fill="#0000ff"/>
<circle cx="769.5" cy="1624.5" r="4.5" fill="#909090"/>
<circle cx="786.5" cy="1651.5" r="6.5" fill="#ff0000"/>
<circle cx="818.5" cy="1651.5" r="6.5" fill="#ffc000"/>
<circle cx="835.5" cy="1679.5" r="6.5" fill="#0000ff"/>
<circle cx="835.5" cy="1692.5" r="3.5" fill="#ff0000"/>
<circle cx="851.5" cy="1665.5" r="6.5" fill="#00ffff"/>
<circle cx="884.5" cy="1651.5" r="3.5" fill="#00ffff"/>
<circle cx="900.5" cy="1637.5" r="6.5" fill="#ff00ff"/>
<circle cx="917.5" cy="1610.5" r="3.5" fill="#00ff00"/>
<circle cx="917.5" cy="1624.5" r="6.5" fill="#0000ff"/>
<circle cx="917.5" cy="1637.5" r="6.5" fill="#00ff00"/>
<circle cx="917.5" cy="1651.5" r="6.5" fill="#ff0000"/>
<circle cx="949.5" cy="1624.5" r="6.5" fill="#0000ff"/>
<circle cx="999.5" cy="1651.5" r="6.5" fill="#ffc000"/>
<circle cx="999.5" cy="1692.5" r="3.5" fill="#ff0000"/>
<circle cx="1015.5" cy="1679.5" r="6.5" fill="#0000ff"/>
<circle cx="1031.5" cy="1665.5" r="6.5" fill="#00ffff"/>
<circle cx="1081.5" cy="1679.5" r="6.5" fill="#0000ff"/>
<circle cx="1081.5" cy="1692.5" r="6.5" fill="#008000"/>
<circle cx="1097.5" cy="1679.5" r="6.5" fill="#0000ff"/>
<circle cx="1130.5" cy="1679.5" r="6.5" fill="#0000ff"/>
<circle cx="1130.5" cy="1679.5" r="4.5" fill="#909090"/>
<circle cx="1146.5" cy="1651.5" r="6.5" fill="#008000"/>
<circle cx="1146.5" cy="1651.5" r="3.5" fill="#00ffff"/>
<circle cx="1146.5" cy="1665.5" r="6.5" fill="#0000ff"/>
<circle cx="1179.5" cy="1610.5" r="6.5" fill="#ff88ee"/>
<circle cx="1179.5" cy="1651.5" r="6.5" fill="#ffc000"/>
<circle cx="1195.5" cy="1624.5" r="6.5" fill="#0000ff"/>
<circle cx="1212.5" cy="1610.5" r="3.5" fill="#00ff00"/>
<circle cx="1212.5" cy="1637.5" r="6.5" fill="#00ffff"/>
<circle cx="1244.5" cy="1624.5" r="6.5" fill="#0000ff"/>
<circle cx="1244.5" cy="1624.5" r="4.5" fill="#909090"/>
<circle cx="1244.5" cy="1637.5" r="6.5" fill="#0000ff"/>
<circle cx="1277.5" cy="1637.5" r="6.5" fill="#00ff00"/>
<circle cx="1277.5" cy="1651.5" r="6.5" fill="#ffc000"/>
<circle cx="1277.5" cy="1679.5" r="6.5" fill="#000000"/>
<circle cx="1294.5" cy="1637.5" r="6.5" fill="#ff00ff"/>
<circle cx="1310.5" cy="1610.5" r="6.5" fill="#008000"/>
<circle cx="1310.5" cy="1651.5" r="6.5" fill="#ff0000"/>
<circle cx="1359.5" cy="1610.5" r="6.5" fill="#008000"/>
<circle cx="1359.5" cy="1624.5" r="6.5" fill="#0000ff"/>
<circle cx="1359.5" cy="1651.5" r="6.5" fill="#ff0000"/>
<circle cx="1375.5" cy="1651.5" r="6.5" fill="#ffc000"/>
<circle cx="1392.5" cy="1637.5" r="6.5" fill="#00ff00"/>
<circle cx="1392.5" cy="1637.5" r="6.5" fill="#ff00ff"/>
<circle cx="1392.5" cy="1651.5" r="6.5" fill="#ff0000"/>
<circle cx="1425.5" cy="1610.5" r="6.5" fill="#008000"/>
<circle cx="1425.5" cy="1624.5" r="6.5" fill="#0000ff"/>
<circle cx="1457.5" cy="1651.5" r="6.5" fill="#ffc000"/>
<circle cx="1474.5" cy="1637.5" r="6.5" fill="#ff00ff"/>
<circle cx="1506.5" cy="1651.5" r="6.5" fill="#ffc000"/>
<circle cx="1506.5" cy="1651.5" r="3.5" fill="#00ffff"/>
<circle cx="1506.5" cy="1692.5" r="6.5" fill="#008000"/>
<circle cx="1506.5" cy="1692.5" r="3.8" fill="#ff0000"/>
<circle cx="1523.5" cy="1679.5" r="6.5" fill="#0000ff"/>
<circle cx="1539.5" cy="1637.5" r="6.5" fill="#ff00ff"/>
<circle cx="1556.5" cy="1651.5" r="6.5" fill="#ffc000"/>
<circle cx="1556.5" cy="1706.5" r="6.5" fill="#000000"/>
<circle cx="1572.5" cy="1692.5" r="6.5" fill="#008000"/>
<circle cx="1588.5" cy="1637.5" r="6.5" fill="#00ff00"/>
<circle cx="1588.5" cy="1637.5" r="6.5" fill="#ff00ff"/>
<circle cx="1621.5" cy="1610.5" r="3.5" fill="#00ff00"/>
<circle cx="1654.5" cy="1651.5" r="6.5" fill="#ffc000"/>
<circle cx="1654.5" cy="1692.5" r="3.5" fill="#ff0000"/>
<circle cx="1654.5" cy="1706.5" r="6.5" fill="#000000"/>
<circle cx="1670.5" cy="1692.5" r="6.5" fill="#008000"/>
<circle cx="1687.5" cy="1665.5" r="6.5" fill="#0000ff"/>
<circle cx="1687.5" cy="1679.5" r="6.5" fill="#0000ff"/>
<circle cx="1736.5" cy="1651.5" r="6.5" fill="#ffc000"/>
<circle cx="1752.5" cy="1610.5" r="6.5" fill="#ff88ee"/>
<circle cx="1752.5" cy="1624.5" r="6.5" fill="#0000ff"/>
<circle cx="1769.5" cy="1610.5" r="3.5" fill="#00ff00"/>
<circle cx="1769.5" cy="1624.5" r="6.5" fill="#0000ff"/>
<circle cx="1769.5" cy="1637.5" r="6.5" fill="#00ffff"/>
<circle cx="1785.5" cy="1624.5" r="6.5" fill="#0000ff"/>
<circle cx="1801.5" cy="1624.5" r="4.5" fill="#909090"/>
<circle cx="1801.5" cy="1637.5" r="6.5" fill="#0000ff"/>
<circle cx="1851.5" cy="1692.5" r="6.5" fill="#ff88ee"/>
<circle cx="1867.5" cy="1651.5" r="6.5" fill="#ffc000"/>
<circle cx="1867.5" cy="1692.5" r="3.5" fill="#ff0000"/>
<circle cx="1883.5" cy="1665.5" r="6.5" fill="#0000ff"/>
<circle cx="1900.5" cy="1679.5" r="6.5" fill="#0000ff"/>
<circle cx="1932.5" cy="1651.5" r="6.5" fill="#ffc000"/>
<circle cx="1949.5" cy="1610.5" r="3.5" fill="#00ff00"/>
<circle cx="1949.5" cy="1624.5" r="6.5" fill="#0000ff"/>
<circle cx="1965.5" cy="1665.5" r="6.5" fill="#ff00ff"/>
<circle cx="1965.5" cy="1692.5" r="3.5" fill="#ff0000"/>
<circle cx="1982.5" cy="1692.5" r="6.5" fill="#008000"/>
<circle cx="1998.5" cy="1679.5" r="6.5" fill="#0000ff"/>
<circle cx="2014.5" cy="1679.5" r="6.5" fill="#0000ff"/>
<circle cx="2031.5" cy="1679.5" r="6.5" fill="#0000ff"/>
<circle cx="2031.5" cy="1679.5" r="4.5" fill="#909090"/>
<circle cx="2080.5" cy="1610.5" r="6.5" fill="#ff88ee"/>
<circle cx="2080.5" cy="1651.5" r="6.5" fill="#ffc000"/>
<circle cx="2113.5" cy="1610.5" r="3.5" fill="#00ff00"/>
<circle cx="2113.5" cy="1637.5" r="6.5" fill="#00ffff"/>
<circle cx="2129.5" cy="1665.5" r="6.5" fill="#ff0000"/>
<circle cx="2178.5" cy="1692.5" r="6.5" fill="#ff88ee"/>
<circle cx="2195.5" cy="1665.5" r="6.5" fill="#ff00ff"/>
<circle cx="2211.5" cy="1679.5" r="6.5" fill="#0000ff"/>
<circle cx="2211.5" cy="1692.5" r="3.5" fill="#ff0000"/>
<circle cx="2227.5" cy="1679.5" r="6.5" fill="#0000ff"/>
<circle cx="2244.5" cy="1651.5" r="6.5" fill="#008000"/>
<circle cx="2260.5" cy="1679.5" r="4.5" fill="#909090"/>
<circle cx="2276.5" cy="1651.5" r="6.5" fill="#ffc000"/>
<g shape-rendering="crispEdges">
<line x1="6" x2="2882" y1="1596.5" y2="1596.5" stroke="#00ff00" stroke-opacity="1.0" stroke-width="1" stroke-dasharray="5 6"/>
<line x1="6" x2="2882" y1="1610.5" y2="1610.5" stroke="#00ff00" stroke-opacity="0.8" stroke-width="1" stroke-dasharray="5 6"/>
<line x1="6" x2="2882" y1="1624.5" y2="1624.5" stroke="#00ff00" stroke-opacity="0.6" stroke-width="1" stroke-dasharray="5 6"/>
<line x1="6" x2="2882" y1="1637.5" y2="1637.5" stroke="#00ff00" stroke-opacity="0.4" stroke-width="1" stroke-dasharray="5 6"/>
<line x1="6" x2="2882" y1="1651.5" y2="1651.5" stroke="#808080" stroke-opacity="0.4" stroke-width="1" stroke-dasharray="5 6"/>
<line x1="6" x2="2882" y1="1665.5" y2="1665.5" stroke="#ff0000" stroke-opacity="0.4" stroke-width="1" stroke-dasharray="5 6"/>
<line x1="6" x2="2882" y1="1679.5" y2="1679.5" stroke="#ff0000" stroke-opacity="0.6" stroke-width="1" stroke-dasharray="5 6"/>
<line x1="6" x2="2882" y1="1692.5" y2="1692.5" stroke="#ff0000" stroke-opacity="0.8" stroke-width="1" stroke-dasharray="5 6"/>
<line x1="6" x2="2882" y1="1706.5" y2="1706.5" stroke="#ff0000" stroke-opacity="1.0" stroke-width="1" stroke-dasharray="5 6"/>
</g>
<circle cx="-0.5" cy="1739.4" r="6.5" fill="#ff0000"/>
<circle cx="16.5" cy="1739.4" r="6.5" fill="#ff0000"/>
<circle cx="32.5" cy="1739.4" r="6.5" fill="#00ff00"/>
<circle cx="48.5" cy="1739.4" r="6.5" fill="#00ff00"/>
<circle cx="48.5" cy="1739.4" r="3.5" fill="#ff0000"/>
<circle cx="65.5" cy="1739.4" r="6.5" fill="#00ff00"/>
<circle cx="65.5" cy="1739.4" r="3.5" fill="#ff0000"/>
<circle cx="81.5" cy="1739.4" r="6.5" fill="#00ff00"/>
<circle cx="81.5" cy="1739.4" r="3.5" fill="#ff0000"/>
<circle cx="98.5" cy="1739.4" r="6.5" fill="#00ff00"/>
<circle cx="98.5" cy="1739.4" r="3.5" fill="#ff0000"/>
<circle cx="114.5" cy="1739.4" r="6.5" fill="#00ff00"/>
<circle cx="114.5" cy="1739.4" r="3.5" fill="#ff0000"/>
<circle cx="130.5" cy="1739.4" r="6.5" fill="#ff0000"/>
<circle cx="147.5" cy="1739.4" r="6.5" fill="#ff0000"/>
<circle cx="163.5" cy="1739.4" r="6.5" fill="#ff0000"/>
<circle cx="179.5" cy="1739.4" r="6.5" fill="#ff0000"/>
<circle cx="196.5" cy="1739.4" r="6.5" fill="#ff0000"/>
<circle cx="212.5" cy="1739.4" r="6.5" fill="#ff0000"/>
<circle cx="229.5" cy="1739.4" r="6.5" fill="#00ff00"/>
<circle cx="229.5" cy="1739.4" r="3.5" fill="#ff0000"/>
<circle cx="245.5" cy="1739.4" r="6.5" fill="#00ff00"/>
<circle cx="245.5" cy="1739.4" r="3.5" fill="#ff0000"/>
<circle cx="261.5" cy="1739.4" r="6.5" fill="#00ff00"/>
<circle cx="261.5" cy="1739.4" r="3.5" fill="#ff0000"/>
<circle cx="278.5" cy="1739.4" r="6.5" fill="#00ff00"/>
<circle cx="278.5" cy="1739.4" r="3.5" fill="#ff0000"/>
<circle cx="294.5" cy="1739.4" r="6.5" fill="#00ff00"/>
<circle cx="294.5" cy="1739.4" r="3.5" fill="#ff0000"/>
<circle cx="311.5" cy="1739.4" r="6.5" fill="#00ff00"/>
<circle cx="311.5" cy="1739.4" r="3.5" fill="#ff0000"/>
<circle cx="327.5" cy="1739.4" r="6.5" fill="#ff0000"/>
<circle cx="343.5" cy="1739.4" r="6.5" fill="#ff0000"/>
<circle cx="360.5" cy="1739.4" r="6.5" fill="#ff0000"/>
<circle cx="376.5" cy="1739.4" r="6.5" fill="#ff0000"/>
<circle cx="392.5" cy="1739.4" r="6.5" fill="#ff0000"/>
<circle cx="409.5" cy="1739.4" r="6.5" fill="#00ff00"/>
<circle cx="409.5" cy="1739.4" r="3.5" fill="#ff0000"/>
<circle cx="425.5" cy="1739.4" r="6.5" fill="#00ff00"/>
<circle cx="425.5" cy="1739.4" r="3.5" fill="#ff0000"/>
<circle cx="442.5" cy="1739.4" r="6.5" fill="#00ff00"/>
<circle cx="442.5" cy="1739.4" r="3.5" fill="#ff0000"/>
<circle cx="458.5" cy="1739.4" r="6.5" fill="#00ff00"/>
<circle cx="458.5" cy="1739.4" r="3.5" fill="#ff0000"/>
<circle cx="474.5" cy="1739.4" r="6.5" fill="#00ff00"/>
<circle cx="474.5" cy="1739.4" r="3.5" fill="#ff0000"/>
<circle cx="491.5" cy="1739.4" r="6.5" fill="#00ff00"/>
<circle cx="491.5" cy="1739.4" r="3.5" fill="#ff0000"/>
<circle cx="507.5" cy="1739.4" r="6.5" fill="#ff0000"/>
<circle cx="524.5" cy="1739.4" r="6.5" fill="#ff0000"/>
<circle cx="540.5" cy="1739.4" r="6.5" fill="#00ff00"/>
<circle cx="540.5" cy="1739.4" r="3.5" fill="#ff0000"/>
<circle cx="556.5" cy="1739.4" r="6.5" fill="#ff0000"/>
<circle cx="573.5" cy="1739.4" r="6.5" fill="#ff0000"/>
<circle cx="589.5" cy="1739.4" r="6.5" fill="#ff0000"/>
<circle cx="605.5" cy="1739.4" r="6.5" fill="#ff0000"/>
<circle cx="622.5" cy="1739.4" r="6.5" fill="#ff0000"/>
<circle cx="638.5" cy="1739.4" r="6.5" fill="#ff0000"/>
<circle cx="655.5" cy="1739.4" r="6.5" fill="#00ff00"/>
<circle cx="671.5" cy="1739.4" r="6.5" fill="#00ff00"/>
<circle cx="687.5" cy="1739.4" r="6.5" fill="#00ff00"/>
<circle cx="704.5" cy="1739.4" r="6.5" fill="#00ff00"/>
<circle cx="720.5" cy="1739.4" r="6.5" fill="#00ff00"/>
<circle cx="720.5" cy="1739.4" r="3.5" fill="#ff0000"/>
<circle cx="736.5" cy="1739.4" r="6.5" fill="#00ff00"/>
<circle cx="736.5" cy="1739.4" r="3.5" fill="#ff0000"/>
<circle cx="753.5" cy="1739.4" r="6.5" fill="#00ff00"/>
<circle cx="753.5" cy="1739.4" r="3.5" fill="#ff0000"/>
<circle cx="769.5" cy="1739.4" r="6.5" fill="#00ff00"/>
<circle cx="769.5" cy="1739.4" r="3.5" fill="#ff0000"/>
<circle cx="786.5" cy="1739.4" r="6.5" fill="#ff0000"/>
<circle cx="802.5" cy="1739.4" r="6.5" fill="#ff0000"/>
<circle cx="818.5" cy="1739.4" r="6.5" fill="#ff0000"/>
<circle cx="835.5" cy="1739.4" r="6.5" fill="#ff0000"/>
<circle cx="851.5" cy="1739.4" r="6.5" fill="#ff0000"/>
<circle cx="868.5" cy="1739.4" r="6.5" fill="#ff0000"/>
<circle cx="884.5" cy="1739.4" r="6.5" fill="#ff0000"/>
<circle cx="900.5" cy="1739.4" r="6.5" fill="#ff0000"/>
<circle cx="917.5" cy="1739.4" r="6.5" fill="#00ff00"/>
<circle cx="933.5" cy="1739.4" r="6.5" fill="#ff0000"/>
<circle cx="949.5" cy="1739.4" r="6.5" fill="#ff0000"/>
<circle cx="966.5" cy="1739.4" r="6.5" fill="#ff0000"/>
<circle cx="982.5" cy="1739.4" r="6.5" fill="#ff0000"/>
<circle cx="999.5" cy="1739.4" r="6.5" fill="#ff0000"/>
<circle cx="1015.5" cy="1739.4" r="6.5" fill="#ff0000"/>
<circle cx="1031.5" cy="1739.4" r="6.5" fill="#ff0000"/>
<circle cx="1048.5" cy="1739.4" r="6.5" fill="#00ff00"/>
<circle cx="1064.5" cy="1739.4" r="6.5" fill="#ff0000"/>
<circle cx="1081.5" cy="1739.4" r="6.5" fill="#ff0000"/>
<circle cx="1097.5" cy="1739.4" r="6.5" fill="#ff0000"/>
<circle cx="1113.5" cy="1739.4" r="6.5" fill="#00ff00"/>
<circle cx="1130.5" cy="1739.4" r="6.5" fill="#ff0000"/>
<circle cx="1146.5" cy="1739.4" r="6.5" fill="#ff0000"/>
<circle cx="1162.5" cy="1739.4" r="6.5" fill="#ff0000"/>
<circle cx="1179.5" cy="1739.4" r="6.5" fill="#00ff00"/>
<circle cx="1195.5" cy="1739.4" r="6.5" fill="#00ff00"/>
<circle cx="1212.5" cy="1739.4" r="6.5" fill="#00ff00"/>
<circle cx="1228.5" cy="1739.4" r="6.5" fill="#00ff00"/>
<circle cx="1244.5" cy="1739.4" r="6.5" fill="#00ff00"/>
<circle cx="1261.5" cy="1739.4" r="6.5" fill="#00ff00"/>
<circle cx="1277.5" cy="1739.4" r="6.5" fill="#00ff00"/>
<circle cx="1277.5" cy="1739.4" r="3.5" fill="#ff0000"/>
<circle cx="1294.5" cy="1739.4" r="6.5" fill="#00ff00"/>
<circle cx="1294.5" cy="1739.4" r="3.5" fill="#ff0000"/>
<circle cx="1310.5" cy="1739.4" r="6.5" fill="#00ff00"/>
<circle cx="1310.5" cy="1739.4" r="3.5" fill="#ff0000"/>
<circle cx="1326.5" cy="1739.4" r="6.5" fill="#ff0000"/>
<circle cx="1343.5" cy="1739.4" r="6.5" fill="#ff0000"/>
<circle cx="1359.5" cy="1739.4" r="6.5" fill="#ff0000"/>
<circle cx="1375.5" cy="1739.4" r="6.5" fill="#ff0000"/>
<circle cx="1392.5" cy="1739.4" r="6.5" fill="#00ff00"/>
<circle cx="1408.5" cy="1739.4" r="6.5" fill="#00ff00"/>
<circle cx="1425.5" cy="1739.4" r="6.5" fill="#00ff00"/>
<circle cx="1441.5" cy="1739.4" r="6.5" fill="#00ff00"/>
<circle cx="1457.5" cy="1739.4" r="6.5" fill="#ff0000"/>
<circle cx="1474.5" cy="1739.4" r="6.5" fill="#ff0000"/>
<circle cx="1490.5" cy="1739.4" r="6.5" fill="#ff0000"/>
<circle cx="1506.5" cy="1739.4" r="6.5" fill="#ff0000"/>
<circle cx="1523.5" cy="1739.4" r="6.5" fill="#ff0000"/>
<circle cx="1539.5" cy="1739.4" r="6.5" fill="#ff0000"/>
<circle cx="1556.5" cy="1739.4" r="6.5" fill="#ff0000"/>
<circle cx="1572.5" cy="1739.4" r="6.5" fill="#ff0000"/>
<circle cx="1588.5" cy="1739.4" r="6.5" fill="#00ff00"/>
<circle cx="1605.5" cy="1739.4" r="6.5" fill="#00ff00"/>
<circle cx="1621.5" cy="1739.4" r="6.5" fill="#00ff00"/>
<circle cx="1638.5" cy="1739.4" r="6.5" fill="#ff0000"/>
<circle cx="1654.5" cy="1739.4" r="6.5" fill="#ff0000"/>
<circle cx="1670.5" cy="1739.4" r="6.5" fill="#ff0000"/>
<circle cx="1687.5" cy="1739.4" r="6.5" fill="#ff0000"/>
<circle cx="1703.5" cy="1739.4" r="6.5" fill="#ff0000"/>
<circle cx="1719.5" cy="1739.4" r="6.5" fill="#ff0000"/>
<circle cx="1736.5" cy="1739.4" r="6.5" fill="#00ff00"/>
<circle cx="1752.5" cy="1739.4" r="6.5" fill="#00ff00"/>
<circle cx="1769.5" cy="1739.4" r="6.5" fill="#00ff00"/>
<circle cx="1785.5" cy="1739.4" r="6.5" fill="#00ff00"/>
<circle cx="1801.5" cy="1739.4" r="6.5" fill="#00ff00"/>
<circle cx="1818.5" cy="1739.4" r="6.5" fill="#00ff00"/>
<circle cx="1834.5" cy="1739.4" r="6.5" fill="#00ff00"/>
<circle cx="1851.5" cy="1739.4" r="6.5" fill="#ff0000"/>
<circle cx="1867.5" cy="1739.4" r="6.5" fill="#ff0000"/>
<circle cx="1883.5" cy="1739.4" r="6.5" fill="#ff0000"/>
<circle cx="1900.5" cy="1739.4" r="6.5" fill="#ff0000"/>
<circle cx="1916.5" cy="1739.4" r="6.5" fill="#ff0000"/>
<circle cx="1932.5" cy="1739.4" r="6.5" fill="#ff0000"/>
<circle cx="1949.5" cy="1739.4" r="6.5" fill="#00ff00"/>
<circle cx="1965.5" cy="1739.4" r="6.5" fill="#ff0000"/>
<circle cx="1982.5" cy="1739.4" r="6.5" fill="#ff0000"/>
<circle cx="1998.5" cy="1739.4" r="6.5" fill="#ff0000"/>
<circle cx="2014.5" cy="1739.4" r="6.5" fill="#ff0000"/>
<circle cx="2014.5" cy="1739.4" r="3.5" fill="#00ff00"/>
<circle cx="2031.5" cy="1739.4" r="6.5" fill="#ff0000"/>
<circle cx="2031.5" cy="1739.4" r="3.5" fill="#00ff00"/>
<circle cx="2047.5" cy="1739.4" r="6.5" fill="#ff0000"/>
<circle cx="2047.5" cy="1739.4" r="3.5" fill="#00ff00"/>
<circle cx="2064.5" cy="1739.4" r="6.5" fill="#00ff00"/>
<circle cx="2080.5" cy="1739.4" r="6.5" fill="#00ff00"/>
<circle cx="2096.5" cy="1739.4" r="6.5" fill="#00ff00"/>
<circle cx="2113.5" cy="1739.4" r="6.5" fill="#00ff00"/>
<circle cx="2129.5" cy="1739.4" r="6.5" fill="#00ff00"/>
<circle cx="2145.5" cy="1739.4" r="6.5" fill="#00ff00"/>
<circle cx="2162.5" cy="1739.4" r="6.5" fill="#00ff00"/>
<circle cx="2178.5" cy="1739.4" r="6.5" fill="#00ff00"/>
<circle cx="2195.5" cy="1739.4" r="6.5" fill="#00ff00"/>
<circle cx="2211.5" cy="1739.4" r="6.5" fill="#ff0000"/>
<circle cx="2227.5" cy="1739.4" r="6.5" fill="#ff0000"/>
<circle cx="2227.5" cy="1739.4" r="3.5" fill="#00ff00"/>
<circle cx="2244.5" cy="1739.4" r="6.5" fill="#ff0000"/>
<circle cx="2244.5" cy="1739.4" r="3.5" fill="#00ff00"/>
<circle cx="2260.5" cy="1739.4" r="6.5" fill="#ff0000"/>
<circle cx="2260.5" cy="1739.4" r="3.5" fill="#00ff00"/>
<circle cx="2276.5" cy="1739.4" r="6.5" fill="#00ff00"/>
<circle cx="-0.5" cy="1760.5" r="6.5" fill="#ff0000"/>
<circle cx="16.5" cy="1760.5" r="6.5" fill="#ff0000"/>
<circle cx="48.5" cy="1760.5" r="6.5" fill="#00ff00"/>
<circle cx="48.5" cy="1760.5" r="3.5" fill="#ff0000"/>
<circle cx="65.5" cy="1760.5" r="6.5" fill="#00ff00"/>
<circle cx="65.5" cy="1760.5" r="3.5" fill="#ff0000"/>
<circle cx="81.5" cy="1760.5" r="6.5" fill="#00ff00"/>
<circle cx="81.5" cy="1760.5" r="3.5" fill="#ff0000"/>
<circle cx="98.5" cy="1760.5" r="6.5" fill="#00ff00"/>
<circle cx="98.5" cy="1760.5" r="3.5" fill="#ff0000"/>
<circle cx="114.5" cy="1760.5" r="6.5" fill="#00ff00"/>
<circle cx="114.5" cy="1760.5" r="3.5" fill="#ff0000"/>
<circle cx="130.5" cy="1760.5" r="6.5" fill="#00ff00"/>
<circle cx="130.5" cy="1760.5" r="3.5" fill="#ff0000"/>
<circle cx="147.5" cy="1760.5" r="6.5" fill="#00ff00"/>
<circle cx="147.5" cy="1760.5" r="3.5" fill="#ff0000"/>
<circle cx="163.5" cy="1760.5" r="6.5" fill="#00ff00"/>
<circle cx="163.5" cy="1760.5" r="3.5" fill="#ff0000"/>
<circle cx="179.5" cy="1760.5" r="6.5" fill="#ff0000"/>
<circle cx="196.5" cy="1760.5" r="6.5" fill="#ff0000"/>
<circle cx="212.5" cy="1760.5" r="6.5" fill="#ff0000"/>
<circle cx="229.5" cy="1760.5" r="6.5" fill="#ff0000"/>
<circle cx="245.5" cy="1760.5" r="6.5" fill="#ff0000"/>
<circle cx="261.5" cy="1760.5" r="6.5" fill="#00ff00"/>
<circle cx="261.5" cy="1760.5" r="3.5" fill="#ff0000"/>
<circle cx="278.5" cy="1760.5" r="6.5" fill="#00ff00"/>
<circle cx="278.5" cy="1760.5" r="3.5" fill="#ff0000"/>
<circle cx="294.5" cy="1760.5" r="6.5" fill="#00ff00"/>
<circle cx="294.5" cy="1760.5" r="3.5" fill="#ff0000"/>
<circle cx="311.5" cy="1760.5" r="6.5" fill="#00ff00"/>
<circle cx="311.5" cy="1760.5" r="3.5" fill="#ff0000"/>
<circle cx="327.5" cy="1760.5" r="6.5" fill="#ff0000"/>
<circle cx="343.5" cy="1760.5" r="6.5" fill="#ff0000"/>
<circle cx="360.5" cy="1760.5" r="6.5" fill="#ff0000"/>
<circle cx="376.5" cy="1760.5" r="6.5" fill="#ff0000"/>
<circle cx="392.5" cy="1760.5" r="6.5" fill="#ff0000"/>
<circle cx="409.5" cy="1760.5" r="6.5" fill="#ff0000"/>
<circle cx="425.5" cy="1760.5" r="6.5" fill="#ff0000"/>
<circle cx="442.5" cy="1760.5" r="6.5" fill="#00ff00"/>
<circle cx="442.5" cy="1760.5" r="3.5" fill="#ff0000"/>
<circle cx="458.5" cy="1760.5" r="6.5" fill="#00ff00"/>
<circle cx="458.5" cy="1760.5" r="3.5" fill="#ff0000"/>
<circle cx="474.5" cy="1760.5" r="6.5" fill="#00ff00"/>
<circle cx="474.5" cy="1760.5" r="3.5" fill="#ff0000"/>
<circle cx="491.5" cy="1760.5" r="6.5" fill="#00ff00"/>
<circle cx="491.5" cy="1760.5" r="3.5" fill="#ff0000"/>
<circle cx="507.5" cy="1760.5" r="6.5" fill="#00ff00"/>
<circle cx="507.5" cy="1760.5" r="3.5" fill="#ff0000"/>
<circle cx="524.5" cy="1760.5" r="6.5" fill="#00ff00"/>
<circle cx="524.5" cy="1760.5" r="3.5" fill="#ff0000"/>
<circle cx="540.5" cy="1760.5" r="6.5" fill="#00ff00"/>
<circle cx="540.5" cy="1760.5" r="3.5" fill="#ff0000"/>
<circle cx="556.5" cy="1760.5" r="6.5" fill="#ff0000"/>
<circle cx="573.5" cy="1760.5" r="6.5" fill="#ff0000"/>
<circle cx="589.5" cy="1760.5" r="6.5" fill="#ff0000"/>
<circle cx="605.5" cy="1760.5" r="6.5" fill="#ff0000"/>
<circle cx="622.5" cy="1760.5" r="6.5" fill="#ff0000"/>
<circle cx="638.5" cy="1760.5" r="6.5" fill="#ff0000"/>
<circle cx="655.5" cy="1760.5" r="6.5" fill="#ff0000"/>
<circle cx="671.5" cy="1760.5" r="6.5" fill="#ff0000"/>
<circle cx="687.5" cy="1760.5" r="6.5" fill="#ff0000"/>
<circle cx="704.5" cy="1760.5" r="6.5" fill="#00ff00"/>
<circle cx="720.5" cy="1760.5" r="6.5" fill="#00ff00"/>
<circle cx="720.5" cy="1760.5" r="3.5" fill="#ff0000"/>
<circle cx="736.5" cy="1760.5" r="6.5" fill="#00ff00"/>
<circle cx="736.5" cy="1760.5" r="3.5" fill="#ff0000"/>
<circle cx="753.5" cy="1760.5" r="6.5" fill="#00ff00"/>
<circle cx="753.5" cy="1760.5" r="3.5" fill="#ff0000"/>
<circle cx="769.5" cy="1760.5" r="6.5" fill="#00ff00"/>
<circle cx="769.5" cy="1760.5" r="3.5" fill="#ff0000"/>
<circle cx="786.5" cy="1760.5" r="6.5" fill="#00ff00"/>
<circle cx="786.5" cy="1760.5" r="3.5" fill="#ff0000"/>
<circle cx="802.5" cy="1760.5" r="6.5" fill="#00ff00"/>
<circle cx="802.5" cy="1760.5" r="3.5" fill="#ff0000"/>
<circle cx="818.5" cy="1760.5" r="6.5" fill="#ff0000"/>
<circle cx="835.5" cy="1760.5" r="6.5" fill="#ff0000"/>
<circle cx="851.5" cy="1760.5" r="6.5" fill="#ff0000"/>
<circle cx="868.5" cy="1760.5" r="6.5" fill="#ff0000"/>
<circle cx="884.5" cy="1760.5" r="6.5" fill="#ff0000"/>
<circle cx="900.5" cy="1760.5" r="6.5" fill="#ff0000"/>
<circle cx="917.5" cy="1760.5" r="6.5" fill="#ff0000"/>
<circle cx="933.5" cy="1760.5" r="6.5" fill="#ff0000"/>
<circle cx="949.5" cy="1760.5" r="6.5" fill="#ff0000"/>
<circle cx="966.5" cy="1760.5" r="6.5" fill="#ff0000"/>
<circle cx="982.5" cy="1760.5" r="6.5" fill="#ff0000"/>
<circle cx="999.5" cy="1760.5" r="6.5" fill="#ff0000"/>
<circle cx="1015.5" cy="1760.5" r="6.5" fill="#ff0000"/>
<circle cx="1031.5" cy="1760.5" r="6.5" fill="#ff0000"/>
<circle cx="1048.5" cy="1760.5" r="6.5" fill="#ff0000"/>
<circle cx="1064.5" cy="1760.5" r="6.5" fill="#ff0000"/>
<circle cx="1081.5" cy="1760.5" r="6.5" fill="#ff0000"/>
<circle cx="1097.5" cy="1760.5" r="6.5" fill="#ff0000"/>
<circle cx="1113.5" cy="1760.5" r="6.5" fill="#ff0000"/>
<circle cx="1130.5" cy="1760.5" r="6.5" fill="#ff0000"/>
<circle cx="1146.5" cy="1760.5" r="6.5" fill="#ff0000"/>
<circle cx="1162.5" cy="1760.5" r="6.5" fill="#ff0000"/>
<circle cx="1179.5" cy="1760.5" r="6.5" fill="#ff0000"/>
<circle cx="1195.5" cy="1760.5" r="6.5" fill="#ff0000"/>
<circle cx="1212.5" cy="1760.5" r="6.5" fill="#00ff00"/>
<circle cx="1228.5" cy="1760.5" r="6.5" fill="#00ff00"/>
<circle cx="1244.5" cy="1760.5" r="6.5" fill="#00ff00"/>
<circle cx="1261.5" cy="1760.5" r="6.5" fill="#00ff00"/>
<circle cx="1277.5" cy="1760.5" r="6.5" fill="#00ff00"/>
<circle cx="1294.5" cy="1760.5" r="6.5" fill="#00ff00"/>
<circle cx="1310.5" cy="1760.5" r="6.5" fill="#00ff00"/>
<circle cx="1326.5" cy="1760.5" r="6.5" fill="#00ff00"/>
<circle cx="1343.5" cy="1760.5" r="6.5" fill="#00ff00"/>
<circle cx="1359.5" cy="1760.5" r="6.5" fill="#00ff00"/>
<circle cx="1375.5" cy="1760.5" r="6.5" fill="#00ff00"/>
<circle cx="1392.5" cy="1760.5" r="6.5" fill="#00ff00"/>
<circle cx="1392.5" cy="1760.5" r="3.5" fill="#ff0000"/>
<circle cx="1408.5" cy="1760.5" r="6.5" fill="#00ff00"/>
<circle cx="1425.5" cy="1760.5" r="6.5" fill="#ff0000"/>
<circle cx="1441.5" cy="1760.5" r="6.5" fill="#ff0000"/>
<circle cx="1457.5" cy="1760.5" r="6.5" fill="#00ff00"/>
<circle cx="1457.5" cy="1760.5" r="3.5" fill="#ff0000"/>
<circle cx="1474.5" cy="1760.5" r="6.5" fill="#00ff00"/>
<circle cx="1474.5" cy="1760.5" r="3.5" fill="#ff0000"/>
<circle cx="1490.5" cy="1760.5" r="6.5" fill="#00ff00"/>
<circle cx="1490.5" cy="1760.5" r="3.5" fill="#ff0000"/>
<circle cx="1506.5" cy="1760.5" r="6.5" fill="#ff0000"/>
<circle cx="1523.5" cy="1760.5" r="6.5" fill="#ff0000"/>
<circle cx="1539.5" cy="1760.5" r="6.5" fill="#ff0000"/>
<circle cx="1556.5" cy="1760.5" r="6.5" fill="#ff0000"/>
<circle cx="1572.5" cy="1760.5" r="6.5" fill="#ff0000"/>
<circle cx="1588.5" cy="1760.5" r="6.5" fill="#ff0000"/>
<circle cx="1605.5" cy="1760.5" r="6.5" fill="#ff0000"/>
<circle cx="1621.5" cy="1760.5" r="6.5" fill="#ff0000"/>
<circle cx="1638.5" cy="1760.5" r="6.5" fill="#ff0000"/>
<circle cx="1654.5" cy="1760.5" r="6.5" fill="#ff0000"/>
<circle cx="1670.5" cy="1760.5" r="6.5" fill="#ff0000"/>
<circle cx="1687.5" cy="1760.5" r="6.5" fill="#ff0000"/>
<circle cx="1703.5" cy="1760.5" r="6.5" fill="#ff0000"/>
<circle cx="1719.5" cy="1760.5" r="6.5" fill="#ff0000"/>
<circle cx="1736.5" cy="1760.5" r="6.5" fill="#ff0000"/>
<circle cx="1752.5" cy="1760.5" r="6.5" fill="#ff0000"/>
<circle cx="1769.5" cy="1760.5" r="6.5" fill="#ff0000"/>
<circle cx="1785.5" cy="1760.5" r="6.5" fill="#00ff00"/>
<circle cx="1801.5" cy="1760.5" r="6.5" fill="#00ff00"/>
<circle cx="1818.5" cy="1760.5" r="6.5" fill="#00ff00"/>
<circle cx="1834.5" cy="1760.5" r="6.5" fill="#00ff00"/>
<circle cx="1851.5" cy="1760.5" r="6.5" fill="#00ff00"/>
<circle cx="1867.5" cy="1760.5" r="6.5" fill="#00ff00"/>
<circle cx="1883.5" cy="1760.5" r="6.5" fill="#00ff00"/>
<circle cx="1900.5" cy="1760.5" r="6.5" fill="#ff0000"/>
<circle cx="1916.5" cy="1760.5" r="6.5" fill="#ff0000"/>
<circle cx="1932.5" cy="1760.5" r="6.5" fill="#ff0000"/>
<circle cx="1949.5" cy="1760.5" r="6.5" fill="#ff0000"/>
<circle cx="1965.5" cy="1760.5" r="6.5" fill="#ff0000"/>
<circle cx="1982.5" cy="1760.5" r="6.5" fill="#ff0000"/>
<circle cx="1998.5" cy="1760.5" r="6.5" fill="#ff0000"/>
<circle cx="1998.5" cy="1760.5" r="3.5" fill="#00ff00"/>
<circle cx="2014.5" cy="1760.5" r="6.5" fill="#ff0000"/>
<circle cx="2014.5" cy="1760.5" r="3.5" fill="#00ff00"/>
<circle cx="2031.5" cy="1760.5" r="6.5" fill="#ff0000"/>
<circle cx="2031.5" cy="1760.5" r="3.5" fill="#00ff00"/>
<circle cx="2047.5" cy="1760.5" r="6.5" fill="#ff0000"/>
<circle cx="2047.5" cy="1760.5" r="3.5" fill="#00ff00"/>
<circle cx="2064.5" cy="1760.5" r="6.5" fill="#ff0000"/>
<circle cx="2064.5" cy="1760.5" r="3.5" fill="#00ff00"/>
<circle cx="2080.5" cy="1760.5" r="6.5" fill="#ff0000"/>
<circle cx="2080.5" cy="1760.5" r="3.5" fill="#00ff00"/>
<circle cx="2096.5" cy="1760.5" r="6.5" fill="#ff0000"/>
<circle cx="2096.5" cy="1760.5" r="3.5" fill="#00ff00"/>
<circle cx="2113.5" cy="1760.5" r="6.5" fill="#ff0000"/>
<circle cx="2113.5" cy="1760.5" r="3.5" fill="#00ff00"/>
<circle cx="2129.5" cy="1760.5" r="6.5" fill="#00ff00"/>
<circle cx="2145.5" cy="1760.5" r="6.5" fill="#00ff00"/>
<circle cx="2162.5" cy="1760.5" r="6.5" fill="#00ff00"/>
<circle cx="2178.5" cy="1760.5" r="6.5" fill="#00ff00"/>
<circle cx="2195.5" cy="1760.5" r="6.5" fill="#00ff00"/>
<circle cx="2211.5" cy="1760.5" r="6.5" fill="#ff0000"/>
<circle cx="2211.5" cy="1760.5" r="3.5" fill="#00ff00"/>
<circle cx="2227.5" cy="1760.5" r="6.5" fill="#ff0000"/>
<circle cx="2227.5" cy="1760.5" r="3.5" fill="#00ff00"/>
<circle cx="2244.5" cy="1760.5" r="6.5" fill="#ff0000"/>
<circle cx="2244.5" cy="1760.5" r="3.5" fill="#00ff00"/>
<circle cx="2260.5" cy="1760.5" r="6.5" fill="#00ff00"/>
<circle cx="2276.5" cy="1760.5" r="6.5" fill="#00ff00"/>
<circle cx="-0.5" cy="1782.5" r="6.5" fill="#00ff00"/>
<circle cx="-0.5" cy="1782.5" r="3.5" fill="#ff0000"/>
<circle cx="16.5" cy="1782.5" r="6.5" fill="#00ff00"/>
<circle cx="16.5" cy="1782.5" r="3.5" fill="#ff0000"/>
<circle cx="32.5" cy="1782.5" r="6.5" fill="#00ff00"/>
<circle cx="32.5" cy="1782.5" r="3.5" fill="#ff0000"/>
<circle cx="48.5" cy="1782.5" r="6.5" fill="#00ff00"/>
<circle cx="48.5" cy="1782.5" r="3.5" fill="#ff0000"/>
<circle cx="65.5" cy="1782.5" r="6.5" fill="#00ff00"/>
<circle cx="65.5" cy="1782.5" r="3.5" fill="#ff0000"/>
<circle cx="81.5" cy="1782.5" r="6.5" fill="#00ff00"/>
<circle cx="81.5" cy="1782.5" r="3.5" fill="#ff0000"/>
<circle cx="98.5" cy="1782.5" r="6.5" fill="#00ff00"/>
<circle cx="98.5" cy="1782.5" r="3.5" fill="#ff0000"/>
<circle cx="114.5" cy="1782.5" r="6.5" fill="#00ff00"/>
<circle cx="114.5" cy="1782.5" r="3.5" fill="#ff0000"/>
<circle cx="130.5" cy="1782.5" r="6.5" fill="#00ff00"/>
<circle cx="130.5" cy="1782.5" r="3.5" fill="#ff0000"/>
<circle cx="147.5" cy="1782.5" r="6.5" fill="#00ff00"/>
<circle cx="147.5" cy="1782.5" r="3.5" fill="#ff0000"/>
<circle cx="163.5" cy="1782.5" r="6.5" fill="#00ff00"/>
<circle cx="163.5" cy="1782.5" r="3.5" fill="#ff0000"/>
<circle cx="179.5" cy="1782.5" r="6.5" fill="#00ff00"/>
<circle cx="179.5" cy="1782.5" r="3.5" fill="#ff0000"/>
<circle cx="196.5" cy="1782.5" r="6.5" fill="#00ff00"/>
<circle cx="196.5" cy="1782.5" r="3.5" fill="#ff0000"/>
<circle cx="212.5" cy="1782.5" r="6.5" fill="#00ff00"/>
<circle cx="212.5" cy="1782.5" r="3.5" fill="#ff0000"/>
<circle cx="229.5" cy="1782.5" r="6.5" fill="#00ff00"/>
<circle cx="229.5" cy="1782.5" r="3.5" fill="#ff0000"/>
<circle cx="245.5" cy="1782.5" r="6.5" fill="#00ff00"/>
<circle cx="245.5" cy="1782.5" r="3.5" fill="#ff0000"/>
<circle cx="261.5" cy="1782.5" r="6.5" fill="#00ff00"/>
<circle cx="261.5" cy="1782.5" r="3.5" fill="#ff0000"/>
<circle cx="278.5" cy="1782.5" r="6.5" fill="#00ff00"/>
<circle cx="278.5" cy="1782.5" r="3.5" fill="#ff0000"/>
<circle cx="294.5" cy="1782.5" r="6.5" fill="#00ff00"/>
<circle cx="294.5" cy="1782.5" r="3.5" fill="#ff0000"/>
<circle cx="311.5" cy="1782.5" r="6.5" fill="#00ff00"/>
<circle cx="311.5" cy="1782.5" r="3.5" fill="#ff0000"/>
<circle cx="327.5" cy="1782.5" r="6.5" fill="#ff0000"/>
<circle cx="343.5" cy="1782.5" r="6.5" fill="#ff0000"/>
<circle cx="360.5" cy="1782.5" r="6.5" fill="#ff0000"/>
<circle cx="376.5" cy="1782.5" r="6.5" fill="#ff0000"/>
<circle cx="392.5" cy="1782.5" r="6.5" fill="#ff0000"/>
<circle cx="409.5" cy="1782.5" r="6.5" fill="#ff0000"/>
<circle cx="425.5" cy="1782.5" r="6.5" fill="#ff0000"/>
<circle cx="442.5" cy="1782.5" r="6.5" fill="#00ff00"/>
<circle cx="442.5" cy="1782.5" r="3.5" fill="#ff0000"/>
<circle cx="458.5" cy="1782.5" r="6.5" fill="#ff0000"/>
<circle cx="474.5" cy="1782.5" r="6.5" fill="#ff0000"/>
<circle cx="491.5" cy="1782.5" r="6.5" fill="#ff0000"/>
<circle cx="507.5" cy="1782.5" r="6.5" fill="#ff0000"/>
<circle cx="524.5" cy="1782.5" r="6.5" fill="#ff0000"/>
<circle cx="540.5" cy="1782.5" r="6.5" fill="#ff0000"/>
<circle cx="556.5" cy="1782.5" r="6.5" fill="#00ff00"/>
<circle cx="556.5" cy="1782.5" r="3.5" fill="#ff0000"/>
<circle cx="573.5" cy="1782.5" r="6.5" fill="#ff0000"/>
<circle cx="589.5" cy="1782.5" r="6.5" fill="#ff0000"/>
<circle cx="605.5" cy="1782.5" r="6.5" fill="#ff0000"/>
<circle cx="622.5" cy="1782.5" r="6.5" fill="#ff0000"/>
<circle cx="638.5" cy="1782.5" r="6.5" fill="#ff0000"/>
<circle cx="655.5" cy="1782.5" r="6.5" fill="#ff0000"/>
<circle cx="671.5" cy="1782.5" r="6.5" fill="#ff0000"/>
<circle cx="687.5" cy="1782.5" r="6.5" fill="#ff0000"/>
<circle cx="704.5" cy="1782.5" r="6.5" fill="#ff0000"/>
<circle cx="720.5" cy="1782.5" r="6.5" fill="#ff0000"/>
<circle cx="736.5" cy="1782.5" r="6.5" fill="#ff0000"/>
<circle cx="753.5" cy="1782.5" r="6.5" fill="#ff0000"/>
<circle cx="769.5" cy="1782.5" r="6.5" fill="#00ff00"/>
<circle cx="769.5" cy="1782.5" r="3.5" fill="#ff0000"/>
<circle cx="786.5" cy="1782.5" r="6.5" fill="#00ff00"/>
<circle cx="786.5" cy="1782.5" r="3.5" fill="#ff0000"/>
<circle cx="802.5" cy="1782.5" r="6.5" fill="#00ff00"/>
<circle cx="802.5" cy="1782.5" r="3.5" fill="#ff0000"/>
<circle cx="818.5" cy="1782.5" r="6.5" fill="#ff0000"/>
<circle cx="835.5" cy="1782.5" r="6.5" fill="#ff0000"/>
<circle cx="851.5" cy="1782.5" r="6.5" fill="#ff0000"/>
<circle cx="868.5" cy="1782.5" r="6.5" fill="#ff0000"/>
<circle cx="884.5" cy="1782.5" r="6.5" fill="#ff0000"/>
<circle cx="900.5" cy="1782.5" r="6.5" fill="#ff0000"/>
<circle cx="917.5" cy="1782.5" r="6.5" fill="#ff0000"/>
<circle cx="933.5" cy="1782.5" r="6.5" fill="#ff0000"/>
<circle cx="949.5" cy="1782.5" r="6.5" fill="#ff0000"/>
<circle cx="966.5" cy="1782.5" r="6.5" fill="#ff0000"/>
<circle cx="982.5" cy="1782.5" r="6.5" fill="#ff0000"/>
<circle cx="999.5" cy="1782.5" r="6.5" fill="#ff0000"/>
<circle cx="1015.5" cy="1782.5" r="6.5" fill="#ff0000"/>
<circle cx="1031.5" cy="1782.5" r="6.5" fill="#ff0000"/>
<circle cx="1048.5" cy="1782.5" r="6.5" fill="#ff0000"/>
<circle cx="1064.5" cy="1782.5" r="6.5" fill="#ff0000"/>
<circle cx="1081.5" cy="1782.5" r="6.5" fill="#ff0000"/>
<circle cx="1097.5" cy="1782.5" r="6.5" fill="#ff0000"/>
<circle cx="1113.5" cy="1782.5" r="6.5" fill="#ff0000"/>
<circle cx="1130.5" cy="1782.5" r="6.5" fill="#ff0000"/>
<circle cx="1146.5" cy="1782.5" r="6.5" fill="#ff0000"/>
<circle cx="1162.5" cy="1782.5" r="6.5" fill="#ff0000"/>
<circle cx="1179.5" cy="1782.5" r="6.5" fill="#ff0000"/>
<circle cx="1195.5" cy="1782.5" r="6.5" fill="#ff0000"/>
<circle cx="1212.5" cy="1782.5" r="6.5" fill="#ff0000"/>
<circle cx="1228.5" cy="1782.5" r="6.5" fill="#ff0000"/>
<circle cx="1244.5" cy="1782.5" r="6.5" fill="#ff0000"/>
<circle cx="1261.5" cy="1782.5" r="6.5" fill="#ff0000"/>
<circle cx="1277.5" cy="1782.5" r="6.5" fill="#ff0000"/>
<circle cx="1294.5" cy="1782.5" r="6.5" fill="#00ff00"/>
<circle cx="1310.5" cy="1782.5" r="6.5" fill="#00ff00"/>
<circle cx="1326.5" cy="1782.5" r="6.5" fill="#00ff00"/>
<circle cx="1343.5" cy="1782.5" r="6.5" fill="#00ff00"/>
<circle cx="1359.5" cy="1782.5" r="6.5" fill="#00ff00"/>
<circle cx="1375.5" cy="1782.5" r="6.5" fill="#00ff00"/>
<circle cx="1392.5" cy="1782.5" r="6.5" fill="#00ff00"/>
<circle cx="1408.5" cy="1782.5" r="6.5" fill="#00ff00"/>
<circle cx="1425.5" cy="1782.5" r="6.5" fill="#00ff00"/>
<circle cx="1441.5" cy="1782.5" r="6.5" fill="#00ff00"/>
<circle cx="1457.5" cy="1782.5" r="6.5" fill="#00ff00"/>
<circle cx="1474.5" cy="1782.5" r="6.5" fill="#00ff00"/>
<circle cx="1474.5" cy="1782.5" r="3.5" fill="#ff0000"/>
<circle cx="1490.5" cy="1782.5" r="6.5" fill="#00ff00"/>
<circle cx="1490.5" cy="1782.5" r="3.5" fill="#ff0000"/>
<circle cx="1506.5" cy="1782.5" r="6.5" fill="#00ff00"/>
<circle cx="1506.5" cy="1782.5" r="3.5" fill="#ff0000"/>
<circle cx="1523.5" cy="1782.5" r="6.5" fill="#00ff00"/>
<circle cx="1523.5" cy="1782.5" r="3.5" fill="#ff0000"/>
<circle cx="1539.5" cy="1782.5" r="6.5" fill="#00ff00"/>
<circle cx="1539.5" cy="1782.5" r="3.5" fill="#ff0000"/>
<circle cx="1556.5" cy="1782.5" r="6.5" fill="#00ff00"/>
<circle cx="1556.5" cy="1782.5" r="3.5" fill="#ff0000"/>
<circle cx="1572.5" cy="1782.5" r="6.5" fill="#ff0000"/>
<circle cx="1588.5" cy="1782.5" r="6.5" fill="#ff0000"/>
<circle cx="1605.5" cy="1782.5" r="6.5" fill="#ff0000"/>
<circle cx="1621.5" cy="1782.5" r="6.5" fill="#ff0000"/>
<circle cx="1638.5" cy="1782.5" r="6.5" fill="#ff0000"/>
<circle cx="1654.5" cy="1782.5" r="6.5" fill="#ff0000"/>
<circle cx="1670.5" cy="1782.5" r="6.5" fill="#ff0000"/>
<circle cx="1687.5" cy="1782.5" r="6.5" fill="#ff0000"/>
<circle cx="1703.5" cy="1782.5" r="6.5" fill="#ff0000"/>
<circle cx="1719.5" cy="1782.5" r="6.5" fill="#ff0000"/>
<circle cx="1736.5" cy="1782.5" r="6.5" fill="#ff0000"/>
<circle cx="1752.5" cy="1782.5" r="6.5" fill="#ff0000"/>
<circle cx="1769.5" cy="1782.5" r="6.5" fill="#ff0000"/>
<circle cx="1785.5" cy="1782.5" r="6.5" fill="#ff0000"/>
<circle cx="1801.5" cy="1782.5" r="6.5" fill="#ff0000"/>
<circle cx="1818.5" cy="1782.5" r="6.5" fill="#ff0000"/>
<circle cx="1834.5" cy="1782.5" r="6.5" fill="#ff0000"/>
<circle cx="1851.5" cy="1782.5" r="6.5" fill="#ff0000"/>
<circle cx="1867.5" cy="1782.5" r="6.5" fill="#00ff00"/>
<circle cx="1883.5" cy="1782.5" r="6.5" fill="#00ff00"/>
<circle cx="1900.5" cy="1782.5" r="6.5" fill="#00ff00"/>
<circle cx="1916.5" cy="1782.5" r="6.5" fill="#00ff00"/>
<circle cx="1932.5" cy="1782.5" r="6.5" fill="#00ff00"/>
<circle cx="1949.5" cy="1782.5" r="6.5" fill="#00ff00"/>
<circle cx="1965.5" cy="1782.5" r="6.5" fill="#00ff00"/>
<circle cx="1982.5" cy="1782.5" r="6.5" fill="#ff0000"/>
<circle cx="1998.5" cy="1782.5" r="6.5" fill="#ff0000"/>
<circle cx="2014.5" cy="1782.5" r="6.5" fill="#ff0000"/>
<circle cx="2031.5" cy="1782.5" r="6.5" fill="#ff0000"/>
<circle cx="2047.5" cy="1782.5" r="6.5" fill="#ff0000"/>
<circle cx="2064.5" cy="1782.5" r="6.5" fill="#ff0000"/>
<circle cx="2064.5" cy="1782.5" r="3.5" fill="#00ff00"/>
<circle cx="2080.5" cy="1782.5" r="6.5" fill="#ff0000"/>
<circle cx="2080.5" cy="1782.5" r="3.5" fill="#00ff00"/>
<circle cx="2096.5" cy="1782.5" r="6.5" fill="#ff0000"/>
<circle cx="2096.5" cy="1782.5" r="3.5" fill="#00ff00"/>
<circle cx="2113.5" cy="1782.5" r="6.5" fill="#ff0000"/>
<circle cx="2113.5" cy="1782.5" r="3.5" fill="#00ff00"/>
<circle cx="2129.5" cy="1782.5" r="6.5" fill="#ff0000"/>
<circle cx="2129.5" cy="1782.5" r="3.5" fill="#00ff00"/>
<circle cx="2145.5" cy="1782.5" r="6.5" fill="#ff0000"/>
<circle cx="2145.5" cy="1782.5" r="3.5" fill="#00ff00"/>
<circle cx="2162.5" cy="1782.5" r="6.5" fill="#ff0000"/>
<circle cx="2162.5" cy="1782.5" r="3.5" fill="#00ff00"/>
<circle cx="2178.5" cy="1782.5" r="6.5" fill="#ff0000"/>
<circle cx="2178.5" cy="1782.5" r="3.5" fill="#00ff00"/>
<circle cx="2195.5" cy="1782.5" r="6.5" fill="#ff0000"/>
<circle cx="2195.5" cy="1782.5" r="3.5" fill="#00ff00"/>
<circle cx="2211.5" cy="1782.5" r="6.5" fill="#ff0000"/>
<circle cx="2211.5" cy="1782.5" r="3.5" fill="#00ff00"/>
<circle cx="2227.5" cy="1782.5" r="6.5" fill="#ff0000"/>
<circle cx="2227.5" cy="1782.5" r="3.5" fill="#00ff00"/>
<circle cx="2244.5" cy="1782.5" r="6.5" fill="#ff0000"/>
<circle cx="2244.5" cy="1782.5" r="3.5" fill="#00ff00"/>
<circle cx="2260.5" cy="1782.5" r="6.5" fill="#00ff00"/>
<circle cx="2276.5" cy="1782.5" r="6.5" fill="#00ff00"/>
<path d="M13.2 1745.3H30.8V1767.7H22.1V1754.4H13.2Z M47.6 1745.3H57.6L49 1767.7H38.8Z" fill="#fff" stroke="#fff" stroke-width="5.6" stroke-linejoin="miter"/>
<circle cx="38.4" cy="1750" r="7.2" fill="#fff"/>
<path d="M13.2 1745.3H30.8V1767.7H22.1V1754.4H13.2Z M47.6 1745.3H57.6L49 1767.7H38.8Z" fill="#0f0f0f"/>
<circle cx="38.4" cy="1750" r="4.4" fill="#0f0f0f"/>
<g opacity="0.999">
<text x="2900.6" y="64.2" font-size="18" fill="#131722" textLength="53.3" lengthAdjust="spacingAndGlyphs">160,00</text>
<text x="2900.6" y="129.1" font-size="18" fill="#131722" textLength="53.3" lengthAdjust="spacingAndGlyphs">152,00</text>
<text x="2900.6" y="197.5" font-size="18" fill="#131722" textLength="53.3" lengthAdjust="spacingAndGlyphs">144,00</text>
<text x="2900.6" y="269.8" font-size="18" fill="#131722" textLength="53.3" lengthAdjust="spacingAndGlyphs">136,00</text>
<text x="2900.6" y="346.5" font-size="18" fill="#131722" textLength="53.3" lengthAdjust="spacingAndGlyphs">128,00</text>
<text x="2900.6" y="396.9" font-size="18" fill="#131722" textLength="53.3" lengthAdjust="spacingAndGlyphs">123,00</text>
<text x="2900.6" y="449.3" font-size="18" fill="#131722" textLength="53.3" lengthAdjust="spacingAndGlyphs">118,00</text>
<text x="2900.6" y="515.4" font-size="18" fill="#131722" textLength="53.3" lengthAdjust="spacingAndGlyphs">112,00</text>
<text x="2900.6" y="561.4" font-size="18" fill="#131722" textLength="53.3" lengthAdjust="spacingAndGlyphs">108,00</text>
<text x="2900.6" y="609.1" font-size="18" fill="#131722" textLength="53.3" lengthAdjust="spacingAndGlyphs">104,00</text>
<text x="2900.6" y="658.7" font-size="18" fill="#131722" textLength="53.3" lengthAdjust="spacingAndGlyphs">100,00</text>
<text x="2900.6" y="710.3" font-size="18" fill="#131722" textLength="44.6" lengthAdjust="spacingAndGlyphs">96,00</text>
<text x="2900.6" y="764.2" font-size="18" fill="#131722" textLength="44.6" lengthAdjust="spacingAndGlyphs">92,00</text>
<text x="2900.6" y="820.4" font-size="18" fill="#131722" textLength="44.6" lengthAdjust="spacingAndGlyphs">88,00</text>
<text x="2900.6" y="879.2" font-size="18" fill="#131722" textLength="44.6" lengthAdjust="spacingAndGlyphs">84,00</text>
<text x="2900.6" y="925.2" font-size="18" fill="#131722" textLength="44.6" lengthAdjust="spacingAndGlyphs">81,00</text>
<text x="2900.6" y="973.0" font-size="18" fill="#131722" textLength="44.6" lengthAdjust="spacingAndGlyphs">78,00</text>
<text x="2900.6" y="1022.6" font-size="18" fill="#131722" textLength="44.6" lengthAdjust="spacingAndGlyphs">75,00</text>
<text x="2900.6" y="1074.2" font-size="18" fill="#131722" textLength="44.6" lengthAdjust="spacingAndGlyphs">72,00</text>
<text x="2900.6" y="1128.0" font-size="18" fill="#131722" textLength="44.6" lengthAdjust="spacingAndGlyphs">69,00</text>
<text x="2900.6" y="1174.7" font-size="18" fill="#131722" textLength="44.6" lengthAdjust="spacingAndGlyphs">66,50</text>
<text x="2900.6" y="1223.2" font-size="18" fill="#131722" textLength="44.6" lengthAdjust="spacingAndGlyphs">64,00</text>
<text x="2900.6" y="1273.6" font-size="18" fill="#131722" textLength="44.6" lengthAdjust="spacingAndGlyphs">61,50</text>
<text x="2900.6" y="1319.7" font-size="18" fill="#131722" textLength="44.6" lengthAdjust="spacingAndGlyphs">59,30</text>
<text x="2900.6" y="1365.3" font-size="18" fill="#131722" textLength="44.6" lengthAdjust="spacingAndGlyphs">57,20</text>
<rect x="2887" y="736.4" width="65" height="26.5" rx="2.5" fill="#00ff00"/>
<text x="2900.6" y="756.0" font-size="18" fill="#000" textLength="44.6" lengthAdjust="spacingAndGlyphs">92,73</text>
<text x="2900.6" y="1383.3" font-size="18" fill="#131722" textLength="44.6" lengthAdjust="spacingAndGlyphs">15,00</text>
<text x="2900.6" y="1436.2" font-size="18" fill="#131722" textLength="44.6" lengthAdjust="spacingAndGlyphs">12,50</text>
<text x="2900.6" y="1488.2" font-size="18" fill="#131722" textLength="44.6" lengthAdjust="spacingAndGlyphs">10,00</text>
<text x="2900.6" y="1539.8" font-size="18" fill="#131722" textLength="34.2" lengthAdjust="spacingAndGlyphs">7,50</text>
<text x="2900.6" y="1602.1" font-size="18" fill="#131722" textLength="34.2" lengthAdjust="spacingAndGlyphs">4,00</text>
<text x="2900.6" y="1655.9" font-size="18" fill="#131722" textLength="53.3" lengthAdjust="spacingAndGlyphs">0,0000</text>
<text x="2900.6" y="1711.1" font-size="18" fill="#131722" textLength="43.4" lengthAdjust="spacingAndGlyphs">−4,00</text>
<text x="2900.6" y="1733.6" font-size="18" fill="#131722" textLength="53.3" lengthAdjust="spacingAndGlyphs">0,0000</text>
<text x="2900.6" y="1787.4" font-size="18" fill="#131722" textLength="43.4" lengthAdjust="spacingAndGlyphs">−2,50</text>
<path d="M2916.8 1810.55L2921.7 1801.7H2932.8L2937.8 1810.55L2932.8 1819.5H2921.7Z" fill="none" stroke="#0a0a0a" stroke-width="1.5" stroke-linejoin="round"/><circle cx="2927.25" cy="1810.6" r="3.1" fill="none" stroke="#0a0a0a" stroke-width="1.5"/>
<text x="245.5" y="1817.1" font-size="18" fill="#131722" text-anchor="middle">Jun</text>
<text x="573.5" y="1817.1" font-size="18" fill="#131722" text-anchor="middle">Jul</text>
<text x="933.5" y="1817.1" font-size="18" fill="#131722" text-anchor="middle">Aug</text>
<text x="1277.5" y="1817.1" font-size="18" fill="#131722" text-anchor="middle">Sep</text>
<text x="1621.5" y="1817.1" font-size="18" fill="#131722" text-anchor="middle">Okt</text>
<text x="1998.5" y="1817.1" font-size="18" fill="#131722" text-anchor="middle">Nov</text>
<text x="2309.5" y="1817.1" font-size="18" fill="#131722" text-anchor="middle">Dez</text>
<text x="2670.5" y="1817.1" font-size="18" fill="#131722" text-anchor="middle" font-weight="bold">2026</text>
<text x="1001.0" y="1385.2" font-size="18" fill="#131722" textLength="25.0" lengthAdjust="spacingAndGlyphs">ICE</text>
<text x="1031.6" y="1385.2" font-size="18" fill="#131722" textLength="59.0" lengthAdjust="spacingAndGlyphs">Trading</text>
<text x="1096.2" y="1385.2" font-size="18" fill="#131722" textLength="54.6" lengthAdjust="spacingAndGlyphs">Deluxe</text>
<text x="1156.5" y="1385.2" font-size="18" fill="#131722" textLength="24.0" lengthAdjust="spacingAndGlyphs">Big</text>
<text x="1185.9" y="1385.2" font-size="18" fill="#131722" textLength="41.5" lengthAdjust="spacingAndGlyphs">Point</text>
<text x="825.7" y="1438.3" font-size="18" fill="#131722" textLength="29.1" lengthAdjust="spacingAndGlyphs">Von</text>
<text x="860.0" y="1438.3" font-size="18" fill="#131722" textLength="44.8" lengthAdjust="spacingAndGlyphs">oben:</text>
<text x="910.9" y="1438.3" font-size="18" fill="#131722" textLength="50.5" lengthAdjust="spacingAndGlyphs">Status</text>
<text x="971.0" y="1438.3" font-size="18" fill="#131722" text-anchor="middle">/</text>
<text x="980.6" y="1438.3" font-size="18" fill="#131722" textLength="98.4" lengthAdjust="spacingAndGlyphs">Kerzenfarbe</text>
<text x="1089.5" y="1438.3" font-size="18" fill="#131722" text-anchor="middle">/</text>
<text x="1098.8" y="1438.3" font-size="18" fill="#131722" textLength="102.1" lengthAdjust="spacingAndGlyphs">Wolkenfarbe</text>
<text x="1210.8" y="1438.3" font-size="18" fill="#131722" text-anchor="middle">/</text>
<text x="1220.7" y="1438.3" font-size="18" fill="#131722" textLength="45.2" lengthAdjust="spacingAndGlyphs">Trend</text>
<text x="1276.0" y="1438.3" font-size="18" fill="#131722" text-anchor="middle">/</text>
<text x="1285.9" y="1438.3" font-size="18" fill="#131722" textLength="49.9" lengthAdjust="spacingAndGlyphs">Setter</text>
<text x="1346.2" y="1438.3" font-size="18" fill="#131722" text-anchor="middle">/</text>
<text x="1355.7" y="1438.3" font-size="18" fill="#131722" textLength="45.4" lengthAdjust="spacingAndGlyphs">Welle</text>
<text x="1058.1" y="1587.0" font-size="18" fill="#131722" textLength="25.0" lengthAdjust="spacingAndGlyphs">ICE</text>
<text x="1088.6" y="1587.0" font-size="18" fill="#131722" textLength="33.8" lengthAdjust="spacingAndGlyphs">DNA</text>
<text x="1127.4" y="1587.0" font-size="18" fill="#131722" textLength="40.3" lengthAdjust="spacingAndGlyphs">Code</text>
<clipPath id="cm"><rect x="900" y="1721" width="500" height="20"/></clipPath>
<text x="1001.9" y="1724.9" font-size="18" fill="#131722" textLength="90.3" lengthAdjust="spacingAndGlyphs" clip-path="url(#cm)">Momentum</text>
<text x="1097.2" y="1724.9" font-size="18" fill="#131722" textLength="49.5" lengthAdjust="spacingAndGlyphs" clip-path="url(#cm)">Status</text>
<text x="1152.2" y="1724.9" font-size="18" fill="#131722" textLength="69.9" lengthAdjust="spacingAndGlyphs" clip-path="url(#cm)">Indikator</text>
<defs><linearGradient id="rg" x1="0" y1="0" x2="0" y2="1"><stop offset="0" stop-color="#eef1f6"/><stop offset="1" stop-color="#b4bcc9"/></linearGradient></defs>
<circle cx="21.4" cy="13.2" r="13.3" fill="#14171b"/>
<g transform="rotate(15.5 21.4 13.55)"><rect x="14.9" y="7.05" width="13" height="13" fill="url(#rg)"/><rect x="19.8" y="11.95" width="3.2" height="3.2" fill="#14171b"/></g>
<text x="41.2" y="22.3" font-size="24" fill="#131722" textLength="71.1" lengthAdjust="spacingAndGlyphs">Roblox</text>
<text x="119.7" y="22.3" font-size="24" fill="#131722" textLength="126.3" lengthAdjust="spacingAndGlyphs">Corporation</text>
<text x="265.5" y="22.3" font-size="24" fill="#131722" textLength="25.9" lengthAdjust="spacingAndGlyphs">1T</text>
<text x="310.0" y="22.3" font-size="24" fill="#131722" textLength="53.0" lengthAdjust="spacingAndGlyphs">NYSE</text>
<circle cx="255.5" cy="15.1" r="1.9" fill="#131722"/><circle cx="300" cy="15.1" r="1.9" fill="#131722"/>
<circle cx="388.5" cy="13.2" r="13.7" fill="#f0f0f0"/>
<g fill="#9b9b9b" transform="translate(388.1 12.9)"><path d="M-0.7 0L-1.95 -6.7A1.95 1.95 0 1 1 1.95 -6.7L0.7 0Z" transform="rotate(0)"/><path d="M-0.7 0L-1.95 -6.7A1.95 1.95 0 1 1 1.95 -6.7L0.7 0Z" transform="rotate(60)"/><path d="M-0.7 0L-1.95 -6.7A1.95 1.95 0 1 1 1.95 -6.7L0.7 0Z" transform="rotate(120)"/><path d="M-0.7 0L-1.95 -6.7A1.95 1.95 0 1 1 1.95 -6.7L0.7 0Z" transform="rotate(180)"/><path d="M-0.7 0L-1.95 -6.7A1.95 1.95 0 1 1 1.95 -6.7L0.7 0Z" transform="rotate(240)"/><path d="M-0.7 0L-1.95 -6.7A1.95 1.95 0 1 1 1.95 -6.7L0.7 0Z" transform="rotate(300)"/></g>
<text x="413.8" y="20.2" font-size="19.5" fill="#131722" textLength="13.2" lengthAdjust="spacingAndGlyphs">O</text>
<text x="430.0" y="20.2" font-size="19.5" fill="#089981" textLength="46.0" lengthAdjust="spacingAndGlyphs">92,17</text>
<text x="486.2" y="20.2" font-size="19.5" fill="#131722" textLength="11.6" lengthAdjust="spacingAndGlyphs">H</text>
<text x="500.5" y="20.2" font-size="19.5" fill="#089981" textLength="46.8" lengthAdjust="spacingAndGlyphs">94,74</text>
<text x="556.7" y="20.2" font-size="19.5" fill="#131722" textLength="9.2" lengthAdjust="spacingAndGlyphs">L</text>
<text x="568.4" y="20.2" font-size="19.5" fill="#089981" textLength="46.4" lengthAdjust="spacingAndGlyphs">92,01</text>
<text x="625.2" y="20.2" font-size="19.5" fill="#131722" textLength="11.5" lengthAdjust="spacingAndGlyphs">C</text>
<text x="638.9" y="20.2" font-size="19.5" fill="#089981" textLength="47.2" lengthAdjust="spacingAndGlyphs">92,73</text>
<text x="696.2" y="20.2" font-size="19.5" fill="#089981" textLength="46.8" lengthAdjust="spacingAndGlyphs">+1,66</text>
<text x="750.4" y="20.2" font-size="19.5" fill="#089981" textLength="72.6" lengthAdjust="spacingAndGlyphs">(+1,82%)</text>
<rect x="7.6" y="36.6" width="45.9" height="28.7" rx="4" fill="#fff" stroke="#dcdde0" stroke-width="1.1"/>
<path d="M16.2 48.5L22.2 53.8L28.2 48.5" fill="none" stroke="#0c0c0e" stroke-width="1.9"/>
<text x="36.2" y="57.9" font-size="19.5" fill="#0c0c0e" textLength="10.6" lengthAdjust="spacingAndGlyphs">2</text>
</g>
<rect x="2892.5" y="-6" width="67.5" height="38.3" rx="5" fill="#fff" stroke="#ebebeb" stroke-width="1.2"/>
<text x="2897.8" y="19.8" font-size="18" fill="#131722" textLength="30.4" lengthAdjust="spacingAndGlyphs">USD</text>
<path d="M2946.3 11.8L2950.2 15.6L2954.1 11.8" fill="none" stroke="#131722" stroke-width="2"/>
</svg>
</body></html>
